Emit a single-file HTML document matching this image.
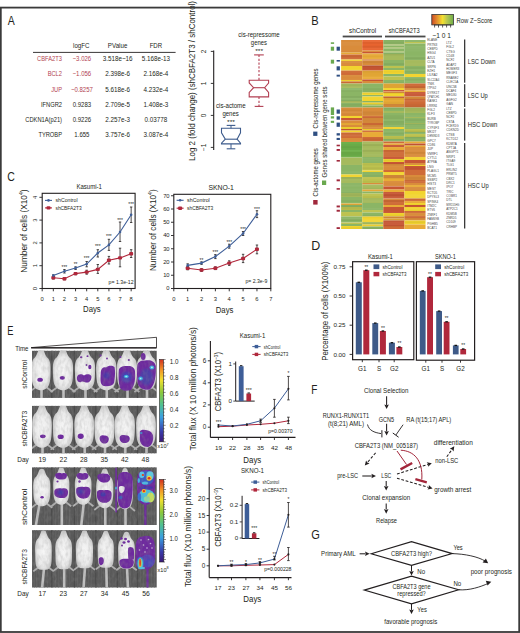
<!DOCTYPE html>
<html><head><meta charset="utf-8"><style>
html,body{margin:0;padding:0;background:#fff;overflow:hidden;width:520px;height:633px;}
svg{display:block;}
text{font-family:"Liberation Sans",sans-serif;}
</style></head><body>
<svg width="520" height="633" viewBox="0 0 520 633">
<rect x="0" y="0" width="520" height="633" fill="#fff"/>
<g fill="#231f20">
<text x="7.80" y="24.70" font-size="12" textLength="7.00" lengthAdjust="spacingAndGlyphs">A</text>
<text x="81.30" y="48.08" font-size="7.0" text-anchor="middle" textLength="16.50" lengthAdjust="spacingAndGlyphs">logFC</text>
<text x="117.60" y="48.08" font-size="7.0" text-anchor="middle" textLength="19.50" lengthAdjust="spacingAndGlyphs">PValue</text>
<text x="155.90" y="48.08" font-size="7.0" text-anchor="middle" textLength="12.50" lengthAdjust="spacingAndGlyphs">FDR</text>
<line x1="33.00" y1="52.40" x2="175.60" y2="52.40" stroke="#231f20" stroke-width="0.9"/>
<text x="62.00" y="61.28" font-size="7.0" text-anchor="end" fill="#b23f52" textLength="24.88" lengthAdjust="spacingAndGlyphs">CBFA2T3</text>
<text x="81.90" y="61.28" font-size="7.0" text-anchor="middle" fill="#b23f52" textLength="18.58" lengthAdjust="spacingAndGlyphs">−3.026</text>
<text x="117.60" y="61.28" font-size="7.0" text-anchor="middle" textLength="29.95" lengthAdjust="spacingAndGlyphs">3.518e−16</text>
<text x="155.90" y="61.28" font-size="7.0" text-anchor="middle" textLength="28.37" lengthAdjust="spacingAndGlyphs">5.168e-13</text>
<text x="62.00" y="76.40" font-size="7.0" text-anchor="end" fill="#b23f52" textLength="14.36" lengthAdjust="spacingAndGlyphs">BCL2</text>
<text x="81.90" y="76.40" font-size="7.0" text-anchor="middle" fill="#b23f52" textLength="18.58" lengthAdjust="spacingAndGlyphs">−1.056</text>
<text x="117.60" y="76.40" font-size="7.0" text-anchor="middle" textLength="24.87" lengthAdjust="spacingAndGlyphs">2.398e-6</text>
<text x="155.90" y="76.40" font-size="7.0" text-anchor="middle" textLength="24.87" lengthAdjust="spacingAndGlyphs">2.168e-4</text>
<text x="62.00" y="91.52" font-size="7.0" text-anchor="end" fill="#b23f52" textLength="10.84" lengthAdjust="spacingAndGlyphs">JUP</text>
<text x="81.90" y="91.52" font-size="7.0" text-anchor="middle" fill="#b23f52" textLength="21.93" lengthAdjust="spacingAndGlyphs">−0.8257</text>
<text x="117.60" y="91.52" font-size="7.0" text-anchor="middle" textLength="24.87" lengthAdjust="spacingAndGlyphs">5.618e-6</text>
<text x="155.90" y="91.52" font-size="7.0" text-anchor="middle" textLength="24.87" lengthAdjust="spacingAndGlyphs">4.232e-4</text>
<text x="62.00" y="106.64" font-size="7.0" text-anchor="end" textLength="21.05" lengthAdjust="spacingAndGlyphs">IFNGR2</text>
<text x="81.90" y="106.64" font-size="7.0" text-anchor="middle" textLength="18.41" lengthAdjust="spacingAndGlyphs">0.9283</text>
<text x="117.60" y="106.64" font-size="7.0" text-anchor="middle" textLength="24.87" lengthAdjust="spacingAndGlyphs">2.709e-5</text>
<text x="155.90" y="106.64" font-size="7.0" text-anchor="middle" textLength="24.87" lengthAdjust="spacingAndGlyphs">1.408e-3</text>
<text x="62.00" y="121.76" font-size="7.0" text-anchor="end" textLength="36.68" lengthAdjust="spacingAndGlyphs">CDKN1A(p21)</text>
<text x="81.90" y="121.76" font-size="7.0" text-anchor="middle" textLength="18.41" lengthAdjust="spacingAndGlyphs">0.9226</text>
<text x="117.60" y="121.76" font-size="7.0" text-anchor="middle" textLength="24.87" lengthAdjust="spacingAndGlyphs">2.257e-3</text>
<text x="155.90" y="121.76" font-size="7.0" text-anchor="middle" textLength="22.77" lengthAdjust="spacingAndGlyphs">0.03778</text>
<text x="62.00" y="136.88" font-size="7.0" text-anchor="end" textLength="23.60" lengthAdjust="spacingAndGlyphs">TYROBP</text>
<text x="81.90" y="136.88" font-size="7.0" text-anchor="middle" textLength="15.06" lengthAdjust="spacingAndGlyphs">1.655</text>
<text x="117.60" y="136.88" font-size="7.0" text-anchor="middle" textLength="24.87" lengthAdjust="spacingAndGlyphs">3.757e-6</text>
<text x="155.90" y="136.88" font-size="7.0" text-anchor="middle" textLength="24.87" lengthAdjust="spacingAndGlyphs">3.087e-4</text>
<line x1="213.70" y1="50.50" x2="213.70" y2="150.00" stroke="#231f20" stroke-width="1.1"/>
<line x1="210.80" y1="51.40" x2="213.70" y2="51.40" stroke="#231f20" stroke-width="0.9"/>
<text x="206.40" y="51.40" font-size="6.5" text-anchor="middle" transform="rotate(-90 206.4 51.40)">2</text>
<line x1="210.80" y1="83.40" x2="213.70" y2="83.40" stroke="#231f20" stroke-width="0.9"/>
<text x="206.40" y="83.40" font-size="6.5" text-anchor="middle" transform="rotate(-90 206.4 83.40)">1</text>
<line x1="210.80" y1="115.40" x2="213.70" y2="115.40" stroke="#231f20" stroke-width="0.9"/>
<text x="206.40" y="115.40" font-size="6.5" text-anchor="middle" transform="rotate(-90 206.4 115.40)">0</text>
<line x1="210.80" y1="147.40" x2="213.70" y2="147.40" stroke="#231f20" stroke-width="0.9"/>
<text x="206.40" y="147.40" font-size="6.5" text-anchor="middle" transform="rotate(-90 206.4 147.40)">−1</text>
<text x="195.36" y="160.90" font-size="8.7" textLength="159.90" lengthAdjust="spacingAndGlyphs" transform="rotate(-90 195.36 160.90)">Log 2 (fold change) (shCBFA2T3 / shControl)</text>
<path d="M221.5,128.3 L240.5,128.3 L240.5,132.8 L237.1,139.2 L240.5,143.2 L240.5,143.9 L221.5,143.9 L221.5,143.2 L225.3,139.2 L221.5,132.8 Z" fill="none" stroke="#3d5b8c" stroke-width="1.1"/>
<line x1="225.30" y1="139.20" x2="237.10" y2="139.20" stroke="#3d5b8c" stroke-width="1.1"/>
<line x1="231.00" y1="125.40" x2="231.00" y2="128.30" stroke="#3d5b8c" stroke-width="1"/>
<line x1="226.70" y1="125.40" x2="235.30" y2="125.40" stroke="#3d5b8c" stroke-width="1.1"/>
<line x1="231.00" y1="143.90" x2="231.00" y2="148.80" stroke="#3d5b8c" stroke-width="1"/>
<line x1="226.70" y1="148.80" x2="235.30" y2="148.80" stroke="#3d5b8c" stroke-width="1.1"/>
<text x="231.00" y="123.50" font-size="6" text-anchor="middle" textLength="8.00" lengthAdjust="spacingAndGlyphs">***</text>
<text x="230.80" y="108.11" font-size="6.8" text-anchor="middle" textLength="29.70" lengthAdjust="spacingAndGlyphs">cis-actome</text>
<text x="230.60" y="116.31" font-size="6.8" text-anchor="middle" textLength="16.40" lengthAdjust="spacingAndGlyphs">genes</text>
<path d="M249.2,80.2 L268.6,80.2 L268.6,83.0 L264.6,87.7 L268.6,92.5 L268.6,96.9 L249.2,96.9 L249.2,92.5 L253.6,87.7 L249.2,83.0 Z" fill="none" stroke="#b23f52" stroke-width="1.1"/>
<line x1="253.60" y1="87.70" x2="264.60" y2="87.70" stroke="#b23f52" stroke-width="1.1"/>
<line x1="259.00" y1="54.90" x2="259.00" y2="80.20" stroke="#b23f52" stroke-width="1.1" stroke-dasharray="2.2 1.6"/>
<line x1="254.20" y1="54.90" x2="263.80" y2="54.90" stroke="#b23f52" stroke-width="1.1"/>
<line x1="259.00" y1="96.90" x2="259.00" y2="106.40" stroke="#b23f52" stroke-width="1.1" stroke-dasharray="2.2 1.6"/>
<line x1="254.70" y1="106.40" x2="263.40" y2="106.40" stroke="#b23f52" stroke-width="1.1"/>
<text x="259.20" y="53.00" font-size="6" text-anchor="middle" textLength="8.00" lengthAdjust="spacingAndGlyphs">***</text>
<text x="259.00" y="36.91" font-size="6.8" text-anchor="middle" textLength="41.50" lengthAdjust="spacingAndGlyphs">cis-repressome</text>
<text x="258.90" y="45.11" font-size="6.8" text-anchor="middle" textLength="16.10" lengthAdjust="spacingAndGlyphs">genes</text>
<text x="311.20" y="24.70" font-size="12" textLength="7.40" lengthAdjust="spacingAndGlyphs">B</text>
<text x="362.60" y="32.58" font-size="7" text-anchor="middle" textLength="27.00" lengthAdjust="spacingAndGlyphs">shControl</text>
<text x="404.20" y="32.58" font-size="7" text-anchor="middle" textLength="31.00" lengthAdjust="spacingAndGlyphs">shCBFA2T3</text>
<rect x="342.70" y="35.60" width="39.30" height="1.80" fill="#4a4a4a"/>
<rect x="385.00" y="35.60" width="40.50" height="1.80" fill="#4a4a4a"/>
<rect x="341.10" y="40.00" width="21.12" height="12.52" fill="#d98c3b"/>
<rect x="341.10" y="52.50" width="21.12" height="2.02" fill="#e8ab37"/>
<rect x="341.10" y="54.50" width="21.12" height="5.02" fill="#cf6b37"/>
<rect x="341.10" y="59.50" width="21.12" height="1.52" fill="#f2d42f"/>
<rect x="341.10" y="61.00" width="21.12" height="5.02" fill="#d98c3b"/>
<rect x="341.10" y="66.00" width="21.12" height="4.62" fill="#f2d42f"/>
<rect x="341.10" y="70.60" width="21.12" height="4.42" fill="#cf6b37"/>
<rect x="341.10" y="75.00" width="21.12" height="5.02" fill="#d98c3b"/>
<rect x="341.10" y="80.00" width="21.12" height="1.52" fill="#f2d42f"/>
<rect x="341.10" y="81.50" width="21.12" height="2.02" fill="#cf6b37"/>
<rect x="341.10" y="83.50" width="21.12" height="4.52" fill="#a5ba5d"/>
<rect x="341.10" y="88.00" width="21.12" height="13.02" fill="#8bb565"/>
<rect x="341.10" y="101.00" width="21.12" height="2.02" fill="#a5ba5d"/>
<rect x="341.10" y="103.00" width="21.12" height="4.52" fill="#8bb565"/>
<rect x="341.10" y="107.50" width="21.12" height="8.52" fill="#d98c3b"/>
<rect x="341.10" y="116.00" width="21.12" height="2.02" fill="#f2d42f"/>
<rect x="341.10" y="118.00" width="21.12" height="2.52" fill="#c75634"/>
<rect x="341.10" y="120.50" width="21.12" height="2.52" fill="#d98c3b"/>
<rect x="341.10" y="123.00" width="21.12" height="2.02" fill="#e8ab37"/>
<rect x="341.10" y="125.00" width="21.12" height="2.02" fill="#d98c3b"/>
<rect x="341.10" y="127.00" width="21.12" height="2.02" fill="#f2d42f"/>
<rect x="341.10" y="129.00" width="21.12" height="1.52" fill="#c75634"/>
<rect x="341.10" y="130.50" width="21.12" height="2.02" fill="#f2d42f"/>
<rect x="341.10" y="132.50" width="21.12" height="5.52" fill="#cf6b37"/>
<rect x="341.10" y="138.00" width="21.12" height="4.02" fill="#d98c3b"/>
<rect x="341.10" y="142.00" width="21.12" height="15.52" fill="#6db04a"/>
<rect x="341.10" y="157.50" width="21.12" height="7.52" fill="#a5ba5d"/>
<rect x="341.10" y="165.00" width="21.12" height="9.52" fill="#8bb565"/>
<rect x="341.10" y="174.50" width="21.12" height="2.52" fill="#f2d42f"/>
<rect x="341.10" y="177.00" width="21.12" height="6.02" fill="#a5ba5d"/>
<rect x="341.10" y="183.00" width="21.12" height="10.02" fill="#8bb565"/>
<rect x="341.10" y="193.00" width="21.12" height="4.02" fill="#a5ba5d"/>
<rect x="341.10" y="197.00" width="21.12" height="6.52" fill="#8bb565"/>
<rect x="341.10" y="203.50" width="21.12" height="1.52" fill="#e8ab37"/>
<rect x="341.10" y="205.00" width="21.12" height="2.02" fill="#8bb565"/>
<rect x="341.10" y="207.00" width="21.12" height="3.02" fill="#bdc24f"/>
<rect x="341.10" y="210.00" width="21.12" height="2.02" fill="#8bb565"/>
<rect x="341.10" y="212.00" width="21.12" height="4.52" fill="#bdc24f"/>
<rect x="341.10" y="216.50" width="21.12" height="6.02" fill="#8bb565"/>
<rect x="341.10" y="222.50" width="21.12" height="1.52" fill="#bdc24f"/>
<rect x="341.10" y="224.00" width="21.12" height="2.02" fill="#8bb565"/>
<rect x="341.10" y="226.00" width="21.12" height="3.02" fill="#f2d42f"/>
<rect x="362.20" y="40.00" width="21.12" height="10.52" fill="#e8642f"/>
<rect x="362.20" y="50.50" width="21.12" height="1.52" fill="#d98c3b"/>
<rect x="362.20" y="52.00" width="21.12" height="1.52" fill="#c75634"/>
<rect x="362.20" y="53.50" width="21.12" height="6.02" fill="#e8ab37"/>
<rect x="362.20" y="59.50" width="21.12" height="0.92" fill="#cf6b37"/>
<rect x="362.20" y="60.40" width="21.12" height="5.12" fill="#d98c3b"/>
<rect x="362.20" y="65.50" width="21.12" height="5.12" fill="#c75634"/>
<rect x="362.20" y="70.60" width="21.12" height="8.92" fill="#e8ab37"/>
<rect x="362.20" y="79.50" width="21.12" height="1.52" fill="#c75634"/>
<rect x="362.20" y="81.00" width="21.12" height="2.52" fill="#d98c3b"/>
<rect x="362.20" y="83.50" width="21.12" height="9.02" fill="#8bb565"/>
<rect x="362.20" y="92.50" width="21.12" height="2.52" fill="#f2d42f"/>
<rect x="362.20" y="95.00" width="21.12" height="1.52" fill="#8bb565"/>
<rect x="362.20" y="96.50" width="21.12" height="4.52" fill="#f2d42f"/>
<rect x="362.20" y="101.00" width="21.12" height="1.52" fill="#8bb565"/>
<rect x="362.20" y="102.50" width="21.12" height="1.52" fill="#f2d42f"/>
<rect x="362.20" y="104.00" width="21.12" height="1.52" fill="#bdc24f"/>
<rect x="362.20" y="105.50" width="21.12" height="2.02" fill="#8bb565"/>
<rect x="362.20" y="107.50" width="21.12" height="8.52" fill="#d98c3b"/>
<rect x="362.20" y="116.00" width="21.12" height="2.02" fill="#cf6b37"/>
<rect x="362.20" y="118.00" width="21.12" height="5.02" fill="#d98c3b"/>
<rect x="362.20" y="123.00" width="21.12" height="2.02" fill="#cf6b37"/>
<rect x="362.20" y="125.00" width="21.12" height="4.02" fill="#d98c3b"/>
<rect x="362.20" y="129.00" width="21.12" height="1.52" fill="#f2d42f"/>
<rect x="362.20" y="130.50" width="21.12" height="1.52" fill="#cf6b37"/>
<rect x="362.20" y="132.00" width="21.12" height="5.02" fill="#e8ab37"/>
<rect x="362.20" y="137.00" width="21.12" height="4.52" fill="#cf6b37"/>
<rect x="362.20" y="141.50" width="21.12" height="15.52" fill="#a5ba5d"/>
<rect x="362.20" y="157.00" width="21.12" height="6.02" fill="#8bb565"/>
<rect x="362.20" y="163.00" width="21.12" height="7.52" fill="#bdc24f"/>
<rect x="362.20" y="170.50" width="21.12" height="1.52" fill="#f2d42f"/>
<rect x="362.20" y="172.00" width="21.12" height="5.02" fill="#8bb565"/>
<rect x="362.20" y="177.00" width="21.12" height="6.02" fill="#bdc24f"/>
<rect x="362.20" y="183.00" width="21.12" height="1.52" fill="#d98c3b"/>
<rect x="362.20" y="184.50" width="21.12" height="5.02" fill="#a5ba5d"/>
<rect x="362.20" y="189.50" width="21.12" height="2.02" fill="#e8ab37"/>
<rect x="362.20" y="191.50" width="21.12" height="2.02" fill="#8bb565"/>
<rect x="362.20" y="193.50" width="21.12" height="4.52" fill="#bdc24f"/>
<rect x="362.20" y="198.00" width="21.12" height="5.02" fill="#a5ba5d"/>
<rect x="362.20" y="203.00" width="21.12" height="7.02" fill="#8bb565"/>
<rect x="362.20" y="210.00" width="21.12" height="2.52" fill="#bdc24f"/>
<rect x="362.20" y="212.50" width="21.12" height="4.02" fill="#8bb565"/>
<rect x="362.20" y="216.50" width="21.12" height="5.52" fill="#f2d42f"/>
<rect x="362.20" y="222.00" width="21.12" height="2.52" fill="#a5ba5d"/>
<rect x="362.20" y="224.50" width="21.12" height="2.02" fill="#f2d42f"/>
<rect x="362.20" y="226.50" width="21.12" height="2.52" fill="#8bb565"/>
<rect x="383.30" y="40.00" width="21.12" height="4.52" fill="#8bb565"/>
<rect x="383.30" y="44.50" width="21.12" height="1.02" fill="#a5ba5d"/>
<rect x="383.30" y="45.50" width="21.12" height="2.02" fill="#8bb565"/>
<rect x="383.30" y="47.50" width="21.12" height="1.02" fill="#a5ba5d"/>
<rect x="383.30" y="48.50" width="21.12" height="3.02" fill="#8bb565"/>
<rect x="383.30" y="51.50" width="21.12" height="1.02" fill="#a5ba5d"/>
<rect x="383.30" y="52.50" width="21.12" height="1.52" fill="#8bb565"/>
<rect x="383.30" y="54.00" width="21.12" height="6.02" fill="#a5ba5d"/>
<rect x="383.30" y="60.00" width="21.12" height="6.02" fill="#8bb565"/>
<rect x="383.30" y="66.00" width="21.12" height="2.02" fill="#bdc24f"/>
<rect x="383.30" y="68.00" width="21.12" height="2.02" fill="#8bb565"/>
<rect x="383.30" y="70.00" width="21.12" height="4.02" fill="#f2d42f"/>
<rect x="383.30" y="74.00" width="21.12" height="2.52" fill="#8bb565"/>
<rect x="383.30" y="76.50" width="21.12" height="3.52" fill="#bdc24f"/>
<rect x="383.30" y="80.00" width="21.12" height="3.52" fill="#8bb565"/>
<rect x="383.30" y="83.50" width="21.12" height="4.52" fill="#e8ab37"/>
<rect x="383.30" y="88.00" width="21.12" height="2.02" fill="#f2d42f"/>
<rect x="383.30" y="90.00" width="21.12" height="1.52" fill="#c75634"/>
<rect x="383.30" y="91.50" width="21.12" height="1.52" fill="#d98c3b"/>
<rect x="383.30" y="93.00" width="21.12" height="3.52" fill="#f2d42f"/>
<rect x="383.30" y="96.50" width="21.12" height="1.52" fill="#cf6b37"/>
<rect x="383.30" y="98.00" width="21.12" height="4.02" fill="#e8ab37"/>
<rect x="383.30" y="102.00" width="21.12" height="2.02" fill="#e8ab37"/>
<rect x="383.30" y="104.00" width="21.12" height="3.52" fill="#d98c3b"/>
<rect x="383.30" y="107.50" width="21.12" height="3.52" fill="#8bb565"/>
<rect x="383.30" y="111.00" width="21.12" height="2.02" fill="#a5ba5d"/>
<rect x="383.30" y="113.00" width="21.12" height="14.02" fill="#8bb565"/>
<rect x="383.30" y="127.00" width="21.12" height="2.02" fill="#f2d42f"/>
<rect x="383.30" y="129.00" width="21.12" height="7.02" fill="#8bb565"/>
<rect x="383.30" y="136.00" width="21.12" height="3.02" fill="#bdc24f"/>
<rect x="383.30" y="139.00" width="21.12" height="2.52" fill="#8bb565"/>
<rect x="383.30" y="141.50" width="21.12" height="2.02" fill="#cf6b37"/>
<rect x="383.30" y="143.50" width="21.12" height="1.52" fill="#e8ab37"/>
<rect x="383.30" y="145.00" width="21.12" height="2.02" fill="#c75634"/>
<rect x="383.30" y="147.00" width="21.12" height="3.02" fill="#e8ab37"/>
<rect x="383.30" y="150.00" width="21.12" height="7.02" fill="#cf6b37"/>
<rect x="383.30" y="157.00" width="21.12" height="2.02" fill="#c75634"/>
<rect x="383.30" y="159.00" width="21.12" height="3.02" fill="#f2d42f"/>
<rect x="383.30" y="162.00" width="21.12" height="2.02" fill="#c75634"/>
<rect x="383.30" y="164.00" width="21.12" height="6.02" fill="#d98c3b"/>
<rect x="383.30" y="170.00" width="21.12" height="2.02" fill="#cf6b37"/>
<rect x="383.30" y="172.00" width="21.12" height="3.02" fill="#f2d42f"/>
<rect x="383.30" y="175.00" width="21.12" height="3.02" fill="#d98c3b"/>
<rect x="383.30" y="178.00" width="21.12" height="3.02" fill="#e8ab37"/>
<rect x="383.30" y="181.00" width="21.12" height="5.52" fill="#d98c3b"/>
<rect x="383.30" y="186.50" width="21.12" height="3.02" fill="#c75634"/>
<rect x="383.30" y="189.50" width="21.12" height="2.52" fill="#e8ab37"/>
<rect x="383.30" y="192.00" width="21.12" height="6.52" fill="#c75634"/>
<rect x="383.30" y="198.50" width="21.12" height="1.52" fill="#d98c3b"/>
<rect x="383.30" y="200.00" width="21.12" height="5.02" fill="#cf6b37"/>
<rect x="383.30" y="205.00" width="21.12" height="2.02" fill="#e8ab37"/>
<rect x="383.30" y="207.00" width="21.12" height="6.02" fill="#c75634"/>
<rect x="383.30" y="213.00" width="21.12" height="3.52" fill="#f2d42f"/>
<rect x="383.30" y="216.50" width="21.12" height="2.02" fill="#d98c3b"/>
<rect x="383.30" y="218.50" width="21.12" height="2.02" fill="#e8ab37"/>
<rect x="383.30" y="220.50" width="21.12" height="5.52" fill="#c75634"/>
<rect x="383.30" y="226.00" width="21.12" height="3.02" fill="#cf6b37"/>
<rect x="404.40" y="40.00" width="21.12" height="2.02" fill="#8bb565"/>
<rect x="404.40" y="42.00" width="21.12" height="1.52" fill="#bdc24f"/>
<rect x="404.40" y="43.50" width="21.12" height="16.52" fill="#8bb565"/>
<rect x="404.40" y="60.00" width="21.12" height="6.02" fill="#a5ba5d"/>
<rect x="404.40" y="66.00" width="21.12" height="8.02" fill="#8bb565"/>
<rect x="404.40" y="74.00" width="21.12" height="3.02" fill="#f2d42f"/>
<rect x="404.40" y="77.00" width="21.12" height="6.52" fill="#8bb565"/>
<rect x="404.40" y="83.50" width="21.12" height="4.52" fill="#cf6b37"/>
<rect x="404.40" y="88.00" width="21.12" height="2.52" fill="#d98c3b"/>
<rect x="404.40" y="90.50" width="21.12" height="1.52" fill="#e8ab37"/>
<rect x="404.40" y="92.00" width="21.12" height="4.52" fill="#c75634"/>
<rect x="404.40" y="96.50" width="21.12" height="2.52" fill="#d98c3b"/>
<rect x="404.40" y="99.00" width="21.12" height="8.52" fill="#cf6b37"/>
<rect x="404.40" y="107.50" width="21.12" height="5.52" fill="#a5ba5d"/>
<rect x="404.40" y="113.00" width="21.12" height="4.02" fill="#8bb565"/>
<rect x="404.40" y="117.00" width="21.12" height="1.02" fill="#a5ba5d"/>
<rect x="404.40" y="118.00" width="21.12" height="5.02" fill="#8bb565"/>
<rect x="404.40" y="123.00" width="21.12" height="1.02" fill="#a5ba5d"/>
<rect x="404.40" y="124.00" width="21.12" height="5.02" fill="#8bb565"/>
<rect x="404.40" y="129.00" width="21.12" height="3.02" fill="#bdc24f"/>
<rect x="404.40" y="132.00" width="21.12" height="2.02" fill="#8bb565"/>
<rect x="404.40" y="134.00" width="21.12" height="3.02" fill="#bdc24f"/>
<rect x="404.40" y="137.00" width="21.12" height="4.52" fill="#8bb565"/>
<rect x="404.40" y="141.50" width="21.12" height="2.02" fill="#e8ab37"/>
<rect x="404.40" y="143.50" width="21.12" height="2.02" fill="#c75634"/>
<rect x="404.40" y="145.50" width="21.12" height="1.52" fill="#e8ab37"/>
<rect x="404.40" y="147.00" width="21.12" height="10.02" fill="#d98c3b"/>
<rect x="404.40" y="157.00" width="21.12" height="3.02" fill="#f2d42f"/>
<rect x="404.40" y="160.00" width="21.12" height="3.02" fill="#c75634"/>
<rect x="404.40" y="163.00" width="21.12" height="2.02" fill="#d98c3b"/>
<rect x="404.40" y="165.00" width="21.12" height="1.02" fill="#f2d42f"/>
<rect x="404.40" y="166.00" width="21.12" height="4.02" fill="#c75634"/>
<rect x="404.40" y="170.00" width="21.12" height="5.02" fill="#cf6b37"/>
<rect x="404.40" y="175.00" width="21.12" height="5.02" fill="#d98c3b"/>
<rect x="404.40" y="180.00" width="21.12" height="3.02" fill="#cf6b37"/>
<rect x="404.40" y="183.00" width="21.12" height="2.02" fill="#d98c3b"/>
<rect x="404.40" y="185.00" width="21.12" height="2.02" fill="#e8ab37"/>
<rect x="404.40" y="187.00" width="21.12" height="4.02" fill="#d98c3b"/>
<rect x="404.40" y="191.00" width="21.12" height="7.52" fill="#f2d42f"/>
<rect x="404.40" y="198.50" width="21.12" height="2.52" fill="#cf6b37"/>
<rect x="404.40" y="201.00" width="21.12" height="2.02" fill="#e8ab37"/>
<rect x="404.40" y="203.00" width="21.12" height="2.02" fill="#f2d42f"/>
<rect x="404.40" y="205.00" width="21.12" height="2.02" fill="#c75634"/>
<rect x="404.40" y="207.00" width="21.12" height="4.02" fill="#f2d42f"/>
<rect x="404.40" y="211.00" width="21.12" height="2.02" fill="#cf6b37"/>
<rect x="404.40" y="213.00" width="21.12" height="3.02" fill="#d98c3b"/>
<rect x="404.40" y="216.00" width="21.12" height="2.02" fill="#cf6b37"/>
<rect x="404.40" y="218.00" width="21.12" height="2.52" fill="#d98c3b"/>
<rect x="404.40" y="220.50" width="21.12" height="4.02" fill="#f2d42f"/>
<rect x="404.40" y="224.50" width="21.12" height="4.52" fill="#e8ab37"/>
<rect x="341.10" y="41.93" width="21.12" height="1.93" fill="#fff" fill-opacity="0.039"/>
<rect x="341.10" y="43.86" width="21.12" height="1.93" fill="#fff" fill-opacity="0.032"/>
<rect x="341.10" y="51.57" width="21.12" height="1.93" fill="#000" fill-opacity="0.025"/>
<rect x="341.10" y="55.43" width="21.12" height="1.93" fill="#000" fill-opacity="0.038"/>
<rect x="341.10" y="57.36" width="21.12" height="1.93" fill="#fff" fill-opacity="0.035"/>
<rect x="341.10" y="59.29" width="21.12" height="1.93" fill="#fff" fill-opacity="0.059"/>
<rect x="341.10" y="61.21" width="21.12" height="1.93" fill="#fff" fill-opacity="0.052"/>
<rect x="341.10" y="68.93" width="21.12" height="1.93" fill="#fff" fill-opacity="0.038"/>
<rect x="341.10" y="70.86" width="21.12" height="1.93" fill="#fff" fill-opacity="0.033"/>
<rect x="341.10" y="74.71" width="21.12" height="1.93" fill="#fff" fill-opacity="0.041"/>
<rect x="341.10" y="78.57" width="21.12" height="1.93" fill="#fff" fill-opacity="0.027"/>
<rect x="341.10" y="80.50" width="21.12" height="1.93" fill="#000" fill-opacity="0.048"/>
<rect x="341.10" y="84.36" width="21.12" height="1.93" fill="#000" fill-opacity="0.032"/>
<rect x="341.10" y="86.29" width="21.12" height="1.93" fill="#fff" fill-opacity="0.044"/>
<rect x="341.10" y="88.21" width="21.12" height="1.93" fill="#fff" fill-opacity="0.059"/>
<rect x="341.10" y="90.14" width="21.12" height="1.93" fill="#000" fill-opacity="0.025"/>
<rect x="341.10" y="95.93" width="21.12" height="1.93" fill="#000" fill-opacity="0.046"/>
<rect x="341.10" y="97.86" width="21.12" height="1.93" fill="#fff" fill-opacity="0.053"/>
<rect x="341.10" y="99.79" width="21.12" height="1.93" fill="#000" fill-opacity="0.042"/>
<rect x="341.10" y="101.71" width="21.12" height="1.93" fill="#fff" fill-opacity="0.035"/>
<rect x="341.10" y="103.64" width="21.12" height="1.93" fill="#000" fill-opacity="0.050"/>
<rect x="341.10" y="105.57" width="21.12" height="1.93" fill="#000" fill-opacity="0.028"/>
<rect x="341.10" y="109.43" width="21.12" height="1.93" fill="#000" fill-opacity="0.039"/>
<rect x="341.10" y="111.36" width="21.12" height="1.93" fill="#fff" fill-opacity="0.049"/>
<rect x="341.10" y="113.29" width="21.12" height="1.93" fill="#000" fill-opacity="0.023"/>
<rect x="341.10" y="122.93" width="21.12" height="1.93" fill="#000" fill-opacity="0.023"/>
<rect x="341.10" y="126.79" width="21.12" height="1.93" fill="#000" fill-opacity="0.033"/>
<rect x="341.10" y="128.71" width="21.12" height="1.93" fill="#000" fill-opacity="0.049"/>
<rect x="341.10" y="132.57" width="21.12" height="1.93" fill="#000" fill-opacity="0.022"/>
<rect x="341.10" y="134.50" width="21.12" height="1.93" fill="#fff" fill-opacity="0.057"/>
<rect x="341.10" y="140.29" width="21.12" height="1.93" fill="#fff" fill-opacity="0.035"/>
<rect x="341.10" y="144.14" width="21.12" height="1.93" fill="#000" fill-opacity="0.022"/>
<rect x="341.10" y="146.07" width="21.12" height="1.93" fill="#000" fill-opacity="0.057"/>
<rect x="341.10" y="148.00" width="21.12" height="1.93" fill="#000" fill-opacity="0.031"/>
<rect x="341.10" y="149.93" width="21.12" height="1.93" fill="#fff" fill-opacity="0.041"/>
<rect x="341.10" y="151.86" width="21.12" height="1.93" fill="#000" fill-opacity="0.054"/>
<rect x="341.10" y="153.79" width="21.12" height="1.93" fill="#000" fill-opacity="0.052"/>
<rect x="341.10" y="155.71" width="21.12" height="1.93" fill="#fff" fill-opacity="0.024"/>
<rect x="341.10" y="163.43" width="21.12" height="1.93" fill="#fff" fill-opacity="0.020"/>
<rect x="341.10" y="171.14" width="21.12" height="1.93" fill="#fff" fill-opacity="0.037"/>
<rect x="341.10" y="175.00" width="21.12" height="1.93" fill="#fff" fill-opacity="0.022"/>
<rect x="341.10" y="176.93" width="21.12" height="1.93" fill="#000" fill-opacity="0.051"/>
<rect x="341.10" y="178.86" width="21.12" height="1.93" fill="#fff" fill-opacity="0.028"/>
<rect x="341.10" y="182.71" width="21.12" height="1.93" fill="#fff" fill-opacity="0.021"/>
<rect x="341.10" y="184.64" width="21.12" height="1.93" fill="#fff" fill-opacity="0.050"/>
<rect x="341.10" y="188.50" width="21.12" height="1.93" fill="#fff" fill-opacity="0.032"/>
<rect x="341.10" y="190.43" width="21.12" height="1.93" fill="#fff" fill-opacity="0.033"/>
<rect x="341.10" y="192.36" width="21.12" height="1.93" fill="#000" fill-opacity="0.032"/>
<rect x="341.10" y="194.29" width="21.12" height="1.93" fill="#000" fill-opacity="0.052"/>
<rect x="341.10" y="200.07" width="21.12" height="1.93" fill="#000" fill-opacity="0.032"/>
<rect x="341.10" y="203.93" width="21.12" height="1.93" fill="#000" fill-opacity="0.049"/>
<rect x="341.10" y="205.86" width="21.12" height="1.93" fill="#000" fill-opacity="0.051"/>
<rect x="341.10" y="207.79" width="21.12" height="1.93" fill="#000" fill-opacity="0.049"/>
<rect x="341.10" y="211.64" width="21.12" height="1.93" fill="#fff" fill-opacity="0.021"/>
<rect x="341.10" y="217.43" width="21.12" height="1.93" fill="#fff" fill-opacity="0.057"/>
<rect x="341.10" y="219.36" width="21.12" height="1.93" fill="#000" fill-opacity="0.056"/>
<rect x="341.10" y="221.29" width="21.12" height="1.93" fill="#fff" fill-opacity="0.057"/>
<rect x="341.10" y="227.07" width="21.12" height="1.93" fill="#000" fill-opacity="0.037"/>
<rect x="362.20" y="40.00" width="21.12" height="1.93" fill="#fff" fill-opacity="0.050"/>
<rect x="362.20" y="41.93" width="21.12" height="1.93" fill="#000" fill-opacity="0.039"/>
<rect x="362.20" y="45.79" width="21.12" height="1.93" fill="#000" fill-opacity="0.055"/>
<rect x="362.20" y="47.71" width="21.12" height="1.93" fill="#fff" fill-opacity="0.045"/>
<rect x="362.20" y="53.50" width="21.12" height="1.93" fill="#fff" fill-opacity="0.058"/>
<rect x="362.20" y="55.43" width="21.12" height="1.93" fill="#000" fill-opacity="0.024"/>
<rect x="362.20" y="57.36" width="21.12" height="1.93" fill="#fff" fill-opacity="0.043"/>
<rect x="362.20" y="61.21" width="21.12" height="1.93" fill="#000" fill-opacity="0.054"/>
<rect x="362.20" y="65.07" width="21.12" height="1.93" fill="#000" fill-opacity="0.059"/>
<rect x="362.20" y="67.00" width="21.12" height="1.93" fill="#000" fill-opacity="0.021"/>
<rect x="362.20" y="70.86" width="21.12" height="1.93" fill="#000" fill-opacity="0.058"/>
<rect x="362.20" y="72.79" width="21.12" height="1.93" fill="#000" fill-opacity="0.032"/>
<rect x="362.20" y="74.71" width="21.12" height="1.93" fill="#000" fill-opacity="0.026"/>
<rect x="362.20" y="76.64" width="21.12" height="1.93" fill="#fff" fill-opacity="0.050"/>
<rect x="362.20" y="86.29" width="21.12" height="1.93" fill="#fff" fill-opacity="0.021"/>
<rect x="362.20" y="88.21" width="21.12" height="1.93" fill="#000" fill-opacity="0.035"/>
<rect x="362.20" y="90.14" width="21.12" height="1.93" fill="#000" fill-opacity="0.025"/>
<rect x="362.20" y="92.07" width="21.12" height="1.93" fill="#000" fill-opacity="0.030"/>
<rect x="362.20" y="94.00" width="21.12" height="1.93" fill="#fff" fill-opacity="0.031"/>
<rect x="362.20" y="95.93" width="21.12" height="1.93" fill="#fff" fill-opacity="0.026"/>
<rect x="362.20" y="101.71" width="21.12" height="1.93" fill="#000" fill-opacity="0.044"/>
<rect x="362.20" y="105.57" width="21.12" height="1.93" fill="#000" fill-opacity="0.033"/>
<rect x="362.20" y="111.36" width="21.12" height="1.93" fill="#000" fill-opacity="0.046"/>
<rect x="362.20" y="113.29" width="21.12" height="1.93" fill="#000" fill-opacity="0.034"/>
<rect x="362.20" y="115.21" width="21.12" height="1.93" fill="#fff" fill-opacity="0.055"/>
<rect x="362.20" y="117.14" width="21.12" height="1.93" fill="#000" fill-opacity="0.037"/>
<rect x="362.20" y="119.07" width="21.12" height="1.93" fill="#000" fill-opacity="0.031"/>
<rect x="362.20" y="121.00" width="21.12" height="1.93" fill="#000" fill-opacity="0.027"/>
<rect x="362.20" y="122.93" width="21.12" height="1.93" fill="#000" fill-opacity="0.029"/>
<rect x="362.20" y="124.86" width="21.12" height="1.93" fill="#000" fill-opacity="0.042"/>
<rect x="362.20" y="126.79" width="21.12" height="1.93" fill="#fff" fill-opacity="0.057"/>
<rect x="362.20" y="128.71" width="21.12" height="1.93" fill="#000" fill-opacity="0.034"/>
<rect x="362.20" y="130.64" width="21.12" height="1.93" fill="#fff" fill-opacity="0.050"/>
<rect x="362.20" y="138.36" width="21.12" height="1.93" fill="#000" fill-opacity="0.047"/>
<rect x="362.20" y="142.21" width="21.12" height="1.93" fill="#fff" fill-opacity="0.040"/>
<rect x="362.20" y="144.14" width="21.12" height="1.93" fill="#000" fill-opacity="0.053"/>
<rect x="362.20" y="148.00" width="21.12" height="1.93" fill="#fff" fill-opacity="0.024"/>
<rect x="362.20" y="149.93" width="21.12" height="1.93" fill="#000" fill-opacity="0.059"/>
<rect x="362.20" y="153.79" width="21.12" height="1.93" fill="#fff" fill-opacity="0.031"/>
<rect x="362.20" y="157.64" width="21.12" height="1.93" fill="#fff" fill-opacity="0.043"/>
<rect x="362.20" y="159.57" width="21.12" height="1.93" fill="#fff" fill-opacity="0.033"/>
<rect x="362.20" y="163.43" width="21.12" height="1.93" fill="#000" fill-opacity="0.037"/>
<rect x="362.20" y="167.29" width="21.12" height="1.93" fill="#000" fill-opacity="0.047"/>
<rect x="362.20" y="175.00" width="21.12" height="1.93" fill="#000" fill-opacity="0.025"/>
<rect x="362.20" y="176.93" width="21.12" height="1.93" fill="#fff" fill-opacity="0.049"/>
<rect x="362.20" y="180.79" width="21.12" height="1.93" fill="#000" fill-opacity="0.034"/>
<rect x="362.20" y="184.64" width="21.12" height="1.93" fill="#fff" fill-opacity="0.041"/>
<rect x="362.20" y="188.50" width="21.12" height="1.93" fill="#000" fill-opacity="0.038"/>
<rect x="362.20" y="194.29" width="21.12" height="1.93" fill="#fff" fill-opacity="0.027"/>
<rect x="362.20" y="196.21" width="21.12" height="1.93" fill="#000" fill-opacity="0.033"/>
<rect x="362.20" y="200.07" width="21.12" height="1.93" fill="#fff" fill-opacity="0.032"/>
<rect x="362.20" y="207.79" width="21.12" height="1.93" fill="#fff" fill-opacity="0.046"/>
<rect x="362.20" y="209.71" width="21.12" height="1.93" fill="#fff" fill-opacity="0.030"/>
<rect x="362.20" y="211.64" width="21.12" height="1.93" fill="#fff" fill-opacity="0.021"/>
<rect x="362.20" y="215.50" width="21.12" height="1.93" fill="#000" fill-opacity="0.044"/>
<rect x="362.20" y="219.36" width="21.12" height="1.93" fill="#fff" fill-opacity="0.056"/>
<rect x="362.20" y="221.29" width="21.12" height="1.93" fill="#fff" fill-opacity="0.049"/>
<rect x="362.20" y="223.21" width="21.12" height="1.93" fill="#000" fill-opacity="0.030"/>
<rect x="362.20" y="225.14" width="21.12" height="1.93" fill="#000" fill-opacity="0.024"/>
<rect x="362.20" y="227.07" width="21.12" height="1.93" fill="#000" fill-opacity="0.041"/>
<rect x="383.30" y="40.00" width="21.12" height="1.93" fill="#000" fill-opacity="0.021"/>
<rect x="383.30" y="41.93" width="21.12" height="1.93" fill="#000" fill-opacity="0.042"/>
<rect x="383.30" y="43.86" width="21.12" height="1.93" fill="#fff" fill-opacity="0.024"/>
<rect x="383.30" y="53.50" width="21.12" height="1.93" fill="#000" fill-opacity="0.052"/>
<rect x="383.30" y="63.14" width="21.12" height="1.93" fill="#000" fill-opacity="0.058"/>
<rect x="383.30" y="70.86" width="21.12" height="1.93" fill="#000" fill-opacity="0.028"/>
<rect x="383.30" y="82.43" width="21.12" height="1.93" fill="#000" fill-opacity="0.035"/>
<rect x="383.30" y="84.36" width="21.12" height="1.93" fill="#000" fill-opacity="0.045"/>
<rect x="383.30" y="86.29" width="21.12" height="1.93" fill="#000" fill-opacity="0.043"/>
<rect x="383.30" y="88.21" width="21.12" height="1.93" fill="#fff" fill-opacity="0.023"/>
<rect x="383.30" y="90.14" width="21.12" height="1.93" fill="#fff" fill-opacity="0.059"/>
<rect x="383.30" y="92.07" width="21.12" height="1.93" fill="#000" fill-opacity="0.043"/>
<rect x="383.30" y="95.93" width="21.12" height="1.93" fill="#000" fill-opacity="0.054"/>
<rect x="383.30" y="97.86" width="21.12" height="1.93" fill="#000" fill-opacity="0.044"/>
<rect x="383.30" y="101.71" width="21.12" height="1.93" fill="#000" fill-opacity="0.030"/>
<rect x="383.30" y="103.64" width="21.12" height="1.93" fill="#000" fill-opacity="0.048"/>
<rect x="383.30" y="105.57" width="21.12" height="1.93" fill="#000" fill-opacity="0.035"/>
<rect x="383.30" y="107.50" width="21.12" height="1.93" fill="#000" fill-opacity="0.041"/>
<rect x="383.30" y="115.21" width="21.12" height="1.93" fill="#000" fill-opacity="0.034"/>
<rect x="383.30" y="117.14" width="21.12" height="1.93" fill="#000" fill-opacity="0.038"/>
<rect x="383.30" y="119.07" width="21.12" height="1.93" fill="#fff" fill-opacity="0.029"/>
<rect x="383.30" y="121.00" width="21.12" height="1.93" fill="#000" fill-opacity="0.048"/>
<rect x="383.30" y="122.93" width="21.12" height="1.93" fill="#000" fill-opacity="0.030"/>
<rect x="383.30" y="124.86" width="21.12" height="1.93" fill="#fff" fill-opacity="0.040"/>
<rect x="383.30" y="126.79" width="21.12" height="1.93" fill="#fff" fill-opacity="0.044"/>
<rect x="383.30" y="130.64" width="21.12" height="1.93" fill="#fff" fill-opacity="0.044"/>
<rect x="383.30" y="132.57" width="21.12" height="1.93" fill="#000" fill-opacity="0.044"/>
<rect x="383.30" y="134.50" width="21.12" height="1.93" fill="#fff" fill-opacity="0.030"/>
<rect x="383.30" y="136.43" width="21.12" height="1.93" fill="#000" fill-opacity="0.029"/>
<rect x="383.30" y="138.36" width="21.12" height="1.93" fill="#000" fill-opacity="0.046"/>
<rect x="383.30" y="140.29" width="21.12" height="1.93" fill="#fff" fill-opacity="0.039"/>
<rect x="383.30" y="144.14" width="21.12" height="1.93" fill="#fff" fill-opacity="0.045"/>
<rect x="383.30" y="146.07" width="21.12" height="1.93" fill="#fff" fill-opacity="0.034"/>
<rect x="383.30" y="149.93" width="21.12" height="1.93" fill="#000" fill-opacity="0.040"/>
<rect x="383.30" y="151.86" width="21.12" height="1.93" fill="#fff" fill-opacity="0.041"/>
<rect x="383.30" y="153.79" width="21.12" height="1.93" fill="#fff" fill-opacity="0.031"/>
<rect x="383.30" y="155.71" width="21.12" height="1.93" fill="#fff" fill-opacity="0.028"/>
<rect x="383.30" y="157.64" width="21.12" height="1.93" fill="#fff" fill-opacity="0.054"/>
<rect x="383.30" y="159.57" width="21.12" height="1.93" fill="#000" fill-opacity="0.059"/>
<rect x="383.30" y="163.43" width="21.12" height="1.93" fill="#000" fill-opacity="0.049"/>
<rect x="383.30" y="165.36" width="21.12" height="1.93" fill="#fff" fill-opacity="0.027"/>
<rect x="383.30" y="173.07" width="21.12" height="1.93" fill="#fff" fill-opacity="0.057"/>
<rect x="383.30" y="175.00" width="21.12" height="1.93" fill="#000" fill-opacity="0.049"/>
<rect x="383.30" y="176.93" width="21.12" height="1.93" fill="#000" fill-opacity="0.053"/>
<rect x="383.30" y="180.79" width="21.12" height="1.93" fill="#fff" fill-opacity="0.029"/>
<rect x="383.30" y="184.64" width="21.12" height="1.93" fill="#fff" fill-opacity="0.027"/>
<rect x="383.30" y="192.36" width="21.12" height="1.93" fill="#fff" fill-opacity="0.050"/>
<rect x="383.30" y="194.29" width="21.12" height="1.93" fill="#000" fill-opacity="0.056"/>
<rect x="383.30" y="196.21" width="21.12" height="1.93" fill="#fff" fill-opacity="0.054"/>
<rect x="383.30" y="198.14" width="21.12" height="1.93" fill="#fff" fill-opacity="0.022"/>
<rect x="383.30" y="200.07" width="21.12" height="1.93" fill="#000" fill-opacity="0.060"/>
<rect x="383.30" y="202.00" width="21.12" height="1.93" fill="#fff" fill-opacity="0.022"/>
<rect x="383.30" y="211.64" width="21.12" height="1.93" fill="#fff" fill-opacity="0.031"/>
<rect x="383.30" y="213.57" width="21.12" height="1.93" fill="#000" fill-opacity="0.022"/>
<rect x="383.30" y="215.50" width="21.12" height="1.93" fill="#000" fill-opacity="0.053"/>
<rect x="383.30" y="217.43" width="21.12" height="1.93" fill="#000" fill-opacity="0.038"/>
<rect x="383.30" y="219.36" width="21.12" height="1.93" fill="#000" fill-opacity="0.056"/>
<rect x="383.30" y="221.29" width="21.12" height="1.93" fill="#fff" fill-opacity="0.043"/>
<rect x="383.30" y="223.21" width="21.12" height="1.93" fill="#fff" fill-opacity="0.044"/>
<rect x="383.30" y="225.14" width="21.12" height="1.93" fill="#000" fill-opacity="0.045"/>
<rect x="404.40" y="40.00" width="21.12" height="1.93" fill="#fff" fill-opacity="0.056"/>
<rect x="404.40" y="41.93" width="21.12" height="1.93" fill="#fff" fill-opacity="0.028"/>
<rect x="404.40" y="45.79" width="21.12" height="1.93" fill="#fff" fill-opacity="0.059"/>
<rect x="404.40" y="47.71" width="21.12" height="1.93" fill="#fff" fill-opacity="0.039"/>
<rect x="404.40" y="49.64" width="21.12" height="1.93" fill="#fff" fill-opacity="0.033"/>
<rect x="404.40" y="55.43" width="21.12" height="1.93" fill="#fff" fill-opacity="0.030"/>
<rect x="404.40" y="57.36" width="21.12" height="1.93" fill="#000" fill-opacity="0.054"/>
<rect x="404.40" y="59.29" width="21.12" height="1.93" fill="#fff" fill-opacity="0.027"/>
<rect x="404.40" y="63.14" width="21.12" height="1.93" fill="#fff" fill-opacity="0.021"/>
<rect x="404.40" y="67.00" width="21.12" height="1.93" fill="#000" fill-opacity="0.034"/>
<rect x="404.40" y="68.93" width="21.12" height="1.93" fill="#fff" fill-opacity="0.045"/>
<rect x="404.40" y="70.86" width="21.12" height="1.93" fill="#000" fill-opacity="0.025"/>
<rect x="404.40" y="72.79" width="21.12" height="1.93" fill="#fff" fill-opacity="0.023"/>
<rect x="404.40" y="76.64" width="21.12" height="1.93" fill="#fff" fill-opacity="0.058"/>
<rect x="404.40" y="78.57" width="21.12" height="1.93" fill="#000" fill-opacity="0.030"/>
<rect x="404.40" y="80.50" width="21.12" height="1.93" fill="#fff" fill-opacity="0.052"/>
<rect x="404.40" y="84.36" width="21.12" height="1.93" fill="#fff" fill-opacity="0.024"/>
<rect x="404.40" y="86.29" width="21.12" height="1.93" fill="#000" fill-opacity="0.057"/>
<rect x="404.40" y="88.21" width="21.12" height="1.93" fill="#fff" fill-opacity="0.052"/>
<rect x="404.40" y="92.07" width="21.12" height="1.93" fill="#fff" fill-opacity="0.054"/>
<rect x="404.40" y="94.00" width="21.12" height="1.93" fill="#fff" fill-opacity="0.035"/>
<rect x="404.40" y="95.93" width="21.12" height="1.93" fill="#000" fill-opacity="0.023"/>
<rect x="404.40" y="97.86" width="21.12" height="1.93" fill="#000" fill-opacity="0.050"/>
<rect x="404.40" y="99.79" width="21.12" height="1.93" fill="#fff" fill-opacity="0.058"/>
<rect x="404.40" y="103.64" width="21.12" height="1.93" fill="#000" fill-opacity="0.031"/>
<rect x="404.40" y="105.57" width="21.12" height="1.93" fill="#000" fill-opacity="0.056"/>
<rect x="404.40" y="107.50" width="21.12" height="1.93" fill="#000" fill-opacity="0.039"/>
<rect x="404.40" y="109.43" width="21.12" height="1.93" fill="#000" fill-opacity="0.027"/>
<rect x="404.40" y="115.21" width="21.12" height="1.93" fill="#fff" fill-opacity="0.039"/>
<rect x="404.40" y="119.07" width="21.12" height="1.93" fill="#000" fill-opacity="0.038"/>
<rect x="404.40" y="122.93" width="21.12" height="1.93" fill="#000" fill-opacity="0.031"/>
<rect x="404.40" y="124.86" width="21.12" height="1.93" fill="#fff" fill-opacity="0.023"/>
<rect x="404.40" y="126.79" width="21.12" height="1.93" fill="#fff" fill-opacity="0.036"/>
<rect x="404.40" y="130.64" width="21.12" height="1.93" fill="#000" fill-opacity="0.058"/>
<rect x="404.40" y="132.57" width="21.12" height="1.93" fill="#fff" fill-opacity="0.053"/>
<rect x="404.40" y="136.43" width="21.12" height="1.93" fill="#000" fill-opacity="0.058"/>
<rect x="404.40" y="140.29" width="21.12" height="1.93" fill="#000" fill-opacity="0.030"/>
<rect x="404.40" y="142.21" width="21.12" height="1.93" fill="#fff" fill-opacity="0.025"/>
<rect x="404.40" y="144.14" width="21.12" height="1.93" fill="#000" fill-opacity="0.040"/>
<rect x="404.40" y="148.00" width="21.12" height="1.93" fill="#fff" fill-opacity="0.020"/>
<rect x="404.40" y="149.93" width="21.12" height="1.93" fill="#fff" fill-opacity="0.041"/>
<rect x="404.40" y="151.86" width="21.12" height="1.93" fill="#000" fill-opacity="0.048"/>
<rect x="404.40" y="153.79" width="21.12" height="1.93" fill="#fff" fill-opacity="0.030"/>
<rect x="404.40" y="155.71" width="21.12" height="1.93" fill="#fff" fill-opacity="0.058"/>
<rect x="404.40" y="157.64" width="21.12" height="1.93" fill="#fff" fill-opacity="0.049"/>
<rect x="404.40" y="163.43" width="21.12" height="1.93" fill="#fff" fill-opacity="0.030"/>
<rect x="404.40" y="167.29" width="21.12" height="1.93" fill="#000" fill-opacity="0.040"/>
<rect x="404.40" y="176.93" width="21.12" height="1.93" fill="#000" fill-opacity="0.054"/>
<rect x="404.40" y="178.86" width="21.12" height="1.93" fill="#000" fill-opacity="0.044"/>
<rect x="404.40" y="180.79" width="21.12" height="1.93" fill="#fff" fill-opacity="0.056"/>
<rect x="404.40" y="184.64" width="21.12" height="1.93" fill="#fff" fill-opacity="0.045"/>
<rect x="404.40" y="186.57" width="21.12" height="1.93" fill="#fff" fill-opacity="0.040"/>
<rect x="404.40" y="188.50" width="21.12" height="1.93" fill="#fff" fill-opacity="0.022"/>
<rect x="404.40" y="194.29" width="21.12" height="1.93" fill="#fff" fill-opacity="0.057"/>
<rect x="404.40" y="196.21" width="21.12" height="1.93" fill="#fff" fill-opacity="0.058"/>
<rect x="404.40" y="198.14" width="21.12" height="1.93" fill="#000" fill-opacity="0.021"/>
<rect x="404.40" y="200.07" width="21.12" height="1.93" fill="#fff" fill-opacity="0.049"/>
<rect x="404.40" y="203.93" width="21.12" height="1.93" fill="#000" fill-opacity="0.022"/>
<rect x="404.40" y="207.79" width="21.12" height="1.93" fill="#fff" fill-opacity="0.054"/>
<rect x="404.40" y="209.71" width="21.12" height="1.93" fill="#000" fill-opacity="0.025"/>
<rect x="404.40" y="211.64" width="21.12" height="1.93" fill="#fff" fill-opacity="0.046"/>
<rect x="404.40" y="215.50" width="21.12" height="1.93" fill="#fff" fill-opacity="0.055"/>
<rect x="404.40" y="217.43" width="21.12" height="1.93" fill="#000" fill-opacity="0.045"/>
<rect x="404.40" y="219.36" width="21.12" height="1.93" fill="#fff" fill-opacity="0.020"/>
<rect x="404.40" y="221.29" width="21.12" height="1.93" fill="#000" fill-opacity="0.057"/>
<defs><linearGradient id="zk" x1="0" x2="1" y1="0" y2="0"><stop offset="0" stop-color="#cf4b25"/><stop offset="0.3" stop-color="#e8a030"/><stop offset="0.5" stop-color="#f4e030"/><stop offset="0.7" stop-color="#b8c850"/><stop offset="1" stop-color="#6fae4a"/></linearGradient></defs>
<rect x="431.8" y="14.5" width="21.6" height="10.4" fill="url(#zk)" stroke="#333" stroke-width="0.8"/>
<line x1="434.00" y1="24.90" x2="451.50" y2="24.90" stroke="#333" stroke-width="0.8"/>
<line x1="434.60" y1="24.90" x2="434.60" y2="27.50" stroke="#333" stroke-width="0.8"/>
<line x1="438.50" y1="24.90" x2="438.50" y2="27.50" stroke="#333" stroke-width="0.8"/>
<line x1="442.60" y1="24.90" x2="442.60" y2="27.50" stroke="#333" stroke-width="0.8"/>
<line x1="446.60" y1="24.90" x2="446.60" y2="27.50" stroke="#333" stroke-width="0.8"/>
<line x1="450.60" y1="24.90" x2="450.60" y2="27.50" stroke="#333" stroke-width="0.8"/>
<text x="441.60" y="38.18" font-size="7" text-anchor="middle" textLength="18.50" lengthAdjust="spacingAndGlyphs">−1 0 1</text>
<text x="456.60" y="22.75" font-size="7.2" textLength="35.80" lengthAdjust="spacingAndGlyphs">Row Z−Score</text>
<rect x="464.00" y="39.50" width="1.30" height="43.20" fill="#3a3a3a"/>
<rect x="464.00" y="84.20" width="1.30" height="22.80" fill="#3a3a3a"/>
<rect x="464.00" y="108.50" width="1.30" height="32.10" fill="#3a3a3a"/>
<rect x="464.00" y="143.00" width="1.30" height="85.50" fill="#3a3a3a"/>
<text x="467.70" y="63.55" font-size="7.5" textLength="27.90" lengthAdjust="spacingAndGlyphs">LSC Down</text>
<text x="467.70" y="98.15" font-size="7.5" textLength="20.00" lengthAdjust="spacingAndGlyphs">LSC Up</text>
<text x="467.70" y="127.35" font-size="7.5" textLength="29.60" lengthAdjust="spacingAndGlyphs">HSC Down</text>
<text x="467.70" y="188.35" font-size="7.5" textLength="21.00" lengthAdjust="spacingAndGlyphs">HSC Up</text>
<text x="427.30" y="41.36" font-size="3.4" fill="#444" textLength="10.03" lengthAdjust="spacingAndGlyphs">ELANE</text>
<text x="427.30" y="45.72" font-size="3.4" fill="#444" textLength="9.98" lengthAdjust="spacingAndGlyphs">PRTN3</text>
<text x="427.30" y="50.08" font-size="3.4" fill="#444" textLength="10.54" lengthAdjust="spacingAndGlyphs">CEBPD</text>
<text x="427.30" y="54.44" font-size="3.4" fill="#444" textLength="8.33" lengthAdjust="spacingAndGlyphs">HSG4</text>
<text x="427.30" y="58.80" font-size="3.4" fill="#444" textLength="7.82" lengthAdjust="spacingAndGlyphs">AZU1</text>
<text x="427.30" y="63.16" font-size="3.4" fill="#444" textLength="7.37" lengthAdjust="spacingAndGlyphs">CLTA</text>
<text x="427.30" y="67.52" font-size="3.4" fill="#444" textLength="8.50" lengthAdjust="spacingAndGlyphs">SRPN</text>
<text x="427.30" y="71.88" font-size="3.4" fill="#444" textLength="7.82" lengthAdjust="spacingAndGlyphs">EZH1</text>
<text x="427.30" y="76.24" font-size="3.4" fill="#444" textLength="10.21" lengthAdjust="spacingAndGlyphs">LILRA2</text>
<text x="427.30" y="80.60" font-size="3.4" fill="#444" textLength="12.00" lengthAdjust="spacingAndGlyphs">SLC22A4</text>
<text x="427.30" y="84.96" font-size="3.4" fill="#444" textLength="6.97" lengthAdjust="spacingAndGlyphs">TNIK</text>
<text x="427.30" y="89.32" font-size="3.4" fill="#444" textLength="8.84" lengthAdjust="spacingAndGlyphs">ITPG2</text>
<text x="427.30" y="93.68" font-size="3.4" fill="#444" textLength="12.00" lengthAdjust="spacingAndGlyphs">DYRK1T</text>
<text x="427.30" y="98.04" font-size="3.4" fill="#444" textLength="12.00" lengthAdjust="spacingAndGlyphs">QPATCH1</text>
<text x="427.30" y="102.40" font-size="3.4" fill="#444" textLength="10.03" lengthAdjust="spacingAndGlyphs">KANK1</text>
<text x="427.30" y="106.76" font-size="3.4" fill="#444" textLength="10.03" lengthAdjust="spacingAndGlyphs">LRRN1</text>
<text x="427.30" y="111.12" font-size="3.4" fill="#444" textLength="7.65" lengthAdjust="spacingAndGlyphs">FGL2</text>
<text x="427.30" y="115.48" font-size="3.4" fill="#444" textLength="7.31" lengthAdjust="spacingAndGlyphs">KLF3</text>
<text x="427.30" y="119.84" font-size="3.4" fill="#444" textLength="8.50" lengthAdjust="spacingAndGlyphs">BURB</text>
<text x="427.30" y="124.20" font-size="3.4" fill="#444" textLength="12.00" lengthAdjust="spacingAndGlyphs">TYROBP</text>
<text x="427.30" y="128.57" font-size="3.4" fill="#444" textLength="11.56" lengthAdjust="spacingAndGlyphs">CYP4F3</text>
<text x="427.30" y="132.93" font-size="3.4" fill="#444" textLength="8.84" lengthAdjust="spacingAndGlyphs">MKI27</text>
<text x="427.30" y="137.29" font-size="3.4" fill="#444" textLength="12.00" lengthAdjust="spacingAndGlyphs">DENND3</text>
<text x="427.30" y="141.65" font-size="3.4" fill="#444" textLength="8.33" lengthAdjust="spacingAndGlyphs">GPC7</text>
<text x="427.30" y="146.01" font-size="3.4" fill="#444" textLength="7.82" lengthAdjust="spacingAndGlyphs">CD86</text>
<text x="427.30" y="150.37" font-size="3.4" fill="#444" textLength="5.78" lengthAdjust="spacingAndGlyphs">JUP</text>
<text x="427.30" y="154.73" font-size="3.4" fill="#444" textLength="10.37" lengthAdjust="spacingAndGlyphs">VMRF1</text>
<text x="427.30" y="159.09" font-size="3.4" fill="#444" textLength="9.52" lengthAdjust="spacingAndGlyphs">CYTL1</text>
<text x="427.30" y="163.45" font-size="3.4" fill="#444" textLength="9.47" lengthAdjust="spacingAndGlyphs">ATP8A</text>
<text x="427.30" y="167.81" font-size="3.4" fill="#444" textLength="6.29" lengthAdjust="spacingAndGlyphs">LNG</text>
<text x="427.30" y="172.17" font-size="3.4" fill="#444" textLength="11.57" lengthAdjust="spacingAndGlyphs">PLAGL1</text>
<text x="427.30" y="176.53" font-size="3.4" fill="#444" textLength="9.01" lengthAdjust="spacingAndGlyphs">MCM5</text>
<text x="427.30" y="180.89" font-size="3.4" fill="#444" textLength="9.87" lengthAdjust="spacingAndGlyphs">SSBP2</text>
<text x="427.30" y="185.25" font-size="3.4" fill="#444" textLength="8.67" lengthAdjust="spacingAndGlyphs">HIST3</text>
<text x="427.30" y="189.61" font-size="3.4" fill="#444" textLength="8.50" lengthAdjust="spacingAndGlyphs">MEST</text>
<text x="427.30" y="193.97" font-size="3.4" fill="#444" textLength="10.03" lengthAdjust="spacingAndGlyphs">KCTD5</text>
<text x="427.30" y="198.33" font-size="3.4" fill="#444" textLength="11.74" lengthAdjust="spacingAndGlyphs">DPYSL3</text>
<text x="427.30" y="202.69" font-size="3.4" fill="#444" textLength="10.88" lengthAdjust="spacingAndGlyphs">SPINK4</text>
<text x="427.30" y="207.05" font-size="3.4" fill="#444" textLength="9.18" lengthAdjust="spacingAndGlyphs">ITM2C</text>
<text x="427.30" y="211.41" font-size="3.4" fill="#444" textLength="7.65" lengthAdjust="spacingAndGlyphs">ETV6</text>
<text x="427.30" y="215.77" font-size="3.4" fill="#444" textLength="9.86" lengthAdjust="spacingAndGlyphs">ZNRF1</text>
<text x="427.30" y="220.14" font-size="3.4" fill="#444" textLength="11.73" lengthAdjust="spacingAndGlyphs">FAM69B</text>
<text x="427.30" y="224.50" font-size="3.4" fill="#444" textLength="10.37" lengthAdjust="spacingAndGlyphs">PGHB5</text>
<text x="427.30" y="228.86" font-size="3.4" fill="#444" textLength="9.64" lengthAdjust="spacingAndGlyphs">BCAT1</text>
<text x="446.30" y="43.86" font-size="3.4" fill="#444" textLength="5.21" lengthAdjust="spacingAndGlyphs">LTZ</text>
<text x="446.30" y="48.23" font-size="3.4" fill="#444" textLength="7.65" lengthAdjust="spacingAndGlyphs">FGL2</text>
<text x="446.30" y="52.61" font-size="3.4" fill="#444" textLength="8.50" lengthAdjust="spacingAndGlyphs">CTSG</text>
<text x="446.30" y="56.98" font-size="3.4" fill="#444" textLength="7.82" lengthAdjust="spacingAndGlyphs">CD48</text>
<text x="446.30" y="61.36" font-size="3.4" fill="#444" textLength="7.99" lengthAdjust="spacingAndGlyphs">NCF2</text>
<text x="446.30" y="65.74" font-size="3.4" fill="#444" textLength="10.03" lengthAdjust="spacingAndGlyphs">ADAP2</text>
<text x="446.30" y="70.11" font-size="3.4" fill="#444" textLength="13.00" lengthAdjust="spacingAndGlyphs">HOMER3</text>
<text x="446.30" y="74.49" font-size="3.4" fill="#444" textLength="10.54" lengthAdjust="spacingAndGlyphs">MEGF3</text>
<text x="446.30" y="78.87" font-size="3.4" fill="#444" textLength="12.24" lengthAdjust="spacingAndGlyphs">RNASE2</text>
<text x="446.30" y="83.24" font-size="3.4" fill="#444" textLength="11.91" lengthAdjust="spacingAndGlyphs">CLEC5A</text>
<text x="446.30" y="87.62" font-size="3.4" fill="#444" textLength="10.37" lengthAdjust="spacingAndGlyphs">UNC5B</text>
<text x="446.30" y="91.99" font-size="3.4" fill="#444" textLength="10.03" lengthAdjust="spacingAndGlyphs">DCAF4</text>
<text x="446.30" y="96.37" font-size="3.4" fill="#444" textLength="10.20" lengthAdjust="spacingAndGlyphs">MED30</text>
<text x="446.30" y="100.75" font-size="3.4" fill="#444" textLength="10.37" lengthAdjust="spacingAndGlyphs">AGFG2</text>
<text x="446.30" y="105.12" font-size="3.4" fill="#444" textLength="6.63" lengthAdjust="spacingAndGlyphs">GAN</text>
<text x="446.30" y="109.50" font-size="3.4" fill="#444" textLength="5.21" lengthAdjust="spacingAndGlyphs">LTZ</text>
<text x="446.30" y="113.88" font-size="3.4" fill="#444" textLength="10.54" lengthAdjust="spacingAndGlyphs">CEBPD</text>
<text x="446.30" y="118.25" font-size="3.4" fill="#444" textLength="7.99" lengthAdjust="spacingAndGlyphs">NCF2</text>
<text x="446.30" y="122.63" font-size="3.4" fill="#444" textLength="7.93" lengthAdjust="spacingAndGlyphs">CSTA</text>
<text x="446.30" y="127.00" font-size="3.4" fill="#444" textLength="12.41" lengthAdjust="spacingAndGlyphs">FCER1G</text>
<text x="446.30" y="131.38" font-size="3.4" fill="#444" textLength="12.58" lengthAdjust="spacingAndGlyphs">CDKN2D</text>
<text x="446.30" y="135.76" font-size="3.4" fill="#444" textLength="8.16" lengthAdjust="spacingAndGlyphs">CTSB</text>
<text x="446.30" y="140.13" font-size="3.4" fill="#444" textLength="11.73" lengthAdjust="spacingAndGlyphs">KCTD12</text>
<text x="446.30" y="144.51" font-size="3.4" fill="#444" textLength="10.54" lengthAdjust="spacingAndGlyphs">KDM7A</text>
<text x="446.30" y="148.88" font-size="3.4" fill="#444" textLength="9.86" lengthAdjust="spacingAndGlyphs">CPT1A</text>
<text x="446.30" y="153.26" font-size="3.4" fill="#444" textLength="12.24" lengthAdjust="spacingAndGlyphs">ANGPT1</text>
<text x="446.30" y="157.64" font-size="3.4" fill="#444" textLength="9.01" lengthAdjust="spacingAndGlyphs">NRIP1</text>
<text x="446.30" y="162.01" font-size="3.4" fill="#444" textLength="8.84" lengthAdjust="spacingAndGlyphs">ITGA9</text>
<text x="446.30" y="166.39" font-size="3.4" fill="#444" textLength="7.65" lengthAdjust="spacingAndGlyphs">TLG1</text>
<text x="446.30" y="170.77" font-size="3.4" fill="#444" textLength="10.71" lengthAdjust="spacingAndGlyphs">ERLIN2</text>
<text x="446.30" y="175.14" font-size="3.4" fill="#444" textLength="10.37" lengthAdjust="spacingAndGlyphs">PRMT5</text>
<text x="446.30" y="179.52" font-size="3.4" fill="#444" textLength="7.99" lengthAdjust="spacingAndGlyphs">CBX2</text>
<text x="446.30" y="183.89" font-size="3.4" fill="#444" textLength="8.33" lengthAdjust="spacingAndGlyphs">DRC1</text>
<text x="446.30" y="188.27" font-size="3.4" fill="#444" textLength="6.97" lengthAdjust="spacingAndGlyphs">IPO7</text>
<text x="446.30" y="192.65" font-size="3.4" fill="#444" textLength="7.14" lengthAdjust="spacingAndGlyphs">TRIC</text>
<text x="446.30" y="197.02" font-size="3.4" fill="#444" textLength="10.54" lengthAdjust="spacingAndGlyphs">COBR1</text>
<text x="446.30" y="201.40" font-size="3.4" fill="#444" textLength="5.78" lengthAdjust="spacingAndGlyphs">DTL</text>
<text x="446.30" y="205.78" font-size="3.4" fill="#444" textLength="13.00" lengthAdjust="spacingAndGlyphs">MIR155HG</text>
<text x="446.30" y="210.15" font-size="3.4" fill="#444" textLength="11.34" lengthAdjust="spacingAndGlyphs">ATP2C1</text>
<text x="446.30" y="214.53" font-size="3.4" fill="#444" textLength="10.54" lengthAdjust="spacingAndGlyphs">KDM5B</text>
<text x="446.30" y="218.90" font-size="3.4" fill="#444" textLength="10.20" lengthAdjust="spacingAndGlyphs">ZNRD5</text>
<text x="446.30" y="223.28" font-size="3.4" fill="#444" textLength="9.52" lengthAdjust="spacingAndGlyphs">CD109</text>
<text x="446.30" y="227.66" font-size="3.4" fill="#444" textLength="10.71" lengthAdjust="spacingAndGlyphs">CRHBP</text>
<rect x="330.80" y="42.30" width="3.30" height="1.60" fill="#6aa84f"/>
<rect x="330.80" y="46.70" width="3.30" height="4.00" fill="#6aa84f"/>
<rect x="330.80" y="59.70" width="3.30" height="3.90" fill="#6aa84f"/>
<rect x="330.80" y="107.40" width="3.30" height="7.60" fill="#6aa84f"/>
<rect x="330.80" y="116.30" width="3.30" height="2.20" fill="#6aa84f"/>
<rect x="330.80" y="120.80" width="3.30" height="2.10" fill="#6aa84f"/>
<rect x="336.60" y="46.70" width="3.30" height="4.00" fill="#2f4f82"/>
<rect x="336.60" y="60.00" width="3.30" height="1.60" fill="#2f4f82"/>
<rect x="336.60" y="66.30" width="3.30" height="4.10" fill="#2f4f82"/>
<rect x="336.60" y="74.70" width="3.30" height="1.90" fill="#2f4f82"/>
<rect x="336.60" y="109.50" width="3.30" height="4.20" fill="#2f4f82"/>
<rect x="336.60" y="116.30" width="3.30" height="3.40" fill="#2f4f82"/>
<rect x="336.60" y="122.60" width="3.30" height="4.20" fill="#2f4f82"/>
<rect x="336.60" y="133.20" width="3.30" height="2.30" fill="#2f4f82"/>
<rect x="336.60" y="137.90" width="3.30" height="2.10" fill="#2f4f82"/>
<rect x="336.60" y="144.70" width="3.30" height="1.60" fill="#a0283c"/>
<rect x="336.60" y="149.00" width="3.30" height="1.90" fill="#a0283c"/>
<rect x="336.60" y="160.00" width="3.30" height="1.60" fill="#a0283c"/>
<rect x="336.60" y="179.40" width="3.30" height="1.90" fill="#a0283c"/>
<rect x="336.60" y="188.10" width="3.30" height="1.60" fill="#a0283c"/>
<rect x="336.60" y="205.50" width="3.30" height="1.90" fill="#a0283c"/>
<rect x="336.60" y="209.80" width="3.30" height="1.90" fill="#a0283c"/>
<rect x="336.60" y="227.20" width="3.30" height="1.80" fill="#a0283c"/>
<text x="317.84" y="128.40" font-size="6.6" textLength="60.00" lengthAdjust="spacingAndGlyphs" transform="rotate(-90 317.84 128.40)">Cis-repressome genes</text>
<rect x="313.20" y="131.60" width="4.20" height="4.30" fill="#2f4f82"/>
<text x="317.84" y="196.40" font-size="6.6" textLength="48.20" lengthAdjust="spacingAndGlyphs" transform="rotate(-90 317.84 196.40)">Cis-actome genes</text>
<rect x="313.20" y="200.00" width="4.40" height="4.60" fill="#a0283c"/>
<text x="326.64" y="177.40" font-size="6.6" textLength="90.90" lengthAdjust="spacingAndGlyphs" transform="rotate(-90 326.64 177.40)">Genes shared between gene sets</text>
<rect x="322.00" y="180.50" width="4.20" height="4.50" fill="#6aa84f"/>
<text x="7.20" y="180.90" font-size="12" textLength="7.60" lengthAdjust="spacingAndGlyphs">C</text>
<rect x="42.2" y="193.3" width="92.89999999999999" height="95.19999999999999" fill="none" stroke="#231f20" stroke-width="1.1"/>
<line x1="39.40" y1="288.50" x2="42.20" y2="288.50" stroke="#231f20" stroke-width="0.9"/>
<text x="37.00" y="288.50" font-size="5.8" text-anchor="middle" transform="rotate(-90 37.00 288.50)">0</text>
<line x1="39.40" y1="265.70" x2="42.20" y2="265.70" stroke="#231f20" stroke-width="0.9"/>
<text x="37.00" y="265.70" font-size="5.8" text-anchor="middle" transform="rotate(-90 37.00 265.70)">1</text>
<line x1="39.40" y1="242.90" x2="42.20" y2="242.90" stroke="#231f20" stroke-width="0.9"/>
<text x="37.00" y="242.90" font-size="5.8" text-anchor="middle" transform="rotate(-90 37.00 242.90)">2</text>
<line x1="39.40" y1="220.10" x2="42.20" y2="220.10" stroke="#231f20" stroke-width="0.9"/>
<text x="37.00" y="220.10" font-size="5.8" text-anchor="middle" transform="rotate(-90 37.00 220.10)">3</text>
<line x1="39.40" y1="197.30" x2="42.20" y2="197.30" stroke="#231f20" stroke-width="0.9"/>
<text x="37.00" y="197.30" font-size="5.8" text-anchor="middle" transform="rotate(-90 37.00 197.30)">4</text>
<line x1="42.20" y1="288.50" x2="42.20" y2="291.30" stroke="#231f20" stroke-width="0.9"/>
<text x="42.20" y="300.70" font-size="5.8" text-anchor="middle">0</text>
<line x1="53.32" y1="288.50" x2="53.32" y2="291.30" stroke="#231f20" stroke-width="0.9"/>
<text x="53.32" y="300.70" font-size="5.8" text-anchor="middle">1</text>
<line x1="64.44" y1="288.50" x2="64.44" y2="291.30" stroke="#231f20" stroke-width="0.9"/>
<text x="64.44" y="300.70" font-size="5.8" text-anchor="middle">2</text>
<line x1="75.56" y1="288.50" x2="75.56" y2="291.30" stroke="#231f20" stroke-width="0.9"/>
<text x="75.56" y="300.70" font-size="5.8" text-anchor="middle">3</text>
<line x1="86.68" y1="288.50" x2="86.68" y2="291.30" stroke="#231f20" stroke-width="0.9"/>
<text x="86.68" y="300.70" font-size="5.8" text-anchor="middle">4</text>
<line x1="97.80" y1="288.50" x2="97.80" y2="291.30" stroke="#231f20" stroke-width="0.9"/>
<text x="97.80" y="300.70" font-size="5.8" text-anchor="middle">5</text>
<line x1="108.92" y1="288.50" x2="108.92" y2="291.30" stroke="#231f20" stroke-width="0.9"/>
<text x="108.92" y="300.70" font-size="5.8" text-anchor="middle">6</text>
<line x1="120.04" y1="288.50" x2="120.04" y2="291.30" stroke="#231f20" stroke-width="0.9"/>
<text x="120.04" y="300.70" font-size="5.8" text-anchor="middle">7</text>
<line x1="131.16" y1="288.50" x2="131.16" y2="291.30" stroke="#231f20" stroke-width="0.9"/>
<text x="131.16" y="300.70" font-size="5.8" text-anchor="middle">8</text>
<line x1="53.32" y1="274.80" x2="53.32" y2="276.50" stroke="#231f20" stroke-width="0.8"/>
<line x1="52.12" y1="274.80" x2="54.52" y2="274.80" stroke="#231f20" stroke-width="0.8"/>
<line x1="52.12" y1="276.50" x2="54.52" y2="276.50" stroke="#231f20" stroke-width="0.8"/>
<line x1="64.44" y1="269.50" x2="64.44" y2="273.00" stroke="#231f20" stroke-width="0.8"/>
<line x1="63.24" y1="269.50" x2="65.64" y2="269.50" stroke="#231f20" stroke-width="0.8"/>
<line x1="63.24" y1="273.00" x2="65.64" y2="273.00" stroke="#231f20" stroke-width="0.8"/>
<line x1="75.56" y1="266.80" x2="75.56" y2="269.50" stroke="#231f20" stroke-width="0.8"/>
<line x1="74.36" y1="266.80" x2="76.76" y2="266.80" stroke="#231f20" stroke-width="0.8"/>
<line x1="74.36" y1="269.50" x2="76.76" y2="269.50" stroke="#231f20" stroke-width="0.8"/>
<line x1="86.68" y1="261.50" x2="86.68" y2="266.80" stroke="#231f20" stroke-width="0.8"/>
<line x1="85.48" y1="261.50" x2="87.88" y2="261.50" stroke="#231f20" stroke-width="0.8"/>
<line x1="85.48" y1="266.80" x2="87.88" y2="266.80" stroke="#231f20" stroke-width="0.8"/>
<line x1="97.80" y1="249.70" x2="97.80" y2="257.00" stroke="#231f20" stroke-width="0.8"/>
<line x1="96.60" y1="249.70" x2="99.00" y2="249.70" stroke="#231f20" stroke-width="0.8"/>
<line x1="96.60" y1="257.00" x2="99.00" y2="257.00" stroke="#231f20" stroke-width="0.8"/>
<line x1="108.92" y1="239.30" x2="108.92" y2="250.40" stroke="#231f20" stroke-width="0.8"/>
<line x1="107.72" y1="239.30" x2="110.12" y2="239.30" stroke="#231f20" stroke-width="0.8"/>
<line x1="107.72" y1="250.40" x2="110.12" y2="250.40" stroke="#231f20" stroke-width="0.8"/>
<line x1="120.04" y1="222.00" x2="120.04" y2="241.50" stroke="#231f20" stroke-width="0.8"/>
<line x1="118.84" y1="222.00" x2="121.24" y2="222.00" stroke="#231f20" stroke-width="0.8"/>
<line x1="118.84" y1="241.50" x2="121.24" y2="241.50" stroke="#231f20" stroke-width="0.8"/>
<line x1="131.16" y1="207.00" x2="131.16" y2="222.50" stroke="#231f20" stroke-width="0.8"/>
<line x1="129.96" y1="207.00" x2="132.36" y2="207.00" stroke="#231f20" stroke-width="0.8"/>
<line x1="129.96" y1="222.50" x2="132.36" y2="222.50" stroke="#231f20" stroke-width="0.8"/>
<line x1="53.32" y1="276.50" x2="53.32" y2="279.00" stroke="#231f20" stroke-width="0.8"/>
<line x1="52.12" y1="276.50" x2="54.52" y2="276.50" stroke="#231f20" stroke-width="0.8"/>
<line x1="52.12" y1="279.00" x2="54.52" y2="279.00" stroke="#231f20" stroke-width="0.8"/>
<line x1="64.44" y1="277.60" x2="64.44" y2="279.80" stroke="#231f20" stroke-width="0.8"/>
<line x1="63.24" y1="277.60" x2="65.64" y2="277.60" stroke="#231f20" stroke-width="0.8"/>
<line x1="63.24" y1="279.80" x2="65.64" y2="279.80" stroke="#231f20" stroke-width="0.8"/>
<line x1="75.56" y1="272.50" x2="75.56" y2="274.80" stroke="#231f20" stroke-width="0.8"/>
<line x1="74.36" y1="272.50" x2="76.76" y2="272.50" stroke="#231f20" stroke-width="0.8"/>
<line x1="74.36" y1="274.80" x2="76.76" y2="274.80" stroke="#231f20" stroke-width="0.8"/>
<line x1="86.68" y1="270.20" x2="86.68" y2="274.20" stroke="#231f20" stroke-width="0.8"/>
<line x1="85.48" y1="270.20" x2="87.88" y2="270.20" stroke="#231f20" stroke-width="0.8"/>
<line x1="85.48" y1="274.20" x2="87.88" y2="274.20" stroke="#231f20" stroke-width="0.8"/>
<line x1="97.80" y1="264.50" x2="97.80" y2="273.40" stroke="#231f20" stroke-width="0.8"/>
<line x1="96.60" y1="264.50" x2="99.00" y2="264.50" stroke="#231f20" stroke-width="0.8"/>
<line x1="96.60" y1="273.40" x2="99.00" y2="273.40" stroke="#231f20" stroke-width="0.8"/>
<line x1="108.92" y1="256.40" x2="108.92" y2="264.00" stroke="#231f20" stroke-width="0.8"/>
<line x1="107.72" y1="256.40" x2="110.12" y2="256.40" stroke="#231f20" stroke-width="0.8"/>
<line x1="107.72" y1="264.00" x2="110.12" y2="264.00" stroke="#231f20" stroke-width="0.8"/>
<line x1="120.04" y1="248.20" x2="120.04" y2="266.80" stroke="#231f20" stroke-width="0.8"/>
<line x1="118.84" y1="248.20" x2="121.24" y2="248.20" stroke="#231f20" stroke-width="0.8"/>
<line x1="118.84" y1="266.80" x2="121.24" y2="266.80" stroke="#231f20" stroke-width="0.8"/>
<line x1="131.16" y1="249.70" x2="131.16" y2="257.50" stroke="#231f20" stroke-width="0.8"/>
<line x1="129.96" y1="249.70" x2="132.36" y2="249.70" stroke="#231f20" stroke-width="0.8"/>
<line x1="129.96" y1="257.50" x2="132.36" y2="257.50" stroke="#231f20" stroke-width="0.8"/>
<polyline points="53.32,277.80 64.44,278.70 75.56,273.60 86.68,272.10 97.80,269.40 108.92,260.30 120.04,257.90 131.16,253.70" fill="none" stroke="#b0283c" stroke-width="1.1"/>
<rect x="51.32" y="276.10" width="4.0" height="3.4" rx="1.0" fill="#b0283c"/>
<rect x="62.44" y="277.00" width="4.0" height="3.4" rx="1.0" fill="#b0283c"/>
<rect x="73.56" y="271.90" width="4.0" height="3.4" rx="1.0" fill="#b0283c"/>
<rect x="84.68" y="270.40" width="4.0" height="3.4" rx="1.0" fill="#b0283c"/>
<rect x="95.80" y="267.70" width="4.0" height="3.4" rx="1.0" fill="#b0283c"/>
<rect x="106.92" y="258.60" width="4.0" height="3.4" rx="1.0" fill="#b0283c"/>
<rect x="118.04" y="256.20" width="4.0" height="3.4" rx="1.0" fill="#b0283c"/>
<rect x="129.16" y="252.00" width="4.0" height="3.4" rx="1.0" fill="#b0283c"/>
<polyline points="53.32,275.60 64.44,271.20 75.56,268.10 86.68,264.10 97.80,253.00 108.92,244.90 120.04,232.00 131.16,214.70" fill="none" stroke="#3e5e98" stroke-width="1.1"/>
<circle cx="53.32" cy="275.60" r="1.3" fill="#3e5e98"/>
<circle cx="64.44" cy="271.20" r="1.3" fill="#3e5e98"/>
<circle cx="75.56" cy="268.10" r="1.3" fill="#3e5e98"/>
<circle cx="86.68" cy="264.10" r="1.3" fill="#3e5e98"/>
<circle cx="97.80" cy="253.00" r="1.3" fill="#3e5e98"/>
<circle cx="108.92" cy="244.90" r="1.3" fill="#3e5e98"/>
<circle cx="120.04" cy="232.00" r="1.3" fill="#3e5e98"/>
<circle cx="131.16" cy="214.70" r="1.3" fill="#3e5e98"/>
<text x="64.44" y="268.80" font-size="5.0" text-anchor="middle" textLength="5.70" lengthAdjust="spacingAndGlyphs">***</text>
<text x="75.56" y="265.50" font-size="5.0" text-anchor="middle" textLength="3.80" lengthAdjust="spacingAndGlyphs">**</text>
<text x="86.68" y="260.40" font-size="5.0" text-anchor="middle" textLength="5.70" lengthAdjust="spacingAndGlyphs">***</text>
<text x="97.80" y="248.20" font-size="5.0" text-anchor="middle" textLength="5.70" lengthAdjust="spacingAndGlyphs">***</text>
<text x="108.92" y="238.20" font-size="5.0" text-anchor="middle" textLength="5.70" lengthAdjust="spacingAndGlyphs">***</text>
<text x="120.04" y="221.60" font-size="5.0" text-anchor="middle" textLength="5.70" lengthAdjust="spacingAndGlyphs">***</text>
<text x="131.16" y="205.70" font-size="5.0" text-anchor="middle" textLength="5.70" lengthAdjust="spacingAndGlyphs">***</text>
<text x="89.20" y="189.41" font-size="6.8" text-anchor="middle" textLength="25.50" lengthAdjust="spacingAndGlyphs">Kasumi-1</text>
<text x="108.60" y="284.20" font-size="5.6" textLength="25.00" lengthAdjust="spacingAndGlyphs">p= 1.3e-12</text>
<line x1="45.00" y1="200.40" x2="52.00" y2="200.40" stroke="#3e5e98" stroke-width="1.1"/>
<circle cx="48.50" cy="200.40" r="1.3" fill="#3e5e98"/>
<line x1="45.00" y1="207.90" x2="52.00" y2="207.90" stroke="#b0283c" stroke-width="1.1"/>
<rect x="46.50" y="206.20" width="4.0" height="3.4" rx="1.0" fill="#b0283c"/>
<text x="55.50" y="202.30" font-size="5.6" textLength="22.10" lengthAdjust="spacingAndGlyphs">shControl</text>
<text x="55.50" y="209.80" font-size="5.6" textLength="26.10" lengthAdjust="spacingAndGlyphs">shCBFA2T3</text>
<text x="91.90" y="312.30" font-size="8.4" text-anchor="middle" textLength="17.70" lengthAdjust="spacingAndGlyphs">Days</text>
<text x="26.66" y="272.70" font-size="9.0" textLength="83.30" lengthAdjust="spacingAndGlyphs" transform="rotate(-90 26.66 272.70)">Number of cells (X10<tspan font-size="5.5" dy="-3.6">4</tspan><tspan dy="3.6">)</tspan></text>
<rect x="173.8" y="194.3" width="97.0" height="94.19999999999999" fill="none" stroke="#231f20" stroke-width="1.1"/>
<line x1="171.00" y1="288.50" x2="173.80" y2="288.50" stroke="#231f20" stroke-width="0.9"/>
<text x="169.60" y="290.47" font-size="5.8" text-anchor="end">0</text>
<line x1="171.00" y1="275.25" x2="173.80" y2="275.25" stroke="#231f20" stroke-width="0.9"/>
<text x="169.60" y="277.22" font-size="5.8" text-anchor="end">10</text>
<line x1="171.00" y1="262.00" x2="173.80" y2="262.00" stroke="#231f20" stroke-width="0.9"/>
<text x="169.60" y="263.97" font-size="5.8" text-anchor="end">20</text>
<line x1="171.00" y1="248.75" x2="173.80" y2="248.75" stroke="#231f20" stroke-width="0.9"/>
<text x="169.60" y="250.72" font-size="5.8" text-anchor="end">30</text>
<line x1="171.00" y1="235.50" x2="173.80" y2="235.50" stroke="#231f20" stroke-width="0.9"/>
<text x="169.60" y="237.47" font-size="5.8" text-anchor="end">40</text>
<line x1="171.00" y1="222.25" x2="173.80" y2="222.25" stroke="#231f20" stroke-width="0.9"/>
<text x="169.60" y="224.22" font-size="5.8" text-anchor="end">50</text>
<line x1="171.00" y1="209.00" x2="173.80" y2="209.00" stroke="#231f20" stroke-width="0.9"/>
<text x="169.60" y="210.97" font-size="5.8" text-anchor="end">60</text>
<line x1="171.00" y1="195.75" x2="173.80" y2="195.75" stroke="#231f20" stroke-width="0.9"/>
<text x="169.60" y="197.72" font-size="5.8" text-anchor="end">70</text>
<line x1="173.80" y1="288.50" x2="173.80" y2="291.30" stroke="#231f20" stroke-width="0.9"/>
<text x="173.80" y="300.70" font-size="5.8" text-anchor="middle">0</text>
<line x1="187.66" y1="288.50" x2="187.66" y2="291.30" stroke="#231f20" stroke-width="0.9"/>
<text x="187.66" y="300.70" font-size="5.8" text-anchor="middle">1</text>
<line x1="201.52" y1="288.50" x2="201.52" y2="291.30" stroke="#231f20" stroke-width="0.9"/>
<text x="201.52" y="300.70" font-size="5.8" text-anchor="middle">2</text>
<line x1="215.38" y1="288.50" x2="215.38" y2="291.30" stroke="#231f20" stroke-width="0.9"/>
<text x="215.38" y="300.70" font-size="5.8" text-anchor="middle">3</text>
<line x1="229.24" y1="288.50" x2="229.24" y2="291.30" stroke="#231f20" stroke-width="0.9"/>
<text x="229.24" y="300.70" font-size="5.8" text-anchor="middle">4</text>
<line x1="243.10" y1="288.50" x2="243.10" y2="291.30" stroke="#231f20" stroke-width="0.9"/>
<text x="243.10" y="300.70" font-size="5.8" text-anchor="middle">5</text>
<line x1="256.96" y1="288.50" x2="256.96" y2="291.30" stroke="#231f20" stroke-width="0.9"/>
<text x="256.96" y="300.70" font-size="5.8" text-anchor="middle">6</text>
<line x1="270.82" y1="288.50" x2="270.82" y2="291.30" stroke="#231f20" stroke-width="0.9"/>
<text x="270.82" y="300.70" font-size="5.8" text-anchor="middle">7</text>
<line x1="187.66" y1="263.80" x2="187.66" y2="267.00" stroke="#231f20" stroke-width="0.8"/>
<line x1="186.46" y1="263.80" x2="188.86" y2="263.80" stroke="#231f20" stroke-width="0.8"/>
<line x1="186.46" y1="267.00" x2="188.86" y2="267.00" stroke="#231f20" stroke-width="0.8"/>
<line x1="201.52" y1="261.80" x2="201.52" y2="264.40" stroke="#231f20" stroke-width="0.8"/>
<line x1="200.32" y1="261.80" x2="202.72" y2="261.80" stroke="#231f20" stroke-width="0.8"/>
<line x1="200.32" y1="264.40" x2="202.72" y2="264.40" stroke="#231f20" stroke-width="0.8"/>
<line x1="215.38" y1="254.60" x2="215.38" y2="258.60" stroke="#231f20" stroke-width="0.8"/>
<line x1="214.18" y1="254.60" x2="216.58" y2="254.60" stroke="#231f20" stroke-width="0.8"/>
<line x1="214.18" y1="258.60" x2="216.58" y2="258.60" stroke="#231f20" stroke-width="0.8"/>
<line x1="229.24" y1="244.20" x2="229.24" y2="248.20" stroke="#231f20" stroke-width="0.8"/>
<line x1="228.04" y1="244.20" x2="230.44" y2="244.20" stroke="#231f20" stroke-width="0.8"/>
<line x1="228.04" y1="248.20" x2="230.44" y2="248.20" stroke="#231f20" stroke-width="0.8"/>
<line x1="243.10" y1="231.50" x2="243.10" y2="235.50" stroke="#231f20" stroke-width="0.8"/>
<line x1="241.90" y1="231.50" x2="244.30" y2="231.50" stroke="#231f20" stroke-width="0.8"/>
<line x1="241.90" y1="235.50" x2="244.30" y2="235.50" stroke="#231f20" stroke-width="0.8"/>
<line x1="256.96" y1="210.70" x2="256.96" y2="217.60" stroke="#231f20" stroke-width="0.8"/>
<line x1="255.76" y1="210.70" x2="258.16" y2="210.70" stroke="#231f20" stroke-width="0.8"/>
<line x1="255.76" y1="217.60" x2="258.16" y2="217.60" stroke="#231f20" stroke-width="0.8"/>
<line x1="187.66" y1="266.60" x2="187.66" y2="269.80" stroke="#231f20" stroke-width="0.8"/>
<line x1="186.46" y1="266.60" x2="188.86" y2="266.60" stroke="#231f20" stroke-width="0.8"/>
<line x1="186.46" y1="269.80" x2="188.86" y2="269.80" stroke="#231f20" stroke-width="0.8"/>
<line x1="201.52" y1="268.60" x2="201.52" y2="271.40" stroke="#231f20" stroke-width="0.8"/>
<line x1="200.32" y1="268.60" x2="202.72" y2="268.60" stroke="#231f20" stroke-width="0.8"/>
<line x1="200.32" y1="271.40" x2="202.72" y2="271.40" stroke="#231f20" stroke-width="0.8"/>
<line x1="215.38" y1="266.80" x2="215.38" y2="269.60" stroke="#231f20" stroke-width="0.8"/>
<line x1="214.18" y1="266.80" x2="216.58" y2="266.80" stroke="#231f20" stroke-width="0.8"/>
<line x1="214.18" y1="269.60" x2="216.58" y2="269.60" stroke="#231f20" stroke-width="0.8"/>
<line x1="229.24" y1="260.80" x2="229.24" y2="265.40" stroke="#231f20" stroke-width="0.8"/>
<line x1="228.04" y1="260.80" x2="230.44" y2="260.80" stroke="#231f20" stroke-width="0.8"/>
<line x1="228.04" y1="265.40" x2="230.44" y2="265.40" stroke="#231f20" stroke-width="0.8"/>
<line x1="243.10" y1="254.30" x2="243.10" y2="262.60" stroke="#231f20" stroke-width="0.8"/>
<line x1="241.90" y1="254.30" x2="244.30" y2="254.30" stroke="#231f20" stroke-width="0.8"/>
<line x1="241.90" y1="262.60" x2="244.30" y2="262.60" stroke="#231f20" stroke-width="0.8"/>
<line x1="256.96" y1="245.00" x2="256.96" y2="253.80" stroke="#231f20" stroke-width="0.8"/>
<line x1="255.76" y1="245.00" x2="258.16" y2="245.00" stroke="#231f20" stroke-width="0.8"/>
<line x1="255.76" y1="253.80" x2="258.16" y2="253.80" stroke="#231f20" stroke-width="0.8"/>
<polyline points="187.66,268.20 201.52,270.00 215.38,268.20 229.24,263.10 243.10,258.50 256.96,249.20" fill="none" stroke="#b0283c" stroke-width="1.1"/>
<rect x="185.66" y="266.50" width="4.0" height="3.4" rx="1.0" fill="#b0283c"/>
<rect x="199.52" y="268.30" width="4.0" height="3.4" rx="1.0" fill="#b0283c"/>
<rect x="213.38" y="266.50" width="4.0" height="3.4" rx="1.0" fill="#b0283c"/>
<rect x="227.24" y="261.40" width="4.0" height="3.4" rx="1.0" fill="#b0283c"/>
<rect x="241.10" y="256.80" width="4.0" height="3.4" rx="1.0" fill="#b0283c"/>
<rect x="254.96" y="247.50" width="4.0" height="3.4" rx="1.0" fill="#b0283c"/>
<polyline points="187.66,265.40 201.52,263.10 215.38,256.60 229.24,246.20 243.10,233.50 256.96,214.20" fill="none" stroke="#3e5e98" stroke-width="1.1"/>
<circle cx="187.66" cy="265.40" r="1.3" fill="#3e5e98"/>
<circle cx="201.52" cy="263.10" r="1.3" fill="#3e5e98"/>
<circle cx="215.38" cy="256.60" r="1.3" fill="#3e5e98"/>
<circle cx="229.24" cy="246.20" r="1.3" fill="#3e5e98"/>
<circle cx="243.10" cy="233.50" r="1.3" fill="#3e5e98"/>
<circle cx="256.96" cy="214.20" r="1.3" fill="#3e5e98"/>
<text x="201.52" y="262.10" font-size="5.0" text-anchor="middle" textLength="3.80" lengthAdjust="spacingAndGlyphs">**</text>
<text x="215.38" y="253.80" font-size="5.0" text-anchor="middle" textLength="5.70" lengthAdjust="spacingAndGlyphs">***</text>
<text x="229.24" y="243.60" font-size="5.0" text-anchor="middle" textLength="5.70" lengthAdjust="spacingAndGlyphs">***</text>
<text x="243.10" y="231.00" font-size="5.0" text-anchor="middle" textLength="5.70" lengthAdjust="spacingAndGlyphs">***</text>
<text x="256.96" y="210.60" font-size="5.0" text-anchor="middle" textLength="5.70" lengthAdjust="spacingAndGlyphs">***</text>
<text x="221.20" y="189.71" font-size="6.8" text-anchor="middle" textLength="25.50" lengthAdjust="spacingAndGlyphs">SKNO-1</text>
<text x="245.40" y="283.40" font-size="5.6" textLength="21.90" lengthAdjust="spacingAndGlyphs">p= 2.3e-9</text>
<line x1="176.60" y1="200.30" x2="183.60" y2="200.30" stroke="#3e5e98" stroke-width="1.1"/>
<circle cx="180.10" cy="200.30" r="1.3" fill="#3e5e98"/>
<line x1="176.60" y1="208.20" x2="183.60" y2="208.20" stroke="#b0283c" stroke-width="1.1"/>
<rect x="178.10" y="206.50" width="4.0" height="3.4" rx="1.0" fill="#b0283c"/>
<text x="187.10" y="202.20" font-size="5.6" textLength="22.70" lengthAdjust="spacingAndGlyphs">shControl</text>
<text x="187.10" y="210.10" font-size="5.6" textLength="26.10" lengthAdjust="spacingAndGlyphs">shCBFA2T3</text>
<text x="224.60" y="312.50" font-size="8.4" text-anchor="middle" textLength="17.70" lengthAdjust="spacingAndGlyphs">Days</text>
<text x="156.06" y="271.00" font-size="9.0" textLength="81.60" lengthAdjust="spacingAndGlyphs" transform="rotate(-90 156.06 271.00)">Number of cells (X10<tspan font-size="5.5" dy="-3.6">4</tspan><tspan dy="3.6">)</tspan></text>
<text x="311.20" y="249.70" font-size="12" textLength="9.00" lengthAdjust="spacingAndGlyphs">D</text>
<rect x="355.80" y="282.30" width="6.00" height="72.10" fill="#3e5a88"/>
<line x1="357.50" y1="282.30" x2="360.10" y2="282.30" stroke="#111" stroke-width="1.3"/>
<rect x="363.30" y="270.20" width="6.00" height="84.20" fill="#b0283c"/>
<line x1="365.00" y1="270.20" x2="367.60" y2="270.20" stroke="#111" stroke-width="1.3"/>
<rect x="372.30" y="323.10" width="5.90" height="31.30" fill="#3e5a88"/>
<line x1="373.95" y1="323.10" x2="376.55" y2="323.10" stroke="#111" stroke-width="1.3"/>
<rect x="379.90" y="331.00" width="6.00" height="23.40" fill="#b0283c"/>
<line x1="381.60" y1="331.00" x2="384.20" y2="331.00" stroke="#111" stroke-width="1.3"/>
<rect x="388.90" y="342.70" width="6.00" height="11.70" fill="#3e5a88"/>
<line x1="390.60" y1="342.70" x2="393.20" y2="342.70" stroke="#111" stroke-width="1.3"/>
<rect x="396.40" y="347.00" width="5.90" height="7.40" fill="#b0283c"/>
<line x1="398.05" y1="347.00" x2="400.65" y2="347.00" stroke="#111" stroke-width="1.3"/>
<rect x="352.6" y="261.7" width="61.19999999999999" height="98.0" fill="none" stroke="#231f20" stroke-width="1.2"/>
<text x="380.40" y="258.54" font-size="6.6" text-anchor="middle" textLength="25.00" lengthAdjust="spacingAndGlyphs">Kasumi-1</text>
<text x="366.30" y="268.80" font-size="5" text-anchor="middle" textLength="3.80" lengthAdjust="spacingAndGlyphs">**</text>
<text x="382.90" y="329.50" font-size="5" text-anchor="middle" textLength="3.80" lengthAdjust="spacingAndGlyphs">**</text>
<text x="399.40" y="345.10" font-size="5" text-anchor="middle" textLength="3.80" lengthAdjust="spacingAndGlyphs">**</text>
<rect x="373.50" y="264.40" width="5.80" height="4.70" fill="#3e5a88"/>
<rect x="373.50" y="271.90" width="5.80" height="4.40" fill="#b0283c"/>
<text x="382.50" y="268.70" font-size="5.6" textLength="20.00" lengthAdjust="spacingAndGlyphs">shControl</text>
<text x="382.50" y="276.00" font-size="5.6" textLength="24.00" lengthAdjust="spacingAndGlyphs">shCBFA2T3</text>
<line x1="362.30" y1="359.70" x2="362.30" y2="362.20" stroke="#231f20" stroke-width="0.9"/>
<text x="362.30" y="370.74" font-size="6.3" text-anchor="middle">G1</text>
<line x1="379.00" y1="359.70" x2="379.00" y2="362.20" stroke="#231f20" stroke-width="0.9"/>
<text x="379.00" y="370.74" font-size="6.3" text-anchor="middle">S</text>
<line x1="394.20" y1="359.70" x2="394.20" y2="362.20" stroke="#231f20" stroke-width="0.9"/>
<text x="394.20" y="370.74" font-size="6.3" text-anchor="middle">G2</text>
<rect x="419.80" y="290.90" width="5.80" height="63.50" fill="#3e5a88"/>
<line x1="421.40" y1="290.90" x2="424.00" y2="290.90" stroke="#111" stroke-width="1.3"/>
<rect x="427.10" y="277.20" width="5.90" height="77.20" fill="#b0283c"/>
<line x1="428.75" y1="277.20" x2="431.35" y2="277.20" stroke="#111" stroke-width="1.3"/>
<rect x="436.20" y="311.10" width="5.80" height="43.30" fill="#3e5a88"/>
<line x1="437.80" y1="311.10" x2="440.40" y2="311.10" stroke="#111" stroke-width="1.3"/>
<rect x="443.70" y="321.80" width="5.80" height="32.60" fill="#b0283c"/>
<line x1="445.30" y1="321.80" x2="447.90" y2="321.80" stroke="#111" stroke-width="1.3"/>
<rect x="452.90" y="345.40" width="5.70" height="9.00" fill="#3e5a88"/>
<line x1="454.45" y1="345.40" x2="457.05" y2="345.40" stroke="#111" stroke-width="1.3"/>
<rect x="460.30" y="349.00" width="5.80" height="5.40" fill="#b0283c"/>
<line x1="461.90" y1="349.00" x2="464.50" y2="349.00" stroke="#111" stroke-width="1.3"/>
<rect x="416.4" y="261.7" width="58.200000000000045" height="98.5" fill="none" stroke="#231f20" stroke-width="1.2"/>
<text x="445.40" y="258.54" font-size="6.6" text-anchor="middle" textLength="21.00" lengthAdjust="spacingAndGlyphs">SKNO-1</text>
<text x="430.00" y="275.80" font-size="5" text-anchor="middle" textLength="3.80" lengthAdjust="spacingAndGlyphs">**</text>
<text x="446.60" y="320.30" font-size="5" text-anchor="middle" textLength="3.80" lengthAdjust="spacingAndGlyphs">**</text>
<text x="463.20" y="347.30" font-size="5" text-anchor="middle" textLength="3.80" lengthAdjust="spacingAndGlyphs">**</text>
<rect x="435.20" y="264.40" width="5.80" height="4.70" fill="#3e5a88"/>
<rect x="435.20" y="271.90" width="5.80" height="4.40" fill="#b0283c"/>
<text x="444.20" y="268.70" font-size="5.6" textLength="20.00" lengthAdjust="spacingAndGlyphs">shControl</text>
<text x="444.20" y="276.00" font-size="5.6" textLength="24.00" lengthAdjust="spacingAndGlyphs">shCBFA2T3</text>
<line x1="425.80" y1="360.20" x2="425.80" y2="362.70" stroke="#231f20" stroke-width="0.9"/>
<text x="425.80" y="370.74" font-size="6.3" text-anchor="middle">G1</text>
<line x1="442.00" y1="360.20" x2="442.00" y2="362.70" stroke="#231f20" stroke-width="0.9"/>
<text x="442.00" y="370.74" font-size="6.3" text-anchor="middle">S</text>
<line x1="460.50" y1="360.20" x2="460.50" y2="362.70" stroke="#231f20" stroke-width="0.9"/>
<text x="460.50" y="370.74" font-size="6.3" text-anchor="middle">G2</text>
<line x1="349.60" y1="266.80" x2="352.60" y2="266.80" stroke="#231f20" stroke-width="0.9"/>
<text x="345.60" y="268.91" font-size="6.2" text-anchor="end" textLength="12.20" lengthAdjust="spacingAndGlyphs">0.75</text>
<line x1="349.60" y1="296.00" x2="352.60" y2="296.00" stroke="#231f20" stroke-width="0.9"/>
<text x="345.60" y="298.11" font-size="6.2" text-anchor="end" textLength="12.20" lengthAdjust="spacingAndGlyphs">0.50</text>
<line x1="349.60" y1="325.20" x2="352.60" y2="325.20" stroke="#231f20" stroke-width="0.9"/>
<text x="345.60" y="327.31" font-size="6.2" text-anchor="end" textLength="12.20" lengthAdjust="spacingAndGlyphs">0.25</text>
<line x1="349.60" y1="354.40" x2="352.60" y2="354.40" stroke="#231f20" stroke-width="0.9"/>
<text x="345.60" y="356.51" font-size="6.2" text-anchor="end" textLength="12.20" lengthAdjust="spacingAndGlyphs">0.00</text>
<text x="328.12" y="360.80" font-size="8.6" textLength="99.10" lengthAdjust="spacingAndGlyphs" transform="rotate(-90 328.12 360.80)">Percentage of cells (X100%)</text>
<defs><radialGradient id="mg" cx="0.5" cy="0.55" r="0.55"><stop offset="0" stop-color="#f6f6f6"/><stop offset="0.65" stop-color="#eaeaea"/><stop offset="1" stop-color="#c4c4c4"/></radialGradient><filter id="soft" x="-20%" y="-20%" width="140%" height="140%"><feGaussianBlur stdDeviation="0.45"/></filter><filter id="grain" x="0" y="0" width="100%" height="100%"><feTurbulence type="fractalNoise" baseFrequency="0.35 0.18" numOctaves="2" seed="5"/><feColorMatrix type="matrix" values="0 0 0 0 0.3  0 0 0 0 0.3  0 0 0 0 0.3  1.4 0 0 0 -0.55"/></filter><filter id="soft2" x="-50%" y="-50%" width="200%" height="200%"><feGaussianBlur stdDeviation="1.3"/></filter><linearGradient id="cb" x1="0" x2="0" y1="1" y2="0"><stop offset="0" stop-color="#3b1a78"/><stop offset="0.12" stop-color="#3a3aa8"/><stop offset="0.3" stop-color="#3aa0e0"/><stop offset="0.45" stop-color="#50c090"/><stop offset="0.6" stop-color="#8cc83c"/><stop offset="0.75" stop-color="#f0e030"/><stop offset="0.88" stop-color="#f09028"/><stop offset="1" stop-color="#d03020"/></linearGradient><clipPath id="cp1"><rect x="32" y="350.8" width="124.7" height="47.1"/></clipPath><clipPath id="cp2"><rect x="32" y="405.9" width="124.7" height="47.4"/></clipPath><clipPath id="cp3"><rect x="32" y="467.4" width="124.7" height="57.6"/></clipPath><clipPath id="cp4"><rect x="32" y="530.2" width="124.7" height="57.3"/></clipPath></defs>
<text x="7.15" y="334.70" font-size="12" textLength="6.20" lengthAdjust="spacingAndGlyphs">E</text>
<text x="15.20" y="350.78" font-size="7.0" textLength="13.30" lengthAdjust="spacingAndGlyphs">Time</text>
<polygon points="31.2,347.6 156.5,337.3 156.5,347.8" fill="#fff" stroke="#231f20" stroke-width="0.8"/>
<line x1="31.20" y1="347.80" x2="156.50" y2="347.80" stroke="#231f20" stroke-width="1.3"/>
<rect x="32.00" y="350.80" width="124.70" height="47.10" fill="#595959"/>
<rect x="34.00" y="350.80" width="0.70" height="47.10" fill="#636363"/>
<rect x="36.00" y="350.80" width="0.70" height="47.10" fill="#636363"/>
<rect x="39.50" y="350.80" width="0.70" height="47.10" fill="#636363"/>
<rect x="44.00" y="350.80" width="0.70" height="47.10" fill="#636363"/>
<rect x="47.00" y="350.80" width="0.70" height="47.10" fill="#636363"/>
<rect x="52.50" y="350.80" width="0.70" height="47.10" fill="#636363"/>
<rect x="55.00" y="350.80" width="0.70" height="47.10" fill="#636363"/>
<rect x="58.00" y="350.80" width="0.70" height="47.10" fill="#636363"/>
<rect x="61.50" y="350.80" width="0.70" height="47.10" fill="#636363"/>
<rect x="66.00" y="350.80" width="0.70" height="47.10" fill="#636363"/>
<rect x="69.00" y="350.80" width="0.70" height="47.10" fill="#636363"/>
<rect x="74.50" y="350.80" width="0.70" height="47.10" fill="#636363"/>
<rect x="77.00" y="350.80" width="0.70" height="47.10" fill="#636363"/>
<rect x="80.00" y="350.80" width="0.70" height="47.10" fill="#636363"/>
<rect x="84.00" y="350.80" width="0.70" height="47.10" fill="#636363"/>
<rect x="88.00" y="350.80" width="0.70" height="47.10" fill="#636363"/>
<rect x="91.00" y="350.80" width="0.70" height="47.10" fill="#636363"/>
<rect x="95.80" y="350.80" width="0.70" height="47.10" fill="#636363"/>
<rect x="98.50" y="350.80" width="0.70" height="47.10" fill="#636363"/>
<rect x="101.00" y="350.80" width="0.70" height="47.10" fill="#636363"/>
<rect x="105.00" y="350.80" width="0.70" height="47.10" fill="#636363"/>
<rect x="109.00" y="350.80" width="0.70" height="47.10" fill="#636363"/>
<rect x="112.50" y="350.80" width="0.70" height="47.10" fill="#636363"/>
<rect x="117.30" y="350.80" width="0.70" height="47.10" fill="#636363"/>
<rect x="120.00" y="350.80" width="0.70" height="47.10" fill="#636363"/>
<rect x="123.00" y="350.80" width="0.70" height="47.10" fill="#636363"/>
<rect x="126.50" y="350.80" width="0.70" height="47.10" fill="#636363"/>
<rect x="130.00" y="350.80" width="0.70" height="47.10" fill="#636363"/>
<rect x="133.50" y="350.80" width="0.70" height="47.10" fill="#636363"/>
<rect x="137.50" y="350.80" width="0.70" height="47.10" fill="#636363"/>
<rect x="140.00" y="350.80" width="0.70" height="47.10" fill="#636363"/>
<rect x="143.00" y="350.80" width="0.70" height="47.10" fill="#636363"/>
<rect x="147.00" y="350.80" width="0.70" height="47.10" fill="#636363"/>
<rect x="151.00" y="350.80" width="0.70" height="47.10" fill="#636363"/>
<rect x="154.00" y="350.80" width="0.70" height="47.10" fill="#636363"/>
<rect x="51.20" y="350.80" width="1.20" height="47.10" fill="#4a4a4a"/>
<rect x="73.80" y="350.80" width="1.20" height="47.10" fill="#4a4a4a"/>
<rect x="95.20" y="350.80" width="1.20" height="47.10" fill="#4a4a4a"/>
<rect x="116.70" y="350.80" width="1.20" height="47.10" fill="#4a4a4a"/>
<rect x="136.90" y="350.80" width="1.20" height="47.10" fill="#4a4a4a"/>
<g clip-path="url(#cp1)">
<line x1="41.50" y1="389.00" x2="41.50" y2="398.90" stroke="#c0c0c0" stroke-width="2.6"/>
<line x1="35.30" y1="387.60" x2="29.22" y2="392.00" stroke="#b0b0b0" stroke-width="1.8"/>
<line x1="46.70" y1="387.60" x2="52.78" y2="392.00" stroke="#b0b0b0" stroke-width="1.8"/>
<path d="M38.53,350.00 C39.67,348.80 42.33,348.80 43.47,350.00 C44.80,352.80 45.18,355.20 47.08,357.60 C50.50,360.00 50.88,365.20 50.50,373.20 C50.31,382.00 49.74,388.00 43.28,390.00 C41.91,390.40 40.09,390.40 38.72,390.00 C32.26,388.00 31.69,382.00 31.50,373.20 C31.12,365.20 31.50,360.00 34.92,357.60 C36.82,355.20 37.20,352.80 38.53,350.00 Z" fill="url(#mg)" filter="url(#soft)"/>
<line x1="63.50" y1="389.00" x2="63.50" y2="398.90" stroke="#c0c0c0" stroke-width="2.6"/>
<line x1="57.00" y1="387.60" x2="50.60" y2="392.00" stroke="#b0b0b0" stroke-width="1.8"/>
<line x1="69.00" y1="387.60" x2="75.40" y2="392.00" stroke="#b0b0b0" stroke-width="1.8"/>
<path d="M60.40,350.00 C61.60,348.80 64.40,348.80 65.60,350.00 C67.00,352.80 67.40,355.20 69.40,357.60 C73.00,360.00 73.40,365.20 73.00,373.20 C72.80,382.00 72.20,388.00 65.40,390.00 C63.96,390.40 62.04,390.40 60.60,390.00 C53.80,388.00 53.20,382.00 53.00,373.20 C52.60,365.20 53.00,360.00 56.60,357.60 C58.60,355.20 59.00,352.80 60.40,350.00 Z" fill="url(#mg)" filter="url(#soft)"/>
<line x1="85.50" y1="389.00" x2="85.50" y2="398.90" stroke="#c0c0c0" stroke-width="2.6"/>
<line x1="79.00" y1="387.60" x2="72.60" y2="392.00" stroke="#b0b0b0" stroke-width="1.8"/>
<line x1="91.00" y1="387.60" x2="97.40" y2="392.00" stroke="#b0b0b0" stroke-width="1.8"/>
<path d="M82.40,350.00 C83.60,348.80 86.40,348.80 87.60,350.00 C89.00,352.80 89.40,355.20 91.40,357.60 C95.00,360.00 95.40,365.20 95.00,373.20 C94.80,382.00 94.20,388.00 87.40,390.00 C85.96,390.40 84.04,390.40 82.60,390.00 C75.80,388.00 75.20,382.00 75.00,373.20 C74.60,365.20 75.00,360.00 78.60,357.60 C80.60,355.20 81.00,352.80 82.40,350.00 Z" fill="url(#mg)" filter="url(#soft)"/>
<line x1="106.80" y1="389.00" x2="106.80" y2="398.90" stroke="#c0c0c0" stroke-width="2.6"/>
<line x1="100.30" y1="387.60" x2="93.90" y2="392.00" stroke="#b0b0b0" stroke-width="1.8"/>
<line x1="112.30" y1="387.60" x2="118.70" y2="392.00" stroke="#b0b0b0" stroke-width="1.8"/>
<path d="M103.70,350.00 C104.90,348.80 107.70,348.80 108.90,350.00 C110.30,352.80 110.70,355.20 112.70,357.60 C116.30,360.00 116.70,365.20 116.30,373.20 C116.10,382.00 115.50,388.00 108.70,390.00 C107.26,390.40 105.34,390.40 103.90,390.00 C97.10,388.00 96.50,382.00 96.30,373.20 C95.90,365.20 96.30,360.00 99.90,357.60 C101.90,355.20 102.30,352.80 103.70,350.00 Z" fill="url(#mg)" filter="url(#soft)"/>
<line x1="127.50" y1="389.00" x2="127.50" y2="398.90" stroke="#c0c0c0" stroke-width="2.6"/>
<line x1="121.00" y1="387.60" x2="114.60" y2="392.00" stroke="#b0b0b0" stroke-width="1.8"/>
<line x1="133.00" y1="387.60" x2="139.40" y2="392.00" stroke="#b0b0b0" stroke-width="1.8"/>
<path d="M124.40,350.00 C125.60,348.80 128.40,348.80 129.60,350.00 C131.00,352.80 131.40,355.20 133.40,357.60 C137.00,360.00 137.40,365.20 137.00,373.20 C136.80,382.00 136.20,388.00 129.40,390.00 C127.96,390.40 126.04,390.40 124.60,390.00 C117.80,388.00 117.20,382.00 117.00,373.20 C116.60,365.20 117.00,360.00 120.60,357.60 C122.60,355.20 123.00,352.80 124.40,350.00 Z" fill="url(#mg)" filter="url(#soft)"/>
<line x1="147.00" y1="389.00" x2="147.00" y2="398.90" stroke="#c0c0c0" stroke-width="2.6"/>
<line x1="140.65" y1="387.60" x2="134.41" y2="392.00" stroke="#b0b0b0" stroke-width="1.8"/>
<line x1="152.35" y1="387.60" x2="158.59" y2="392.00" stroke="#b0b0b0" stroke-width="1.8"/>
<path d="M143.97,350.00 C145.13,348.80 147.87,348.80 149.03,350.00 C150.40,352.80 150.79,355.20 152.74,357.60 C156.25,360.00 156.64,365.20 156.25,373.20 C156.06,382.00 155.47,388.00 148.84,390.00 C147.44,390.40 145.56,390.40 144.16,390.00 C137.53,388.00 136.94,382.00 136.75,373.20 C136.36,365.20 136.75,360.00 140.26,357.60 C142.21,355.20 142.60,352.80 143.97,350.00 Z" fill="url(#mg)" filter="url(#soft)"/>
<ellipse cx="40.10" cy="379.70" rx="2.80" ry="2.00" fill="#6e2c9e" filter="url(#soft)"/>
<ellipse cx="62.30" cy="377.80" rx="2.60" ry="1.90" fill="#6e2c9e" filter="url(#soft)"/>
<path d="M77,377 C78,373.5 82,374 84,375.5 C86,374 90,373.5 91.3,376 C92,379 90,382 88,382.5 C85,383 83,380.5 81,382 C78,383 76.5,380 77,377 Z" fill="#6e2c9e" filter="url(#soft)"/>
<ellipse cx="81.20" cy="357.20" rx="1.20" ry="1.00" fill="#6e2c9e" filter="url(#soft)"/>
<ellipse cx="87.50" cy="356.20" rx="1.00" ry="0.90" fill="#6e2c9e" filter="url(#soft)"/>
<ellipse cx="89.80" cy="367.00" rx="1.60" ry="2.20" fill="#6e2c9e" filter="url(#soft)"/>
<ellipse cx="86.50" cy="365.00" rx="0.90" ry="0.90" fill="#6e2c9e" filter="url(#soft)"/>
<path d="M100.8,372 C101,368 104,366.5 106,367.5 C108,365.5 112,365 114.5,367 C115.5,371 115,378 114,383 C112.5,386 108,386.8 104,386 C101,385.5 100.3,382 100.5,378 Z" fill="#6e2c9e" filter="url(#soft)"/>
<ellipse cx="106.5" cy="375.5" rx="3.5" ry="3.5" fill="#4c38a8" filter="url(#soft2)"/>
<ellipse cx="100.60" cy="355.50" rx="1.10" ry="1.00" fill="#6e2c9e" filter="url(#soft)"/>
<ellipse cx="107.00" cy="358.50" rx="0.90" ry="0.90" fill="#6e2c9e" filter="url(#soft)"/>
<path d="M118.8,370 C119.5,366.5 124,365.5 127,366 C131,365.5 134.5,367 135,371 C135.5,378 135,386 131,390 C127,391.5 122,391 120,388 C118.5,383 118.3,376 118.8,370 Z" fill="#6e2c9e" filter="url(#soft)"/>
<ellipse cx="126.5" cy="377" rx="5.5" ry="5.5" fill="#4a40b0" filter="url(#soft2)"/>
<ellipse cx="126.30" cy="376.50" rx="2.40" ry="1.80" fill="#3aa8e0" filter="url(#soft)"/>
<ellipse cx="126.30" cy="376.50" rx="1.10" ry="0.80" fill="#a0f0f0" filter="url(#soft)"/>
<ellipse cx="120.50" cy="357.00" rx="1.00" ry="1.00" fill="#6e2c9e" filter="url(#soft)"/>
<ellipse cx="128.80" cy="360.00" rx="1.10" ry="1.00" fill="#6e2c9e" filter="url(#soft)"/>
<ellipse cx="143.20" cy="356.50" rx="2.40" ry="3.50" fill="#6e2c9e" filter="url(#soft)"/>
<path d="M137.2,366 C137.5,362 141,360 145,360.5 C150,359.5 155,361 155.8,366 C156.3,374 155.5,384 150,389.5 C145,390.5 139.5,389 137.8,384 C136.8,378 136.8,371 137.2,366 Z" fill="#6e2c9e" filter="url(#soft)"/>
<ellipse cx="146.5" cy="377" rx="6.5" ry="8.5" fill="#5040a8" filter="url(#soft2)"/>
<ellipse cx="151.90" cy="367.40" rx="2.40" ry="2.00" fill="#3aa8e0" filter="url(#soft)"/>
<ellipse cx="151.90" cy="367.40" rx="1.00" ry="0.90" fill="#a8f0f0" filter="url(#soft)"/>
<ellipse cx="140.60" cy="378.60" rx="2.20" ry="2.00" fill="#3aa8e0" filter="url(#soft)"/>
<ellipse cx="140.60" cy="378.60" rx="0.90" ry="0.80" fill="#a8f0f0" filter="url(#soft)"/>
<rect x="32" y="350.8" width="124.7" height="47.1" filter="url(#grain)" opacity="0.4"/>
</g>
<rect x="32.00" y="405.90" width="124.70" height="47.40" fill="#595959"/>
<rect x="34.00" y="405.90" width="0.70" height="47.40" fill="#636363"/>
<rect x="36.00" y="405.90" width="0.70" height="47.40" fill="#636363"/>
<rect x="39.50" y="405.90" width="0.70" height="47.40" fill="#636363"/>
<rect x="44.00" y="405.90" width="0.70" height="47.40" fill="#636363"/>
<rect x="47.00" y="405.90" width="0.70" height="47.40" fill="#636363"/>
<rect x="52.50" y="405.90" width="0.70" height="47.40" fill="#636363"/>
<rect x="55.00" y="405.90" width="0.70" height="47.40" fill="#636363"/>
<rect x="58.00" y="405.90" width="0.70" height="47.40" fill="#636363"/>
<rect x="61.50" y="405.90" width="0.70" height="47.40" fill="#636363"/>
<rect x="66.00" y="405.90" width="0.70" height="47.40" fill="#636363"/>
<rect x="69.00" y="405.90" width="0.70" height="47.40" fill="#636363"/>
<rect x="74.50" y="405.90" width="0.70" height="47.40" fill="#636363"/>
<rect x="77.00" y="405.90" width="0.70" height="47.40" fill="#636363"/>
<rect x="80.00" y="405.90" width="0.70" height="47.40" fill="#636363"/>
<rect x="84.00" y="405.90" width="0.70" height="47.40" fill="#636363"/>
<rect x="88.00" y="405.90" width="0.70" height="47.40" fill="#636363"/>
<rect x="91.00" y="405.90" width="0.70" height="47.40" fill="#636363"/>
<rect x="95.80" y="405.90" width="0.70" height="47.40" fill="#636363"/>
<rect x="98.50" y="405.90" width="0.70" height="47.40" fill="#636363"/>
<rect x="101.00" y="405.90" width="0.70" height="47.40" fill="#636363"/>
<rect x="105.00" y="405.90" width="0.70" height="47.40" fill="#636363"/>
<rect x="109.00" y="405.90" width="0.70" height="47.40" fill="#636363"/>
<rect x="112.50" y="405.90" width="0.70" height="47.40" fill="#636363"/>
<rect x="117.30" y="405.90" width="0.70" height="47.40" fill="#636363"/>
<rect x="120.00" y="405.90" width="0.70" height="47.40" fill="#636363"/>
<rect x="123.00" y="405.90" width="0.70" height="47.40" fill="#636363"/>
<rect x="126.50" y="405.90" width="0.70" height="47.40" fill="#636363"/>
<rect x="130.00" y="405.90" width="0.70" height="47.40" fill="#636363"/>
<rect x="133.50" y="405.90" width="0.70" height="47.40" fill="#636363"/>
<rect x="137.50" y="405.90" width="0.70" height="47.40" fill="#636363"/>
<rect x="140.00" y="405.90" width="0.70" height="47.40" fill="#636363"/>
<rect x="143.00" y="405.90" width="0.70" height="47.40" fill="#636363"/>
<rect x="147.00" y="405.90" width="0.70" height="47.40" fill="#636363"/>
<rect x="151.00" y="405.90" width="0.70" height="47.40" fill="#636363"/>
<rect x="154.00" y="405.90" width="0.70" height="47.40" fill="#636363"/>
<rect x="51.20" y="405.90" width="1.20" height="47.40" fill="#4a4a4a"/>
<rect x="73.80" y="405.90" width="1.20" height="47.40" fill="#4a4a4a"/>
<rect x="95.20" y="405.90" width="1.20" height="47.40" fill="#4a4a4a"/>
<rect x="116.70" y="405.90" width="1.20" height="47.40" fill="#4a4a4a"/>
<rect x="136.90" y="405.90" width="1.20" height="47.40" fill="#4a4a4a"/>
<g clip-path="url(#cp2)">
<line x1="42.50" y1="446.50" x2="42.50" y2="454.30" stroke="#c0c0c0" stroke-width="2.6"/>
<line x1="36.15" y1="444.95" x2="29.91" y2="449.62" stroke="#b0b0b0" stroke-width="1.8"/>
<line x1="47.85" y1="444.95" x2="54.09" y2="449.62" stroke="#b0b0b0" stroke-width="1.8"/>
<path d="M39.47,405.00 C40.63,403.73 43.37,403.73 44.53,405.00 C45.90,407.98 46.29,410.52 48.24,413.07 C51.75,415.62 52.14,421.15 51.75,429.65 C51.55,439.00 50.97,445.38 44.34,447.50 C42.94,447.93 41.06,447.93 39.66,447.50 C33.03,445.38 32.45,439.00 32.25,429.65 C31.86,421.15 32.25,415.62 35.76,413.07 C37.71,410.52 38.10,407.98 39.47,405.00 Z" fill="url(#mg)" filter="url(#soft)"/>
<line x1="63.50" y1="446.50" x2="63.50" y2="454.30" stroke="#c0c0c0" stroke-width="2.6"/>
<line x1="57.00" y1="444.95" x2="50.60" y2="449.62" stroke="#b0b0b0" stroke-width="1.8"/>
<line x1="69.00" y1="444.95" x2="75.40" y2="449.62" stroke="#b0b0b0" stroke-width="1.8"/>
<path d="M60.40,405.00 C61.60,403.73 64.40,403.73 65.60,405.00 C67.00,407.98 67.40,410.52 69.40,413.07 C73.00,415.62 73.40,421.15 73.00,429.65 C72.80,439.00 72.20,445.38 65.40,447.50 C63.96,447.93 62.04,447.93 60.60,447.50 C53.80,445.38 53.20,439.00 53.00,429.65 C52.60,421.15 53.00,415.62 56.60,413.07 C58.60,410.52 59.00,407.98 60.40,405.00 Z" fill="url(#mg)" filter="url(#soft)"/>
<line x1="84.70" y1="446.50" x2="84.70" y2="454.30" stroke="#c0c0c0" stroke-width="2.6"/>
<line x1="78.35" y1="444.95" x2="72.11" y2="449.62" stroke="#b0b0b0" stroke-width="1.8"/>
<line x1="90.05" y1="444.95" x2="96.29" y2="449.62" stroke="#b0b0b0" stroke-width="1.8"/>
<path d="M81.67,405.00 C82.84,403.73 85.56,403.73 86.73,405.00 C88.10,407.98 88.49,410.52 90.44,413.07 C93.95,415.62 94.34,421.15 93.95,429.65 C93.75,439.00 93.17,445.38 86.54,447.50 C85.14,447.93 83.26,447.93 81.86,447.50 C75.23,445.38 74.65,439.00 74.45,429.65 C74.06,421.15 74.45,415.62 77.96,413.07 C79.91,410.52 80.30,407.98 81.67,405.00 Z" fill="url(#mg)" filter="url(#soft)"/>
<line x1="105.00" y1="446.50" x2="105.00" y2="454.30" stroke="#c0c0c0" stroke-width="2.6"/>
<line x1="98.50" y1="444.95" x2="92.10" y2="449.62" stroke="#b0b0b0" stroke-width="1.8"/>
<line x1="110.50" y1="444.95" x2="116.90" y2="449.62" stroke="#b0b0b0" stroke-width="1.8"/>
<path d="M101.90,405.00 C103.10,403.73 105.90,403.73 107.10,405.00 C108.50,407.98 108.90,410.52 110.90,413.07 C114.50,415.62 114.90,421.15 114.50,429.65 C114.30,439.00 113.70,445.38 106.90,447.50 C105.46,447.93 103.54,447.93 102.10,447.50 C95.30,445.38 94.70,439.00 94.50,429.65 C94.10,421.15 94.50,415.62 98.10,413.07 C100.10,410.52 100.50,407.98 101.90,405.00 Z" fill="url(#mg)" filter="url(#soft)"/>
<line x1="125.30" y1="446.50" x2="125.30" y2="454.30" stroke="#c0c0c0" stroke-width="2.6"/>
<line x1="118.80" y1="444.95" x2="112.40" y2="449.62" stroke="#b0b0b0" stroke-width="1.8"/>
<line x1="130.80" y1="444.95" x2="137.20" y2="449.62" stroke="#b0b0b0" stroke-width="1.8"/>
<path d="M122.20,405.00 C123.40,403.73 126.20,403.73 127.40,405.00 C128.80,407.98 129.20,410.52 131.20,413.07 C134.80,415.62 135.20,421.15 134.80,429.65 C134.60,439.00 134.00,445.38 127.20,447.50 C125.76,447.93 123.84,447.93 122.40,447.50 C115.60,445.38 115.00,439.00 114.80,429.65 C114.40,421.15 114.80,415.62 118.40,413.07 C120.40,410.52 120.80,407.98 122.20,405.00 Z" fill="url(#mg)" filter="url(#soft)"/>
<line x1="146.50" y1="446.50" x2="146.50" y2="454.30" stroke="#c0c0c0" stroke-width="2.6"/>
<line x1="140.15" y1="444.95" x2="133.91" y2="449.62" stroke="#b0b0b0" stroke-width="1.8"/>
<line x1="151.85" y1="444.95" x2="158.09" y2="449.62" stroke="#b0b0b0" stroke-width="1.8"/>
<path d="M143.47,405.00 C144.63,403.73 147.37,403.73 148.53,405.00 C149.90,407.98 150.29,410.52 152.24,413.07 C155.75,415.62 156.14,421.15 155.75,429.65 C155.56,439.00 154.97,445.38 148.34,447.50 C146.94,447.93 145.06,447.93 143.66,447.50 C137.03,445.38 136.44,439.00 136.25,429.65 C135.86,421.15 136.25,415.62 139.76,413.07 C141.71,410.52 142.10,407.98 143.47,405.00 Z" fill="url(#mg)" filter="url(#soft)"/>
<ellipse cx="42.80" cy="436.30" rx="2.80" ry="1.90" fill="#6e2c9e" filter="url(#soft)"/>
<ellipse cx="60.70" cy="436.70" rx="3.10" ry="2.30" fill="#6e2c9e" filter="url(#soft)"/>
<ellipse cx="80.70" cy="436.30" rx="3.00" ry="2.70" fill="#6e2c9e" filter="url(#soft)"/>
<path d="M99.6,438 C99.8,435.5 102,434.8 104,435.5 C106,435 108.5,436 108.8,438.5 C109,441.5 107,443.8 104.5,443.6 C102,443.5 99.5,441.5 99.6,438 Z" fill="#6e2c9e" filter="url(#soft)"/>
<path d="M119.6,437.5 C120,435 123,434.8 125,435.3 C128,435 130,436.5 129.8,439 C129.5,442 127,443.3 124.5,443 C121.5,443 119.4,441 119.6,437.5 Z" fill="#6e2c9e" filter="url(#soft)"/>
<path d="M139.8,431.5 C141,429 145,429.4 148,430.5 C151.5,431.5 153.5,434 153.2,438 C153,442 151.5,446.5 147.5,447 C143,447 140.5,444 139.8,440 Z" fill="#6e2c9e" filter="url(#soft)"/>
<ellipse cx="141.20" cy="433.00" rx="1.30" ry="1.10" fill="#3a8ad0" filter="url(#soft)"/>
<rect x="32" y="405.9" width="124.7" height="47.4" filter="url(#grain)" opacity="0.4"/>
</g>
<text x="17.30" y="462.11" font-size="6.8" textLength="11.50" lengthAdjust="spacingAndGlyphs">Day</text>
<text x="42.20" y="462.11" font-size="6.8" text-anchor="middle">19</text>
<text x="63.40" y="462.11" font-size="6.8" text-anchor="middle">22</text>
<text x="83.80" y="462.11" font-size="6.8" text-anchor="middle">28</text>
<text x="104.20" y="462.11" font-size="6.8" text-anchor="middle">35</text>
<text x="124.70" y="462.11" font-size="6.8" text-anchor="middle">42</text>
<text x="145.40" y="462.11" font-size="6.8" text-anchor="middle">48</text>
<text x="26.91" y="388.80" font-size="6.8" textLength="28.80" lengthAdjust="spacingAndGlyphs" transform="rotate(-90 26.91 388.80)">shControl</text>
<text x="26.91" y="446.50" font-size="6.8" textLength="35.70" lengthAdjust="spacingAndGlyphs" transform="rotate(-90 26.91 446.50)">shCBFA2T3</text>
<rect x="32.00" y="467.40" width="124.70" height="57.60" fill="#595959"/>
<rect x="34.00" y="467.40" width="0.70" height="57.60" fill="#636363"/>
<rect x="36.00" y="467.40" width="0.70" height="57.60" fill="#636363"/>
<rect x="39.50" y="467.40" width="0.70" height="57.60" fill="#636363"/>
<rect x="44.00" y="467.40" width="0.70" height="57.60" fill="#636363"/>
<rect x="47.00" y="467.40" width="0.70" height="57.60" fill="#636363"/>
<rect x="52.50" y="467.40" width="0.70" height="57.60" fill="#636363"/>
<rect x="55.00" y="467.40" width="0.70" height="57.60" fill="#636363"/>
<rect x="58.00" y="467.40" width="0.70" height="57.60" fill="#636363"/>
<rect x="61.50" y="467.40" width="0.70" height="57.60" fill="#636363"/>
<rect x="66.00" y="467.40" width="0.70" height="57.60" fill="#636363"/>
<rect x="69.00" y="467.40" width="0.70" height="57.60" fill="#636363"/>
<rect x="74.50" y="467.40" width="0.70" height="57.60" fill="#636363"/>
<rect x="77.00" y="467.40" width="0.70" height="57.60" fill="#636363"/>
<rect x="80.00" y="467.40" width="0.70" height="57.60" fill="#636363"/>
<rect x="84.00" y="467.40" width="0.70" height="57.60" fill="#636363"/>
<rect x="88.00" y="467.40" width="0.70" height="57.60" fill="#636363"/>
<rect x="91.00" y="467.40" width="0.70" height="57.60" fill="#636363"/>
<rect x="95.80" y="467.40" width="0.70" height="57.60" fill="#636363"/>
<rect x="98.50" y="467.40" width="0.70" height="57.60" fill="#636363"/>
<rect x="101.00" y="467.40" width="0.70" height="57.60" fill="#636363"/>
<rect x="105.00" y="467.40" width="0.70" height="57.60" fill="#636363"/>
<rect x="109.00" y="467.40" width="0.70" height="57.60" fill="#636363"/>
<rect x="112.50" y="467.40" width="0.70" height="57.60" fill="#636363"/>
<rect x="117.30" y="467.40" width="0.70" height="57.60" fill="#636363"/>
<rect x="120.00" y="467.40" width="0.70" height="57.60" fill="#636363"/>
<rect x="123.00" y="467.40" width="0.70" height="57.60" fill="#636363"/>
<rect x="126.50" y="467.40" width="0.70" height="57.60" fill="#636363"/>
<rect x="130.00" y="467.40" width="0.70" height="57.60" fill="#636363"/>
<rect x="133.50" y="467.40" width="0.70" height="57.60" fill="#636363"/>
<rect x="137.50" y="467.40" width="0.70" height="57.60" fill="#636363"/>
<rect x="140.00" y="467.40" width="0.70" height="57.60" fill="#636363"/>
<rect x="143.00" y="467.40" width="0.70" height="57.60" fill="#636363"/>
<rect x="147.00" y="467.40" width="0.70" height="57.60" fill="#636363"/>
<rect x="151.00" y="467.40" width="0.70" height="57.60" fill="#636363"/>
<rect x="154.00" y="467.40" width="0.70" height="57.60" fill="#636363"/>
<rect x="51.20" y="467.40" width="1.20" height="57.60" fill="#4a4a4a"/>
<rect x="73.80" y="467.40" width="1.20" height="57.60" fill="#4a4a4a"/>
<rect x="95.20" y="467.40" width="1.20" height="57.60" fill="#4a4a4a"/>
<rect x="116.70" y="467.40" width="1.20" height="57.60" fill="#4a4a4a"/>
<rect x="136.90" y="467.40" width="1.20" height="57.60" fill="#4a4a4a"/>
<g clip-path="url(#cp3)">
<line x1="39.30" y1="505.00" x2="35.80" y2="526.00" stroke="#c0c0c0" stroke-width="2.6"/>
<line x1="36.70" y1="503.81" x2="31.26" y2="507.82" stroke="#b0b0b0" stroke-width="1.8"/>
<line x1="46.90" y1="503.81" x2="52.34" y2="507.82" stroke="#b0b0b0" stroke-width="1.8"/>
<path d="M39.59,469.50 C40.61,468.40 42.99,468.40 44.01,469.50 C45.20,472.06 45.54,474.25 47.24,476.44 C50.30,478.62 50.64,483.37 50.30,490.67 C50.13,498.70 49.62,504.18 43.84,506.00 C42.62,506.37 40.98,506.37 39.76,506.00 C33.98,504.18 33.47,498.70 33.30,490.67 C32.96,483.37 33.30,478.62 36.36,476.44 C38.06,474.25 38.40,472.06 39.59,469.50 Z" fill="url(#mg)" filter="url(#soft)"/>
<line x1="61.80" y1="503.50" x2="61.80" y2="526.00" stroke="#c0c0c0" stroke-width="2.6"/>
<line x1="56.50" y1="502.31" x2="51.38" y2="506.32" stroke="#b0b0b0" stroke-width="1.8"/>
<line x1="66.10" y1="502.31" x2="71.22" y2="506.32" stroke="#b0b0b0" stroke-width="1.8"/>
<path d="M59.22,468.00 C60.18,466.90 62.42,466.90 63.38,468.00 C64.50,470.56 64.82,472.75 66.42,474.94 C69.30,477.12 69.62,481.87 69.30,489.17 C69.14,497.20 68.66,502.68 63.22,504.50 C62.07,504.87 60.53,504.87 59.38,504.50 C53.94,502.68 53.46,497.20 53.30,489.17 C52.98,481.87 53.30,477.12 56.18,474.94 C57.78,472.75 58.10,470.56 59.22,468.00 Z" fill="url(#mg)" filter="url(#soft)"/>
<line x1="83.70" y1="503.50" x2="81.20" y2="526.00" stroke="#c0c0c0" stroke-width="2.6"/>
<line x1="78.25" y1="502.31" x2="72.97" y2="506.32" stroke="#b0b0b0" stroke-width="1.8"/>
<line x1="88.15" y1="502.31" x2="93.43" y2="506.32" stroke="#b0b0b0" stroke-width="1.8"/>
<path d="M81.06,468.00 C82.05,466.90 84.36,466.90 85.34,468.00 C86.50,470.56 86.83,472.75 88.48,474.94 C91.45,477.12 91.78,481.87 91.45,489.17 C91.28,497.20 90.79,502.68 85.18,504.50 C83.99,504.87 82.41,504.87 81.22,504.50 C75.61,502.68 75.12,497.20 74.95,489.17 C74.62,481.87 74.95,477.12 77.92,474.94 C79.57,472.75 79.90,470.56 81.06,468.00 Z" fill="url(#mg)" filter="url(#soft)"/>
<line x1="105.30" y1="507.00" x2="105.30" y2="526.00" stroke="#c0c0c0" stroke-width="2.6"/>
<line x1="99.70" y1="505.69" x2="94.26" y2="509.93" stroke="#b0b0b0" stroke-width="1.8"/>
<line x1="109.90" y1="505.69" x2="115.34" y2="509.93" stroke="#b0b0b0" stroke-width="1.8"/>
<path d="M102.59,469.50 C103.61,468.35 105.99,468.35 107.01,469.50 C108.20,472.19 108.54,474.50 110.24,476.81 C113.30,479.12 113.64,484.13 113.30,491.83 C113.13,500.30 112.62,506.07 106.84,508.00 C105.62,508.38 103.98,508.38 102.76,508.00 C96.98,506.07 96.47,500.30 96.30,491.83 C95.96,484.13 96.30,479.12 99.36,476.81 C101.06,474.50 101.40,472.19 102.59,469.50 Z" fill="url(#mg)" filter="url(#soft)"/>
<line x1="125.50" y1="508.00" x2="125.50" y2="526.00" stroke="#c0c0c0" stroke-width="2.6"/>
<line x1="120.20" y1="506.60" x2="115.08" y2="511.00" stroke="#b0b0b0" stroke-width="1.8"/>
<line x1="129.80" y1="506.60" x2="134.92" y2="511.00" stroke="#b0b0b0" stroke-width="1.8"/>
<path d="M122.92,469.00 C123.88,467.80 126.12,467.80 127.08,469.00 C128.20,471.80 128.52,474.20 130.12,476.60 C133.00,479.00 133.32,484.20 133.00,492.20 C132.84,501.00 132.36,507.00 126.92,509.00 C125.77,509.40 124.23,509.40 123.08,509.00 C117.64,507.00 117.16,501.00 117.00,492.20 C116.68,484.20 117.00,479.00 119.88,476.60 C121.48,474.20 121.80,471.80 122.92,469.00 Z" fill="url(#mg)" filter="url(#soft)"/>
<ellipse cx="42.10" cy="497.30" rx="1.70" ry="1.30" fill="#6e2c9e" filter="url(#soft)"/>
<path d="M55,475 C56,472.5 60,472.3 62,473.5 C64,472.5 67,473 67,475.5 C67,478 65,479.8 62,479.5 C59,480 55.5,479 55,475 Z" fill="#6e2c9e" filter="url(#soft)"/>
<ellipse cx="57.50" cy="481.50" rx="1.10" ry="1.00" fill="#6e2c9e" filter="url(#soft)"/>
<path d="M54.3,491 C55,488 59,488 62,488.5 C65,487.5 68,488.5 68,491.5 C68.3,495 66.5,498.5 62.5,498 C59,498.5 55,497 54.3,494 Z" fill="#6e2c9e" filter="url(#soft)"/>
<ellipse cx="60.5" cy="492.5" rx="3.2" ry="2.8" fill="#4a3aa8" filter="url(#soft2)"/>
<path d="M76.5,475 C77,472.5 81,472.5 83,473.5 C86,472.5 88.5,473.5 88.5,476 C88.5,478.5 86,480 83,479.8 C79.5,480 76.8,478.5 76.5,475 Z" fill="#6e2c9e" filter="url(#soft)"/>
<ellipse cx="79.50" cy="481.50" rx="1.20" ry="1.20" fill="#6e2c9e" filter="url(#soft)"/>
<path d="M76.2,489 C77,486.5 81,486.3 84,487 C87,486 90.2,487.2 90.5,490 C90.6,494 89,498.5 84.5,498.6 C80.5,499 76.5,496.5 76.2,492 Z" fill="#6e2c9e" filter="url(#soft)"/>
<ellipse cx="80.5" cy="491.5" rx="3.2" ry="2.8" fill="#4a3aa8" filter="url(#soft2)"/>
<path d="M97.3,476 C98,473.5 102,473.2 105,473.8 C108,473.3 110.5,475 110.3,478 C110,481 108,482.8 105,482.6 C101.5,483 97.5,481 97.3,476 Z" fill="#6e2c9e" filter="url(#soft)"/>
<path d="M97,492 C97.5,489.5 101,489.7 104,490.2 C108,489.5 111.8,490 111.6,494 C111.8,499 110,503 104.5,502.8 C100,503 97,500 97,496 Z" fill="#6e2c9e" filter="url(#soft)"/>
<ellipse cx="103.10" cy="494.40" rx="2.60" ry="2.20" fill="#4a3aa8" filter="url(#soft)"/>
<path d="M117.8,478 C118,473.5 121,471.8 125,471.9 C129.5,471.8 132.6,474 132.6,479 C133,488 133,500 129.5,506.5 C126,509.5 121,509 118.8,505 C117.2,498 117.3,488 117.8,478 Z" fill="#6e2c9e" filter="url(#soft)"/>
<path d="M119,487 C120,485.5 123,485.7 124.5,487 C125,489.5 124,492.5 121.5,493.2 C119.5,493 118.6,490 119,487 Z" fill="#e8e8e8" filter="url(#soft)"/>
<ellipse cx="120.60" cy="497.50" rx="2.00" ry="1.80" fill="#3a58b8" filter="url(#soft)"/>
<rect x="115.30" y="467.40" width="1.60" height="45.00" fill="#6e2c9e"/>
<ellipse cx="116.00" cy="488.00" rx="1.00" ry="1.60" fill="#3ab0e0" filter="url(#soft)"/>
<line x1="145.40" y1="503.00" x2="145.40" y2="525.00" stroke="#6e2c9e" stroke-width="2.2"/>
<path d="M137.2,478 C137.5,473 141,469.8 146,469.8 C151,469.8 155,473 155.2,479 C155.5,488 154.8,498 150.5,503.5 C146,506 141,505 138.5,500 C136.8,494 136.8,486 137.2,478 Z" fill="#6e2c9e" filter="url(#soft)"/>
<ellipse cx="146.30" cy="478.00" rx="7.60" ry="7.20" fill="#3a5cc4" filter="url(#soft)"/>
<ellipse cx="141.80" cy="474.80" rx="2.60" ry="3.20" fill="#58c8e8" filter="url(#soft)"/>
<ellipse cx="150.00" cy="475.50" rx="3.60" ry="4.20" fill="#60cce0" filter="url(#soft)"/>
<ellipse cx="145.00" cy="483.00" rx="3.20" ry="1.60" fill="#50b8e0" filter="url(#soft)"/>
<ellipse cx="138.80" cy="480.50" rx="1.20" ry="2.50" fill="#48b0e0" filter="url(#soft)"/>
<ellipse cx="149.10" cy="478.30" rx="2.60" ry="2.50" fill="#f0d040" filter="url(#soft)"/>
<ellipse cx="149.10" cy="478.30" rx="1.40" ry="1.30" fill="#e03020" filter="url(#soft)"/>
<ellipse cx="142.90" cy="475.00" rx="1.20" ry="1.10" fill="#e04020" filter="url(#soft)"/>
<ellipse cx="146.00" cy="487.80" rx="7.00" ry="1.80" fill="#4838a8" filter="url(#soft)"/>
<ellipse cx="146.60" cy="496.20" rx="8.20" ry="6.60" fill="#4ac0e0" filter="url(#soft)"/>
<ellipse cx="150.60" cy="497.50" rx="3.80" ry="5.00" fill="#c4e060" filter="url(#soft)"/>
<ellipse cx="146.80" cy="499.00" rx="3.00" ry="2.80" fill="#90d8a0" filter="url(#soft)"/>
<ellipse cx="143.90" cy="491.10" rx="2.30" ry="2.00" fill="#f0c030" filter="url(#soft)"/>
<ellipse cx="143.90" cy="491.10" rx="1.20" ry="1.10" fill="#e03020" filter="url(#soft)"/>
<ellipse cx="139.40" cy="497.00" rx="1.80" ry="4.00" fill="#3a70d0" filter="url(#soft)"/>
<rect x="32" y="467.4" width="124.7" height="57.6" filter="url(#grain)" opacity="0.4"/>
</g>
<rect x="32.00" y="530.20" width="124.70" height="57.30" fill="#595959"/>
<rect x="34.00" y="530.20" width="0.70" height="57.30" fill="#636363"/>
<rect x="36.00" y="530.20" width="0.70" height="57.30" fill="#636363"/>
<rect x="39.50" y="530.20" width="0.70" height="57.30" fill="#636363"/>
<rect x="44.00" y="530.20" width="0.70" height="57.30" fill="#636363"/>
<rect x="47.00" y="530.20" width="0.70" height="57.30" fill="#636363"/>
<rect x="52.50" y="530.20" width="0.70" height="57.30" fill="#636363"/>
<rect x="55.00" y="530.20" width="0.70" height="57.30" fill="#636363"/>
<rect x="58.00" y="530.20" width="0.70" height="57.30" fill="#636363"/>
<rect x="61.50" y="530.20" width="0.70" height="57.30" fill="#636363"/>
<rect x="66.00" y="530.20" width="0.70" height="57.30" fill="#636363"/>
<rect x="69.00" y="530.20" width="0.70" height="57.30" fill="#636363"/>
<rect x="74.50" y="530.20" width="0.70" height="57.30" fill="#636363"/>
<rect x="77.00" y="530.20" width="0.70" height="57.30" fill="#636363"/>
<rect x="80.00" y="530.20" width="0.70" height="57.30" fill="#636363"/>
<rect x="84.00" y="530.20" width="0.70" height="57.30" fill="#636363"/>
<rect x="88.00" y="530.20" width="0.70" height="57.30" fill="#636363"/>
<rect x="91.00" y="530.20" width="0.70" height="57.30" fill="#636363"/>
<rect x="95.80" y="530.20" width="0.70" height="57.30" fill="#636363"/>
<rect x="98.50" y="530.20" width="0.70" height="57.30" fill="#636363"/>
<rect x="101.00" y="530.20" width="0.70" height="57.30" fill="#636363"/>
<rect x="105.00" y="530.20" width="0.70" height="57.30" fill="#636363"/>
<rect x="109.00" y="530.20" width="0.70" height="57.30" fill="#636363"/>
<rect x="112.50" y="530.20" width="0.70" height="57.30" fill="#636363"/>
<rect x="117.30" y="530.20" width="0.70" height="57.30" fill="#636363"/>
<rect x="120.00" y="530.20" width="0.70" height="57.30" fill="#636363"/>
<rect x="123.00" y="530.20" width="0.70" height="57.30" fill="#636363"/>
<rect x="126.50" y="530.20" width="0.70" height="57.30" fill="#636363"/>
<rect x="130.00" y="530.20" width="0.70" height="57.30" fill="#636363"/>
<rect x="133.50" y="530.20" width="0.70" height="57.30" fill="#636363"/>
<rect x="137.50" y="530.20" width="0.70" height="57.30" fill="#636363"/>
<rect x="140.00" y="530.20" width="0.70" height="57.30" fill="#636363"/>
<rect x="143.00" y="530.20" width="0.70" height="57.30" fill="#636363"/>
<rect x="147.00" y="530.20" width="0.70" height="57.30" fill="#636363"/>
<rect x="151.00" y="530.20" width="0.70" height="57.30" fill="#636363"/>
<rect x="154.00" y="530.20" width="0.70" height="57.30" fill="#636363"/>
<rect x="51.20" y="530.20" width="1.20" height="57.30" fill="#4a4a4a"/>
<rect x="73.80" y="530.20" width="1.20" height="57.30" fill="#4a4a4a"/>
<rect x="95.20" y="530.20" width="1.20" height="57.30" fill="#4a4a4a"/>
<rect x="116.70" y="530.20" width="1.20" height="57.30" fill="#4a4a4a"/>
<rect x="136.90" y="530.20" width="1.20" height="57.30" fill="#4a4a4a"/>
<g clip-path="url(#cp4)">
<line x1="44.00" y1="568.50" x2="42.00" y2="588.50" stroke="#c0c0c0" stroke-width="2.6"/>
<line x1="38.55" y1="567.19" x2="33.27" y2="571.42" stroke="#b0b0b0" stroke-width="1.8"/>
<line x1="48.45" y1="567.19" x2="53.73" y2="571.42" stroke="#b0b0b0" stroke-width="1.8"/>
<path d="M41.35,531.00 C42.34,529.85 44.66,529.85 45.65,531.00 C46.80,533.70 47.13,536.00 48.78,538.32 C51.75,540.62 52.08,545.63 51.75,553.33 C51.59,561.80 52.16,567.58 47.62,569.50 C45.15,569.88 41.85,569.88 39.38,569.50 C34.84,567.58 35.41,561.80 35.25,553.33 C34.92,545.63 35.25,540.62 38.22,538.32 C39.87,536.00 40.20,533.70 41.35,531.00 Z" fill="url(#mg)" filter="url(#soft)"/>
<line x1="64.20" y1="568.00" x2="64.20" y2="588.50" stroke="#c0c0c0" stroke-width="2.6"/>
<line x1="58.75" y1="566.72" x2="53.47" y2="570.90" stroke="#b0b0b0" stroke-width="1.8"/>
<line x1="68.65" y1="566.72" x2="73.93" y2="570.90" stroke="#b0b0b0" stroke-width="1.8"/>
<path d="M61.55,531.00 C62.55,529.86 64.86,529.86 65.84,531.00 C67.00,533.66 67.33,535.94 68.98,538.22 C71.95,540.50 72.28,545.44 71.95,553.04 C71.78,561.40 72.36,567.10 67.83,569.00 C65.35,569.38 62.05,569.38 59.58,569.00 C55.04,567.10 55.62,561.40 55.45,553.04 C55.12,545.44 55.45,540.50 58.42,538.22 C60.07,535.94 60.40,533.66 61.55,531.00 Z" fill="url(#mg)" filter="url(#soft)"/>
<line x1="85.00" y1="567.00" x2="83.50" y2="588.50" stroke="#c0c0c0" stroke-width="2.6"/>
<line x1="79.40" y1="565.78" x2="73.96" y2="569.85" stroke="#b0b0b0" stroke-width="1.8"/>
<line x1="89.60" y1="565.78" x2="95.04" y2="569.85" stroke="#b0b0b0" stroke-width="1.8"/>
<path d="M82.29,531.00 C83.31,529.89 85.69,529.89 86.71,531.00 C87.90,533.59 88.24,535.81 89.94,538.03 C93.00,540.25 93.34,545.06 93.00,552.46 C92.83,560.60 93.42,566.15 88.75,568.00 C86.20,568.37 82.80,568.37 80.25,568.00 C75.58,566.15 76.17,560.60 76.00,552.46 C75.66,545.06 76.00,540.25 79.06,538.03 C80.76,535.81 81.10,533.59 82.29,531.00 Z" fill="url(#mg)" filter="url(#soft)"/>
<line x1="106.30" y1="566.50" x2="106.80" y2="588.50" stroke="#c0c0c0" stroke-width="2.6"/>
<line x1="101.00" y1="565.34" x2="95.88" y2="569.30" stroke="#b0b0b0" stroke-width="1.8"/>
<line x1="110.60" y1="565.34" x2="115.72" y2="569.30" stroke="#b0b0b0" stroke-width="1.8"/>
<path d="M103.72,531.50 C104.68,530.42 106.92,530.42 107.88,531.50 C109.00,534.02 109.32,536.18 110.92,538.34 C113.80,540.50 114.12,545.18 113.80,552.38 C113.64,560.30 114.20,565.70 109.80,567.50 C107.40,567.86 104.20,567.86 101.80,567.50 C97.40,565.70 97.96,560.30 97.80,552.38 C97.48,545.18 97.80,540.50 100.68,538.34 C102.28,536.18 102.60,534.02 103.72,531.50 Z" fill="url(#mg)" filter="url(#soft)"/>
<line x1="127.00" y1="567.50" x2="128.00" y2="588.50" stroke="#c0c0c0" stroke-width="2.6"/>
<line x1="121.55" y1="566.34" x2="116.27" y2="570.30" stroke="#b0b0b0" stroke-width="1.8"/>
<line x1="131.45" y1="566.34" x2="136.73" y2="570.30" stroke="#b0b0b0" stroke-width="1.8"/>
<path d="M124.36,532.50 C125.34,531.42 127.66,531.42 128.65,532.50 C129.80,535.02 130.13,537.18 131.78,539.34 C134.75,541.50 135.08,546.18 134.75,553.38 C134.59,561.30 135.16,566.70 130.62,568.50 C128.15,568.86 124.85,568.86 122.38,568.50 C117.84,566.70 118.42,561.30 118.25,553.38 C117.92,546.18 118.25,541.50 121.22,539.34 C122.87,537.18 123.20,535.02 124.36,532.50 Z" fill="url(#mg)" filter="url(#soft)"/>
<path d="M98.8,559 C99,557.5 101,557 102.5,557.6 C104,558.5 104.2,561 103.5,563 C102.5,565.5 100,565.8 99.3,564 C98.8,562.5 98.6,560.5 98.8,559 Z" fill="#6e2c9e" filter="url(#soft)"/>
<ellipse cx="121.50" cy="538.50" rx="1.30" ry="1.20" fill="#6e2c9e" filter="url(#soft)"/>
<ellipse cx="125.50" cy="539.00" rx="1.50" ry="1.30" fill="#6e2c9e" filter="url(#soft)"/>
<ellipse cx="124.00" cy="542.50" rx="1.60" ry="1.30" fill="#6e2c9e" filter="url(#soft)"/>
<ellipse cx="128.50" cy="541.50" rx="1.40" ry="1.20" fill="#6e2c9e" filter="url(#soft)"/>
<ellipse cx="122.00" cy="545.50" rx="1.00" ry="1.00" fill="#6e2c9e" filter="url(#soft)"/>
<path d="M128.2,548 C129.5,546.5 133,546.8 133.8,549.5 C134.2,553 134.2,557 133.8,559.5 L128.5,559.5 C128,556 127.8,551 128.2,548 Z" fill="#6e2c9e" filter="url(#soft)"/>
<path d="M119.4,561 C119.8,558.8 124,558.5 128,558.8 C132,558.3 134,559.5 133.9,562 C133.8,565 132,568.5 127,568.6 C122,568.8 119.5,566 119.4,563 Z" fill="#6e2c9e" filter="url(#soft)"/>
<line x1="147.50" y1="568.00" x2="147.50" y2="588.00" stroke="#6e2c9e" stroke-width="2.2"/>
<path d="M135.8,545 C136,539 139.5,536 143,536.5 C146,535 150,536 152.5,538 C155,541 155.3,548 155.2,556 C155.2,562 153.5,567.5 148,569.3 C142,569.8 137,569 135.8,565 C135.3,558 135.4,551 135.8,545 Z" fill="#6e2c9e" filter="url(#soft)"/>
<ellipse cx="147.50" cy="561.00" rx="7.50" ry="6.50" fill="#5a42b0" filter="url(#soft)"/>
<ellipse cx="149.00" cy="563.00" rx="4.50" ry="4.00" fill="#4c48b8" filter="url(#soft)"/>
<ellipse cx="141.00" cy="540.00" rx="0.80" ry="0.70" fill="#c8b8d8" filter="url(#soft)"/>
<ellipse cx="143.50" cy="545.00" rx="0.80" ry="0.70" fill="#c8b8d8" filter="url(#soft)"/>
<ellipse cx="147.00" cy="548.00" rx="0.80" ry="0.70" fill="#c8b8d8" filter="url(#soft)"/>
<ellipse cx="150.50" cy="543.50" rx="0.80" ry="0.70" fill="#c8b8d8" filter="url(#soft)"/>
<ellipse cx="139.50" cy="550.00" rx="0.80" ry="0.70" fill="#c8b8d8" filter="url(#soft)"/>
<ellipse cx="145.00" cy="552.00" rx="0.80" ry="0.70" fill="#c8b8d8" filter="url(#soft)"/>
<ellipse cx="148.50" cy="539.50" rx="0.80" ry="0.70" fill="#c8b8d8" filter="url(#soft)"/>
<ellipse cx="152.00" cy="548.00" rx="0.80" ry="0.70" fill="#c8b8d8" filter="url(#soft)"/>
<ellipse cx="140.30" cy="563.00" rx="3.60" ry="6.30" fill="#3a78c8" filter="url(#soft)"/>
<ellipse cx="140.30" cy="563.50" rx="2.60" ry="5.50" fill="#50c8d8" filter="url(#soft)"/>
<ellipse cx="140.20" cy="563.00" rx="1.40" ry="4.50" fill="#f0c030" filter="url(#soft)"/>
<ellipse cx="140.10" cy="562.50" rx="0.80" ry="3.80" fill="#e04020" filter="url(#soft)"/>
<ellipse cx="141.50" cy="568.00" rx="3.50" ry="1.20" fill="#50c0e0" filter="url(#soft)"/>
<rect x="32" y="530.2" width="124.7" height="57.3" filter="url(#grain)" opacity="0.4"/>
</g>
<text x="17.30" y="596.01" font-size="6.8" textLength="11.50" lengthAdjust="spacingAndGlyphs">Day</text>
<text x="42.20" y="596.01" font-size="6.8" text-anchor="middle">17</text>
<text x="63.20" y="596.01" font-size="6.8" text-anchor="middle">23</text>
<text x="83.80" y="596.01" font-size="6.8" text-anchor="middle">27</text>
<text x="104.60" y="596.01" font-size="6.8" text-anchor="middle">34</text>
<text x="125.50" y="596.01" font-size="6.8" text-anchor="middle">45</text>
<text x="146.10" y="596.01" font-size="6.8" text-anchor="middle">56</text>
<text x="26.91" y="525.00" font-size="6.8" textLength="36.50" lengthAdjust="spacingAndGlyphs" transform="rotate(-90 26.91 525.00)">shControl</text>
<text x="26.91" y="584.60" font-size="6.8" textLength="35.40" lengthAdjust="spacingAndGlyphs" transform="rotate(-90 26.91 584.60)">shCBFA2T3</text>
<rect x="159.6" y="359.5" width="3.8" height="82.3" fill="url(#cb)" stroke="#231f20" stroke-width="0.6"/>
<line x1="163.40" y1="359.50" x2="165.60" y2="359.50" stroke="#231f20" stroke-width="0.5"/>
<line x1="163.40" y1="362.79" x2="164.60" y2="362.79" stroke="#231f20" stroke-width="0.5"/>
<line x1="163.40" y1="366.08" x2="164.60" y2="366.08" stroke="#231f20" stroke-width="0.5"/>
<line x1="163.40" y1="369.38" x2="164.60" y2="369.38" stroke="#231f20" stroke-width="0.5"/>
<line x1="163.40" y1="372.67" x2="164.60" y2="372.67" stroke="#231f20" stroke-width="0.5"/>
<line x1="163.40" y1="375.96" x2="165.60" y2="375.96" stroke="#231f20" stroke-width="0.5"/>
<line x1="163.40" y1="379.25" x2="164.60" y2="379.25" stroke="#231f20" stroke-width="0.5"/>
<line x1="163.40" y1="382.54" x2="164.60" y2="382.54" stroke="#231f20" stroke-width="0.5"/>
<line x1="163.40" y1="385.84" x2="164.60" y2="385.84" stroke="#231f20" stroke-width="0.5"/>
<line x1="163.40" y1="389.13" x2="164.60" y2="389.13" stroke="#231f20" stroke-width="0.5"/>
<line x1="163.40" y1="392.42" x2="165.60" y2="392.42" stroke="#231f20" stroke-width="0.5"/>
<line x1="163.40" y1="395.71" x2="164.60" y2="395.71" stroke="#231f20" stroke-width="0.5"/>
<line x1="163.40" y1="399.00" x2="164.60" y2="399.00" stroke="#231f20" stroke-width="0.5"/>
<line x1="163.40" y1="402.30" x2="164.60" y2="402.30" stroke="#231f20" stroke-width="0.5"/>
<line x1="163.40" y1="405.59" x2="164.60" y2="405.59" stroke="#231f20" stroke-width="0.5"/>
<line x1="163.40" y1="408.88" x2="165.60" y2="408.88" stroke="#231f20" stroke-width="0.5"/>
<line x1="163.40" y1="412.17" x2="164.60" y2="412.17" stroke="#231f20" stroke-width="0.5"/>
<line x1="163.40" y1="415.46" x2="164.60" y2="415.46" stroke="#231f20" stroke-width="0.5"/>
<line x1="163.40" y1="418.76" x2="164.60" y2="418.76" stroke="#231f20" stroke-width="0.5"/>
<line x1="163.40" y1="422.05" x2="164.60" y2="422.05" stroke="#231f20" stroke-width="0.5"/>
<line x1="163.40" y1="425.34" x2="165.60" y2="425.34" stroke="#231f20" stroke-width="0.5"/>
<line x1="163.40" y1="428.63" x2="164.60" y2="428.63" stroke="#231f20" stroke-width="0.5"/>
<line x1="163.40" y1="431.92" x2="164.60" y2="431.92" stroke="#231f20" stroke-width="0.5"/>
<line x1="163.40" y1="435.22" x2="164.60" y2="435.22" stroke="#231f20" stroke-width="0.5"/>
<line x1="163.40" y1="438.51" x2="164.60" y2="438.51" stroke="#231f20" stroke-width="0.5"/>
<line x1="163.40" y1="441.80" x2="165.60" y2="441.80" stroke="#231f20" stroke-width="0.5"/>
<text x="169.80" y="363.58" font-size="6.4" textLength="8.70" lengthAdjust="spacingAndGlyphs">1.0</text>
<text x="169.80" y="379.88" font-size="6.4" textLength="8.70" lengthAdjust="spacingAndGlyphs">0.8</text>
<text x="169.80" y="395.68" font-size="6.4" textLength="8.70" lengthAdjust="spacingAndGlyphs">0.6</text>
<text x="169.80" y="411.98" font-size="6.4" textLength="8.70" lengthAdjust="spacingAndGlyphs">0.4</text>
<text x="169.80" y="428.18" font-size="6.4" textLength="8.70" lengthAdjust="spacingAndGlyphs">0.2</text>
<text x="157.5" y="448.2" font-size="5.6">x10<tspan font-size="3.8" dy="-2.4">7</tspan></text>
<rect x="159.6" y="479.5" width="4.2" height="82.5" fill="url(#cb)" stroke="#231f20" stroke-width="0.6"/>
<line x1="163.80" y1="479.50" x2="166.00" y2="479.50" stroke="#231f20" stroke-width="0.5"/>
<line x1="163.80" y1="482.00" x2="165.00" y2="482.00" stroke="#231f20" stroke-width="0.5"/>
<line x1="163.80" y1="484.50" x2="165.00" y2="484.50" stroke="#231f20" stroke-width="0.5"/>
<line x1="163.80" y1="487.00" x2="165.00" y2="487.00" stroke="#231f20" stroke-width="0.5"/>
<line x1="163.80" y1="489.50" x2="166.00" y2="489.50" stroke="#231f20" stroke-width="0.5"/>
<line x1="163.80" y1="492.00" x2="165.00" y2="492.00" stroke="#231f20" stroke-width="0.5"/>
<line x1="163.80" y1="494.50" x2="165.00" y2="494.50" stroke="#231f20" stroke-width="0.5"/>
<line x1="163.80" y1="497.00" x2="165.00" y2="497.00" stroke="#231f20" stroke-width="0.5"/>
<line x1="163.80" y1="499.50" x2="166.00" y2="499.50" stroke="#231f20" stroke-width="0.5"/>
<line x1="163.80" y1="502.00" x2="165.00" y2="502.00" stroke="#231f20" stroke-width="0.5"/>
<line x1="163.80" y1="504.50" x2="165.00" y2="504.50" stroke="#231f20" stroke-width="0.5"/>
<line x1="163.80" y1="507.00" x2="165.00" y2="507.00" stroke="#231f20" stroke-width="0.5"/>
<line x1="163.80" y1="509.50" x2="166.00" y2="509.50" stroke="#231f20" stroke-width="0.5"/>
<line x1="163.80" y1="512.00" x2="165.00" y2="512.00" stroke="#231f20" stroke-width="0.5"/>
<line x1="163.80" y1="514.50" x2="165.00" y2="514.50" stroke="#231f20" stroke-width="0.5"/>
<line x1="163.80" y1="517.00" x2="165.00" y2="517.00" stroke="#231f20" stroke-width="0.5"/>
<line x1="163.80" y1="519.50" x2="166.00" y2="519.50" stroke="#231f20" stroke-width="0.5"/>
<line x1="163.80" y1="522.00" x2="165.00" y2="522.00" stroke="#231f20" stroke-width="0.5"/>
<line x1="163.80" y1="524.50" x2="165.00" y2="524.50" stroke="#231f20" stroke-width="0.5"/>
<line x1="163.80" y1="527.00" x2="165.00" y2="527.00" stroke="#231f20" stroke-width="0.5"/>
<line x1="163.80" y1="529.50" x2="166.00" y2="529.50" stroke="#231f20" stroke-width="0.5"/>
<line x1="163.80" y1="532.00" x2="165.00" y2="532.00" stroke="#231f20" stroke-width="0.5"/>
<line x1="163.80" y1="534.50" x2="165.00" y2="534.50" stroke="#231f20" stroke-width="0.5"/>
<line x1="163.80" y1="537.00" x2="165.00" y2="537.00" stroke="#231f20" stroke-width="0.5"/>
<line x1="163.80" y1="539.50" x2="166.00" y2="539.50" stroke="#231f20" stroke-width="0.5"/>
<line x1="163.80" y1="542.00" x2="165.00" y2="542.00" stroke="#231f20" stroke-width="0.5"/>
<line x1="163.80" y1="544.50" x2="165.00" y2="544.50" stroke="#231f20" stroke-width="0.5"/>
<line x1="163.80" y1="547.00" x2="165.00" y2="547.00" stroke="#231f20" stroke-width="0.5"/>
<line x1="163.80" y1="549.50" x2="166.00" y2="549.50" stroke="#231f20" stroke-width="0.5"/>
<line x1="163.80" y1="552.00" x2="165.00" y2="552.00" stroke="#231f20" stroke-width="0.5"/>
<line x1="163.80" y1="554.50" x2="165.00" y2="554.50" stroke="#231f20" stroke-width="0.5"/>
<line x1="163.80" y1="557.00" x2="165.00" y2="557.00" stroke="#231f20" stroke-width="0.5"/>
<line x1="163.80" y1="559.50" x2="166.00" y2="559.50" stroke="#231f20" stroke-width="0.5"/>
<line x1="163.80" y1="562.00" x2="165.00" y2="562.00" stroke="#231f20" stroke-width="0.5"/>
<text x="169.40" y="492.98" font-size="6.4" textLength="8.40" lengthAdjust="spacingAndGlyphs">3.0</text>
<text x="169.40" y="517.28" font-size="6.4" textLength="8.40" lengthAdjust="spacingAndGlyphs">2.0</text>
<text x="169.40" y="540.78" font-size="6.4" textLength="8.40" lengthAdjust="spacingAndGlyphs">1.0</text>
<text x="157.5" y="571.5" font-size="5.6">x10<tspan font-size="3.8" dy="-2.4">8</tspan></text>
<line x1="210.40" y1="340.90" x2="210.40" y2="437.40" stroke="#231f20" stroke-width="1.1"/>
<line x1="210.40" y1="437.40" x2="295.50" y2="437.40" stroke="#231f20" stroke-width="1.1"/>
<line x1="207.80" y1="360.80" x2="210.40" y2="360.80" stroke="#231f20" stroke-width="0.9"/>
<text x="206.40" y="362.98" font-size="6.4" text-anchor="end">6</text>
<line x1="207.80" y1="382.80" x2="210.40" y2="382.80" stroke="#231f20" stroke-width="0.9"/>
<text x="206.40" y="384.98" font-size="6.4" text-anchor="end">4</text>
<line x1="207.80" y1="404.90" x2="210.40" y2="404.90" stroke="#231f20" stroke-width="0.9"/>
<text x="206.40" y="407.08" font-size="6.4" text-anchor="end">2</text>
<line x1="207.80" y1="427.20" x2="210.40" y2="427.20" stroke="#231f20" stroke-width="0.9"/>
<text x="206.40" y="429.38" font-size="6.4" text-anchor="end">0</text>
<line x1="218.40" y1="437.40" x2="218.40" y2="440.00" stroke="#231f20" stroke-width="0.9"/>
<text x="218.40" y="449.80" font-size="6.2" text-anchor="middle" textLength="7.00" lengthAdjust="spacingAndGlyphs">19</text>
<line x1="232.60" y1="437.40" x2="232.60" y2="440.00" stroke="#231f20" stroke-width="0.9"/>
<text x="232.60" y="449.80" font-size="6.2" text-anchor="middle" textLength="7.00" lengthAdjust="spacingAndGlyphs">22</text>
<line x1="246.90" y1="437.40" x2="246.90" y2="440.00" stroke="#231f20" stroke-width="0.9"/>
<text x="246.90" y="449.80" font-size="6.2" text-anchor="middle" textLength="7.00" lengthAdjust="spacingAndGlyphs">28</text>
<line x1="260.60" y1="437.40" x2="260.60" y2="440.00" stroke="#231f20" stroke-width="0.9"/>
<text x="260.60" y="449.80" font-size="6.2" text-anchor="middle" textLength="7.00" lengthAdjust="spacingAndGlyphs">35</text>
<line x1="274.40" y1="437.40" x2="274.40" y2="440.00" stroke="#231f20" stroke-width="0.9"/>
<text x="274.40" y="449.80" font-size="6.2" text-anchor="middle" textLength="7.00" lengthAdjust="spacingAndGlyphs">42</text>
<line x1="288.40" y1="437.40" x2="288.40" y2="440.00" stroke="#231f20" stroke-width="0.9"/>
<text x="288.40" y="449.80" font-size="6.2" text-anchor="middle" textLength="7.00" lengthAdjust="spacingAndGlyphs">48</text>
<polyline points="218.40,426.70 232.60,426.20 246.90,425.00 260.60,424.30 274.40,423.20 288.40,420.80" fill="none" stroke="#b0283c" stroke-width="1.0"/>
<polyline points="218.40,425.00 232.60,426.00 246.90,424.30 260.60,420.80 274.40,408.20 288.40,388.80" fill="none" stroke="#3e5e98" stroke-width="1.0"/>
<line x1="260.60" y1="419.10" x2="260.60" y2="422.40" stroke="#231f20" stroke-width="0.8"/>
<line x1="259.30" y1="419.10" x2="261.90" y2="419.10" stroke="#231f20" stroke-width="0.8"/>
<line x1="259.30" y1="422.40" x2="261.90" y2="422.40" stroke="#231f20" stroke-width="0.8"/>
<line x1="274.40" y1="399.40" x2="274.40" y2="417.20" stroke="#231f20" stroke-width="0.8"/>
<line x1="273.10" y1="399.40" x2="275.70" y2="399.40" stroke="#231f20" stroke-width="0.8"/>
<line x1="273.10" y1="417.20" x2="275.70" y2="417.20" stroke="#231f20" stroke-width="0.8"/>
<line x1="288.40" y1="376.40" x2="288.40" y2="399.90" stroke="#231f20" stroke-width="0.8"/>
<line x1="287.10" y1="376.40" x2="289.70" y2="376.40" stroke="#231f20" stroke-width="0.8"/>
<line x1="287.10" y1="399.90" x2="289.70" y2="399.90" stroke="#231f20" stroke-width="0.8"/>
<line x1="288.40" y1="417.20" x2="288.40" y2="423.60" stroke="#231f20" stroke-width="0.8"/>
<line x1="287.10" y1="417.20" x2="289.70" y2="417.20" stroke="#231f20" stroke-width="0.8"/>
<line x1="287.10" y1="423.60" x2="289.70" y2="423.60" stroke="#231f20" stroke-width="0.8"/>
<circle cx="218.40" cy="425.00" r="1.05" fill="#231f20"/>
<circle cx="232.60" cy="426.00" r="1.05" fill="#231f20"/>
<circle cx="246.90" cy="424.30" r="1.05" fill="#231f20"/>
<circle cx="260.60" cy="420.80" r="1.05" fill="#231f20"/>
<circle cx="274.40" cy="408.20" r="1.05" fill="#231f20"/>
<circle cx="288.40" cy="388.80" r="1.05" fill="#231f20"/>
<circle cx="218.40" cy="426.70" r="1.05" fill="#231f20"/>
<circle cx="232.60" cy="426.20" r="1.05" fill="#231f20"/>
<circle cx="246.90" cy="425.00" r="1.05" fill="#231f20"/>
<circle cx="260.60" cy="424.30" r="1.05" fill="#231f20"/>
<circle cx="274.40" cy="423.20" r="1.05" fill="#231f20"/>
<circle cx="288.40" cy="420.80" r="1.05" fill="#231f20"/>
<text x="218.50" y="423.80" font-size="5.0" text-anchor="middle" textLength="5.70" lengthAdjust="spacingAndGlyphs">***</text>
<text x="288.40" y="375.20" font-size="5.0" text-anchor="middle" textLength="1.90" lengthAdjust="spacingAndGlyphs">*</text>
<text x="252.50" y="337.71" font-size="6.8" text-anchor="middle" textLength="25.50" lengthAdjust="spacingAndGlyphs">Kasumi-1</text>
<text x="268.20" y="432.90" font-size="5.6" textLength="24.40" lengthAdjust="spacingAndGlyphs">p=0.00370</text>
<text x="252.30" y="462.96" font-size="9.0" text-anchor="middle" textLength="18.00" lengthAdjust="spacingAndGlyphs">Days</text>
<line x1="252.30" y1="346.60" x2="260.60" y2="346.60" stroke="#3e5e98" stroke-width="1.0"/>
<rect x="254.70" y="344.90" width="3.50" height="3.40" fill="#3e5e98"/>
<line x1="252.30" y1="354.40" x2="260.60" y2="354.40" stroke="#b0283c" stroke-width="1.0"/>
<rect x="254.70" y="352.70" width="3.50" height="3.40" fill="#b0283c"/>
<text x="263.80" y="348.50" font-size="5.6" textLength="16.50" lengthAdjust="spacingAndGlyphs">shControl</text>
<text x="263.80" y="356.30" font-size="5.6" textLength="24.50" lengthAdjust="spacingAndGlyphs">shCBFA2T3</text>
<line x1="235.70" y1="361.50" x2="235.70" y2="401.10" stroke="#231f20" stroke-width="1.0"/>
<line x1="235.70" y1="401.10" x2="254.70" y2="401.10" stroke="#231f20" stroke-width="1.0"/>
<line x1="233.30" y1="363.90" x2="235.70" y2="363.90" stroke="#231f20" stroke-width="0.8"/>
<text x="231.90" y="366.01" font-size="6.2" text-anchor="end">1</text>
<line x1="233.30" y1="401.10" x2="235.70" y2="401.10" stroke="#231f20" stroke-width="0.8"/>
<text x="231.90" y="403.21" font-size="6.2" text-anchor="end">0</text>
<rect x="238.80" y="366.20" width="4.80" height="34.90" fill="#3e5e98"/>
<line x1="240.00" y1="365.70" x2="242.40" y2="365.70" stroke="#111" stroke-width="1.0"/>
<rect x="246.40" y="393.50" width="4.70" height="7.60" fill="#b0283c"/>
<line x1="247.55" y1="393.00" x2="249.95" y2="393.00" stroke="#111" stroke-width="1.0"/>
<text x="248.75" y="391.80" font-size="5.0" text-anchor="middle" textLength="6.00" lengthAdjust="spacingAndGlyphs">***</text>
<text x="221.43" y="411.30" font-size="9.2" textLength="59.30" lengthAdjust="spacingAndGlyphs" transform="rotate(-90 221.43 411.30)">CBFA2T3 (X10<tspan font-size="5.6" dy="-3.6">−3</tspan><tspan dy="3.6">)</tspan></text>
<text x="195.79" y="450.40" font-size="8.8" textLength="123.30" lengthAdjust="spacingAndGlyphs" transform="rotate(-90 195.79 450.40)">Total flux (X 10 million photons/s)</text>
<line x1="209.20" y1="476.90" x2="209.20" y2="577.60" stroke="#231f20" stroke-width="1.1"/>
<line x1="209.20" y1="577.60" x2="291.50" y2="577.60" stroke="#231f20" stroke-width="1.1"/>
<line x1="206.60" y1="498.70" x2="209.20" y2="498.70" stroke="#231f20" stroke-width="0.9"/>
<text x="205.20" y="500.88" font-size="6.4" text-anchor="end">20</text>
<line x1="206.60" y1="515.50" x2="209.20" y2="515.50" stroke="#231f20" stroke-width="0.9"/>
<text x="205.20" y="517.68" font-size="6.4" text-anchor="end">15</text>
<line x1="206.60" y1="532.10" x2="209.20" y2="532.10" stroke="#231f20" stroke-width="0.9"/>
<text x="205.20" y="534.28" font-size="6.4" text-anchor="end">10</text>
<line x1="206.60" y1="549.20" x2="209.20" y2="549.20" stroke="#231f20" stroke-width="0.9"/>
<text x="205.20" y="551.38" font-size="6.4" text-anchor="end">5</text>
<line x1="206.60" y1="565.80" x2="209.20" y2="565.80" stroke="#231f20" stroke-width="0.9"/>
<text x="205.20" y="567.98" font-size="6.4" text-anchor="end">0</text>
<line x1="218.00" y1="577.60" x2="218.00" y2="580.20" stroke="#231f20" stroke-width="0.9"/>
<text x="218.00" y="590.00" font-size="6.2" text-anchor="middle" textLength="7.00" lengthAdjust="spacingAndGlyphs">17</text>
<line x1="231.50" y1="577.60" x2="231.50" y2="580.20" stroke="#231f20" stroke-width="0.9"/>
<text x="231.50" y="590.00" font-size="6.2" text-anchor="middle" textLength="7.00" lengthAdjust="spacingAndGlyphs">23</text>
<line x1="245.90" y1="577.60" x2="245.90" y2="580.20" stroke="#231f20" stroke-width="0.9"/>
<text x="245.90" y="590.00" font-size="6.2" text-anchor="middle" textLength="7.00" lengthAdjust="spacingAndGlyphs">27</text>
<line x1="259.90" y1="577.60" x2="259.90" y2="580.20" stroke="#231f20" stroke-width="0.9"/>
<text x="259.90" y="590.00" font-size="6.2" text-anchor="middle" textLength="7.00" lengthAdjust="spacingAndGlyphs">34</text>
<line x1="274.40" y1="577.60" x2="274.40" y2="580.20" stroke="#231f20" stroke-width="0.9"/>
<text x="274.40" y="590.00" font-size="6.2" text-anchor="middle" textLength="7.00" lengthAdjust="spacingAndGlyphs">45</text>
<line x1="288.40" y1="577.60" x2="288.40" y2="580.20" stroke="#231f20" stroke-width="0.9"/>
<text x="288.40" y="590.00" font-size="6.2" text-anchor="middle" textLength="7.00" lengthAdjust="spacingAndGlyphs">56</text>
<polyline points="218.00,565.80 231.50,565.80 245.90,565.30 259.90,565.00 274.40,564.60 288.40,554.40" fill="none" stroke="#b0283c" stroke-width="1.0"/>
<polyline points="218.00,565.80 231.50,565.10 245.90,564.60 259.90,562.90 274.40,559.10 288.40,514.80" fill="none" stroke="#3e5e98" stroke-width="1.0"/>
<line x1="231.50" y1="564.20" x2="231.50" y2="566.00" stroke="#231f20" stroke-width="0.8"/>
<line x1="230.20" y1="564.20" x2="232.80" y2="564.20" stroke="#231f20" stroke-width="0.8"/>
<line x1="230.20" y1="566.00" x2="232.80" y2="566.00" stroke="#231f20" stroke-width="0.8"/>
<line x1="245.90" y1="563.60" x2="245.90" y2="565.60" stroke="#231f20" stroke-width="0.8"/>
<line x1="244.60" y1="563.60" x2="247.20" y2="563.60" stroke="#231f20" stroke-width="0.8"/>
<line x1="244.60" y1="565.60" x2="247.20" y2="565.60" stroke="#231f20" stroke-width="0.8"/>
<line x1="259.90" y1="561.60" x2="259.90" y2="564.20" stroke="#231f20" stroke-width="0.8"/>
<line x1="258.60" y1="561.60" x2="261.20" y2="561.60" stroke="#231f20" stroke-width="0.8"/>
<line x1="258.60" y1="564.20" x2="261.20" y2="564.20" stroke="#231f20" stroke-width="0.8"/>
<line x1="274.40" y1="556.30" x2="274.40" y2="559.90" stroke="#231f20" stroke-width="0.8"/>
<line x1="273.10" y1="556.30" x2="275.70" y2="556.30" stroke="#231f20" stroke-width="0.8"/>
<line x1="273.10" y1="559.90" x2="275.70" y2="559.90" stroke="#231f20" stroke-width="0.8"/>
<line x1="288.40" y1="502.50" x2="288.40" y2="527.10" stroke="#231f20" stroke-width="0.8"/>
<line x1="287.10" y1="502.50" x2="289.70" y2="502.50" stroke="#231f20" stroke-width="0.8"/>
<line x1="287.10" y1="527.10" x2="289.70" y2="527.10" stroke="#231f20" stroke-width="0.8"/>
<line x1="288.40" y1="547.50" x2="288.40" y2="560.60" stroke="#231f20" stroke-width="0.8"/>
<line x1="287.10" y1="547.50" x2="289.70" y2="547.50" stroke="#231f20" stroke-width="0.8"/>
<line x1="287.10" y1="560.60" x2="289.70" y2="560.60" stroke="#231f20" stroke-width="0.8"/>
<circle cx="218.00" cy="565.80" r="1.05" fill="#231f20"/>
<circle cx="231.50" cy="565.10" r="1.05" fill="#231f20"/>
<circle cx="245.90" cy="564.60" r="1.05" fill="#231f20"/>
<circle cx="259.90" cy="562.90" r="1.05" fill="#231f20"/>
<circle cx="274.40" cy="559.10" r="1.05" fill="#231f20"/>
<circle cx="288.40" cy="514.80" r="1.05" fill="#231f20"/>
<circle cx="218.00" cy="565.80" r="1.05" fill="#231f20"/>
<circle cx="231.50" cy="565.80" r="1.05" fill="#231f20"/>
<circle cx="245.90" cy="565.30" r="1.05" fill="#231f20"/>
<circle cx="259.90" cy="565.00" r="1.05" fill="#231f20"/>
<circle cx="274.40" cy="564.60" r="1.05" fill="#231f20"/>
<circle cx="288.40" cy="554.40" r="1.05" fill="#231f20"/>
<text x="231.50" y="563.60" font-size="5.0" text-anchor="middle" textLength="3.80" lengthAdjust="spacingAndGlyphs">**</text>
<text x="245.90" y="563.60" font-size="5.0" text-anchor="middle" textLength="1.90" lengthAdjust="spacingAndGlyphs">*</text>
<text x="259.90" y="561.70" font-size="5.0" text-anchor="middle" textLength="3.80" lengthAdjust="spacingAndGlyphs">**</text>
<text x="274.40" y="556.40" font-size="5.0" text-anchor="middle" textLength="3.80" lengthAdjust="spacingAndGlyphs">**</text>
<text x="288.40" y="501.20" font-size="5.0" text-anchor="middle" textLength="1.90" lengthAdjust="spacingAndGlyphs">*</text>
<text x="252.50" y="473.21" font-size="6.8" text-anchor="middle" textLength="23.00" lengthAdjust="spacingAndGlyphs">SKNO-1</text>
<text x="264.20" y="571.20" font-size="5.6" textLength="27.30" lengthAdjust="spacingAndGlyphs">p=0.000228</text>
<text x="252.30" y="602.06" font-size="9.0" text-anchor="middle" textLength="18.00" lengthAdjust="spacingAndGlyphs">Days</text>
<line x1="251.10" y1="482.10" x2="259.40" y2="482.10" stroke="#3e5e98" stroke-width="1.0"/>
<rect x="253.50" y="480.40" width="3.50" height="3.40" fill="#3e5e98"/>
<line x1="251.10" y1="489.90" x2="259.40" y2="489.90" stroke="#b0283c" stroke-width="1.0"/>
<rect x="253.50" y="488.20" width="3.50" height="3.40" fill="#b0283c"/>
<text x="262.60" y="484.00" font-size="5.6" textLength="16.50" lengthAdjust="spacingAndGlyphs">shControl</text>
<text x="262.60" y="491.80" font-size="5.6" textLength="24.50" lengthAdjust="spacingAndGlyphs">shCBFA2T3</text>
<line x1="242.10" y1="495.80" x2="242.10" y2="538.50" stroke="#231f20" stroke-width="1.0"/>
<line x1="242.10" y1="538.50" x2="259.40" y2="538.50" stroke="#231f20" stroke-width="1.0"/>
<line x1="239.70" y1="505.30" x2="242.10" y2="505.30" stroke="#231f20" stroke-width="0.8"/>
<text x="238.30" y="507.41" font-size="6.2" text-anchor="end">0.2</text>
<line x1="239.70" y1="521.90" x2="242.10" y2="521.90" stroke="#231f20" stroke-width="0.8"/>
<text x="238.30" y="524.01" font-size="6.2" text-anchor="end">0.1</text>
<line x1="239.70" y1="538.00" x2="242.10" y2="538.00" stroke="#231f20" stroke-width="0.8"/>
<text x="238.30" y="540.11" font-size="6.2" text-anchor="end">0</text>
<rect x="244.70" y="504.10" width="4.50" height="34.40" fill="#3e5e98"/>
<line x1="245.75" y1="503.60" x2="248.15" y2="503.60" stroke="#111" stroke-width="1.0"/>
<rect x="251.90" y="533.30" width="4.50" height="5.20" fill="#b0283c"/>
<line x1="252.95" y1="532.80" x2="255.35" y2="532.80" stroke="#111" stroke-width="1.0"/>
<text x="254.15" y="530.40" font-size="5.0" text-anchor="middle" textLength="6.00" lengthAdjust="spacingAndGlyphs">***</text>
<text x="221.43" y="546.80" font-size="9.2" textLength="59.30" lengthAdjust="spacingAndGlyphs" transform="rotate(-90 221.43 546.80)">CBFA2T3 (X10<tspan font-size="5.6" dy="-3.6">−3</tspan><tspan dy="3.6">)</tspan></text>
<text x="190.69" y="587.10" font-size="8.8" textLength="121.10" lengthAdjust="spacingAndGlyphs" transform="rotate(-90 190.69 587.10)">Total flux (X10 million photons/s)</text>
<text x="311.25" y="393.70" font-size="12" textLength="6.10" lengthAdjust="spacingAndGlyphs">F</text>
<text x="386.20" y="393.25" font-size="6.9" text-anchor="middle" textLength="44.50" lengthAdjust="spacingAndGlyphs">Clonal Selection</text>
<line x1="386.60" y1="396.20" x2="386.60" y2="404.90" stroke="#231f20" stroke-width="1.05"/>
<polygon points="386.60,409.00 384.30,404.40 386.60,405.20 388.90,404.40" fill="#231f20"/>
<text x="346.00" y="417.55" font-size="6.9" text-anchor="middle" textLength="46.50" lengthAdjust="spacingAndGlyphs">RUNX1-RUNX1T1</text>
<text x="346.00" y="426.05" font-size="6.9" text-anchor="middle" textLength="36.00" lengthAdjust="spacingAndGlyphs">(t(8;21) AML)</text>
<text x="386.50" y="421.75" font-size="6.9" text-anchor="middle" textLength="15.40" lengthAdjust="spacingAndGlyphs">GCN5</text>
<text x="406.30" y="421.75" font-size="6.9" textLength="45.00" lengthAdjust="spacingAndGlyphs">RA (t(15;17) APL)</text>
<line x1="386.60" y1="423.70" x2="386.60" y2="431.50" stroke="#231f20" stroke-width="1.05"/>
<polygon points="386.60,435.60 384.30,431.00 386.60,431.80 388.90,431.00" fill="#231f20"/>
<path d="M367.5,424.5 C369,430.5 374,432.5 381.0,433.6" fill="none" stroke="#231f20" stroke-width="0.9"/>
<line x1="381.90" y1="430.20" x2="381.90" y2="437.40" stroke="#231f20" stroke-width="1.0"/>
<line x1="403.10" y1="424.70" x2="395.90" y2="435.00" stroke="#231f20" stroke-width="0.9"/>
<line x1="392.80" y1="433.00" x2="398.60" y2="437.20" stroke="#231f20" stroke-width="1.0"/>
<text x="386.30" y="448.15" font-size="6.9" text-anchor="middle" textLength="63.30" lengthAdjust="spacingAndGlyphs">CBFA2T3 (NM_005187)</text>
<text x="453.30" y="445.15" font-size="6.9" text-anchor="middle" textLength="39.00" lengthAdjust="spacingAndGlyphs">differentiation</text>
<text x="446.80" y="463.35" font-size="6.9" text-anchor="middle" textLength="23.00" lengthAdjust="spacingAndGlyphs">non-LSC</text>
<text x="347.70" y="478.35" font-size="6.9" text-anchor="middle" textLength="21.00" lengthAdjust="spacingAndGlyphs">pre-LSC</text>
<text x="386.30" y="478.35" font-size="6.9" text-anchor="middle" textLength="10.00" lengthAdjust="spacingAndGlyphs">LSC</text>
<text x="452.80" y="492.15" font-size="6.9" text-anchor="middle" textLength="37.00" lengthAdjust="spacingAndGlyphs">growth arrest</text>
<text x="386.30" y="500.25" font-size="6.9" text-anchor="middle" textLength="48.00" lengthAdjust="spacingAndGlyphs">Clonal expansion</text>
<text x="386.50" y="523.35" font-size="6.9" text-anchor="middle" textLength="21.00" lengthAdjust="spacingAndGlyphs">Relapse</text>
<line x1="375.60" y1="452.90" x2="367.47" y2="462.39" stroke="#231f20" stroke-width="1.05" stroke-dasharray="2.8 1.7"/>
<polygon points="364.80,465.50 366.05,460.51 367.27,462.61 369.54,463.50" fill="#231f20"/>
<line x1="362.30" y1="476.00" x2="371.90" y2="476.00" stroke="#231f20" stroke-width="1.05"/>
<polygon points="376.00,476.00 371.40,478.30 372.20,476.00 371.40,473.70" fill="#231f20"/>
<line x1="386.20" y1="481.10" x2="386.20" y2="486.50" stroke="#231f20" stroke-width="1.05"/>
<polygon points="386.20,490.60 383.90,486.00 386.20,486.80 388.50,486.00" fill="#231f20"/>
<line x1="386.20" y1="503.60" x2="386.20" y2="509.60" stroke="#231f20" stroke-width="1.05"/>
<polygon points="386.20,513.70 383.90,509.10 386.20,509.90 388.50,509.10" fill="#231f20"/>
<line x1="397.00" y1="474.00" x2="427.88" y2="464.42" stroke="#231f20" stroke-width="1.05" stroke-dasharray="2.8 1.7"/>
<polygon points="431.80,463.20 428.09,466.76 428.17,464.33 426.72,462.37" fill="#231f20"/>
<line x1="397.00" y1="478.20" x2="428.66" y2="487.45" stroke="#231f20" stroke-width="1.05" stroke-dasharray="2.8 1.7"/>
<polygon points="432.60,488.60 427.54,489.52 428.95,487.53 428.83,485.10" fill="#231f20"/>
<line x1="446.80" y1="456.80" x2="451.92" y2="449.64" stroke="#231f20" stroke-width="1.05" stroke-dasharray="2.8 1.7"/>
<polygon points="454.30,446.30 453.50,451.38 452.09,449.39 449.75,448.71" fill="#231f20"/>
<line x1="397.00" y1="451.00" x2="406.50" y2="464.50" stroke="#a3263a" stroke-width="1.0"/>
<line x1="400.50" y1="469.40" x2="412.20" y2="463.00" stroke="#a3263a" stroke-width="2.4"/>
<path d="M400.8,450.2 C414,451 423,460 421.8,479.5" fill="none" stroke="#a3263a" stroke-width="1.0"/>
<line x1="415.40" y1="479.20" x2="426.80" y2="482.30" stroke="#a3263a" stroke-width="2.4"/>
<text x="311.20" y="538.90" font-size="12" textLength="8.60" lengthAdjust="spacingAndGlyphs">G</text>
<text x="338.40" y="556.15" font-size="6.9" text-anchor="middle" textLength="34.60" lengthAdjust="spacingAndGlyphs">Primary AML</text>
<line x1="359.60" y1="553.80" x2="365.50" y2="553.80" stroke="#231f20" stroke-width="1.05"/>
<polygon points="369.60,553.80 365.00,556.10 365.80,553.80 365.00,551.50" fill="#231f20"/>
<polygon points="371.2,553.8 411.5,541.6 452.2,553.6 411.5,565.4" fill="none" stroke="#231f20" stroke-width="1.15"/>
<text x="411.50" y="556.15" font-size="6.9" text-anchor="middle" textLength="41.00" lengthAdjust="spacingAndGlyphs">CBFA2T3 high?</text>
<line x1="411.50" y1="565.40" x2="411.50" y2="571.50" stroke="#231f20" stroke-width="1.05"/>
<polygon points="411.50,575.60 409.20,571.00 411.50,571.80 413.80,571.00" fill="#231f20"/>
<text x="417.30" y="573.95" font-size="6.9" textLength="7.80" lengthAdjust="spacingAndGlyphs">No</text>
<polygon points="364.2,590.1 411.5,576.2 458.6,589.8 411.5,603.9" fill="none" stroke="#231f20" stroke-width="1.15"/>
<text x="411.50" y="589.25" font-size="6.9" text-anchor="middle" textLength="38.00" lengthAdjust="spacingAndGlyphs">CBFA2T3 gene</text>
<text x="411.50" y="596.15" font-size="6.9" text-anchor="middle" textLength="28.50" lengthAdjust="spacingAndGlyphs">repressed?</text>
<line x1="411.50" y1="603.90" x2="411.50" y2="609.90" stroke="#231f20" stroke-width="1.05"/>
<polygon points="411.50,614.00 409.20,609.40 411.50,610.20 413.80,609.40" fill="#231f20"/>
<text x="417.30" y="612.25" font-size="6.9" textLength="9.50" lengthAdjust="spacingAndGlyphs">Yes</text>
<text x="410.80" y="624.25" font-size="6.9" text-anchor="middle" textLength="53.00" lengthAdjust="spacingAndGlyphs">favorable prognosis</text>
<text x="453.40" y="550.15" font-size="6.9" textLength="9.30" lengthAdjust="spacingAndGlyphs">Yes</text>
<path d="M452.2,553.6 C465,554 478,556.5 485.5,561.3" fill="none" stroke="#231f20" stroke-width="0.9"/>
<polygon points="488.2,563.2 482.6,562.4 485.9,558.4" fill="#231f20"/>
<text x="491.30" y="574.35" font-size="6.9" text-anchor="middle" textLength="41.30" lengthAdjust="spacingAndGlyphs">poor prognosis</text>
<text x="453.40" y="586.05" font-size="6.9" textLength="7.80" lengthAdjust="spacingAndGlyphs">No</text>
<path d="M458.6,589.8 C470,590.5 480,587 488.5,583.3" fill="none" stroke="#231f20" stroke-width="0.9"/>
<polygon points="491.3,581.8 485.8,580.8 487.6,585.6" fill="#231f20"/>
</g>
<rect x="0.8" y="7.6" width="518.4" height="624.4" fill="none" stroke="#3a3a3a" stroke-width="1.8"/>
</svg>
</body></html>
